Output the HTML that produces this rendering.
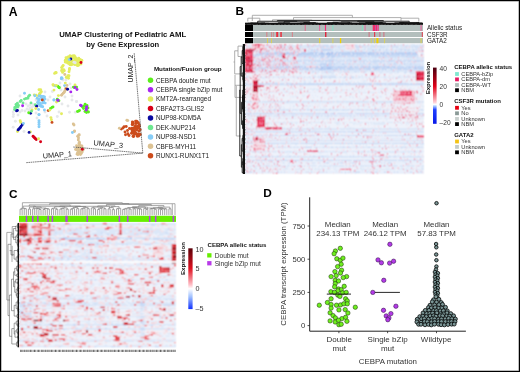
<!DOCTYPE html>
<html><head><meta charset="utf-8"><style>
html,body{margin:0;padding:0;background:#fff;}
svg{display:block;will-change:transform;}
text{font-family:"Liberation Sans",sans-serif;}
</style></head><body>
<svg width="520" height="372" viewBox="0 0 520 372" font-family="Liberation Sans, sans-serif">
<defs><filter id="bl" x="-2%" y="-2%" width="104%" height="104%"><feConvolveMatrix order="3" kernelMatrix="1 2 1 2 4 2 1 2 1" divisor="16" edgeMode="duplicate"/></filter></defs>
<rect width="520" height="372" fill="#fff"/>
<text x="8.8" y="15.7" font-size="12.2" font-weight="bold" text-anchor="start" fill="#000" >A</text>
<text x="235.4" y="15.4" font-size="11.8" font-weight="bold" text-anchor="start" fill="#000" >B</text>
<text x="9.0" y="197.7" font-size="11.8" font-weight="bold" text-anchor="start" fill="#000" >C</text>
<text x="263.2" y="196.9" font-size="11.8" font-weight="bold" text-anchor="start" fill="#000" >D</text>
<circle cx="13.2" cy="112.0" r="1.45" fill="#e6e8ea"/>
<circle cx="13.5" cy="114.5" r="1.45" fill="#e6e8ea"/>
<circle cx="13.2" cy="116.6" r="1.45" fill="#e6e8ea"/>
<circle cx="13.2" cy="127.2" r="1.45" fill="#e6e8ea"/>
<circle cx="24.0" cy="131.5" r="1.45" fill="#e6e8ea"/>
<circle cx="15.4" cy="121.3" r="1.45" fill="#e6e8ea"/>
<circle cx="26.0" cy="104.0" r="1.45" fill="#e6e8ea"/>
<circle cx="28.0" cy="106.0" r="1.45" fill="#e6e8ea"/>
<circle cx="30.0" cy="105.0" r="1.45" fill="#e6e8ea"/>
<circle cx="33.0" cy="104.5" r="1.45" fill="#e6e8ea"/>
<circle cx="27.0" cy="109.0" r="1.45" fill="#e6e8ea"/>
<circle cx="29.0" cy="110.0" r="1.45" fill="#e6e8ea"/>
<circle cx="32.0" cy="107.0" r="1.45" fill="#e6e8ea"/>
<circle cx="34.0" cy="106.0" r="1.45" fill="#e6e8ea"/>
<circle cx="25.0" cy="111.0" r="1.45" fill="#e6e8ea"/>
<circle cx="30.0" cy="108.0" r="1.45" fill="#e6e8ea"/>
<circle cx="22.0" cy="110.5" r="1.45" fill="#e6e8ea"/>
<circle cx="20.0" cy="112.0" r="1.45" fill="#e6e8ea"/>
<circle cx="57.3" cy="116.5" r="1.45" fill="#e6e8ea"/>
<circle cx="52.4" cy="91.5" r="1.45" fill="#e6e8ea"/>
<circle cx="69.5" cy="112.2" r="1.45" fill="#e6e8ea"/>
<circle cx="75.4" cy="112.2" r="1.45" fill="#e6e8ea"/>
<circle cx="76.5" cy="101.5" r="1.45" fill="#e6e8ea"/>
<circle cx="76.6" cy="101.6" r="1.45" fill="#e6e8ea"/>
<circle cx="62.0" cy="104.0" r="1.45" fill="#e6e8ea"/>
<circle cx="59.0" cy="112.0" r="1.45" fill="#e6e8ea"/>
<circle cx="65.0" cy="97.0" r="1.45" fill="#e6e8ea"/>
<circle cx="63.0" cy="80.0" r="1.45" fill="#e6e8ea"/>
<circle cx="60.0" cy="83.0" r="1.45" fill="#e6e8ea"/>
<circle cx="66.0" cy="80.0" r="1.45" fill="#e6e8ea"/>
<circle cx="71.0" cy="88.0" r="1.45" fill="#e6e8ea"/>
<circle cx="74.0" cy="62.2" r="1.45" fill="#e6e8ea"/>
<circle cx="75.0" cy="61.5" r="1.45" fill="#e6e8ea"/>
<circle cx="50.0" cy="97.0" r="1.45" fill="#e6e8ea"/>
<circle cx="48.0" cy="100.0" r="1.45" fill="#e6e8ea"/>
<circle cx="45.0" cy="112.0" r="1.45" fill="#e6e8ea"/>
<circle cx="47.0" cy="116.0" r="1.45" fill="#e6e8ea"/>
<circle cx="37.0" cy="118.0" r="1.45" fill="#e6e8ea"/>
<circle cx="45.0" cy="92.0" r="1.45" fill="#e6e8ea"/>
<circle cx="36.0" cy="100.0" r="1.45" fill="#e6e8ea"/>
<circle cx="20.0" cy="96.0" r="1.45" fill="#e6e8ea"/>
<circle cx="18.0" cy="115.0" r="1.45" fill="#e6e8ea"/>
<circle cx="72.0" cy="100.0" r="1.45" fill="#e6e8ea"/>
<circle cx="68.0" cy="106.0" r="1.45" fill="#e6e8ea"/>
<circle cx="36.0" cy="113.0" r="1.45" fill="#e6e8ea"/>
<circle cx="60.0" cy="87.0" r="1.45" fill="#e6e8ea"/>
<circle cx="61.0" cy="90.0" r="1.45" fill="#e6e8ea"/>
<circle cx="70.0" cy="84.0" r="1.45" fill="#e6e8ea"/>
<circle cx="72.0" cy="96.0" r="1.45" fill="#e6e8ea"/>
<circle cx="72.9" cy="61.2" r="1.45" fill="#e3ec5e"/>
<circle cx="81.3" cy="60.2" r="1.45" fill="#e3ec5e"/>
<circle cx="73.8" cy="61.5" r="1.45" fill="#e3ec5e"/>
<circle cx="68.1" cy="60.7" r="1.45" fill="#e3ec5e"/>
<circle cx="76.0" cy="63.8" r="1.45" fill="#e3ec5e"/>
<circle cx="66.5" cy="58.5" r="1.45" fill="#e3ec5e"/>
<circle cx="76.4" cy="61.8" r="1.45" fill="#e3ec5e"/>
<circle cx="74.2" cy="55.8" r="1.45" fill="#e3ec5e"/>
<circle cx="68.2" cy="57.8" r="1.45" fill="#e3ec5e"/>
<circle cx="65.3" cy="60.2" r="1.45" fill="#e3ec5e"/>
<circle cx="72.6" cy="64.3" r="1.45" fill="#e3ec5e"/>
<circle cx="74.0" cy="62.1" r="1.45" fill="#e3ec5e"/>
<circle cx="73.7" cy="62.4" r="1.45" fill="#e3ec5e"/>
<circle cx="72.9" cy="58.2" r="1.45" fill="#e3ec5e"/>
<circle cx="79.8" cy="62.8" r="1.45" fill="#e3ec5e"/>
<circle cx="70.4" cy="57.7" r="1.45" fill="#e3ec5e"/>
<circle cx="69.9" cy="56.0" r="1.45" fill="#e3ec5e"/>
<circle cx="78.4" cy="59.5" r="1.45" fill="#e3ec5e"/>
<circle cx="79.9" cy="59.4" r="1.45" fill="#e3ec5e"/>
<circle cx="81.0" cy="60.3" r="1.45" fill="#e3ec5e"/>
<circle cx="66.1" cy="62.0" r="1.45" fill="#e3ec5e"/>
<circle cx="78.7" cy="58.1" r="1.45" fill="#e3ec5e"/>
<circle cx="66.4" cy="58.8" r="1.45" fill="#e3ec5e"/>
<circle cx="66.9" cy="57.9" r="1.45" fill="#e3ec5e"/>
<circle cx="74.8" cy="60.0" r="1.45" fill="#e3ec5e"/>
<circle cx="68.2" cy="63.1" r="1.45" fill="#e3ec5e"/>
<circle cx="67.1" cy="62.2" r="1.45" fill="#e3ec5e"/>
<circle cx="66.9" cy="59.7" r="1.45" fill="#e3ec5e"/>
<circle cx="68.6" cy="58.1" r="1.45" fill="#e3ec5e"/>
<circle cx="70.2" cy="64.8" r="1.45" fill="#e3ec5e"/>
<circle cx="68.6" cy="59.5" r="1.45" fill="#e3ec5e"/>
<circle cx="80.0" cy="62.1" r="1.45" fill="#e3ec5e"/>
<circle cx="68.6" cy="58.0" r="1.45" fill="#e3ec5e"/>
<circle cx="78.6" cy="58.8" r="1.45" fill="#e3ec5e"/>
<circle cx="70.1" cy="56.0" r="1.45" fill="#e3ec5e"/>
<circle cx="66.4" cy="61.5" r="1.45" fill="#e3ec5e"/>
<circle cx="69.1" cy="61.7" r="1.45" fill="#e3ec5e"/>
<circle cx="71.4" cy="60.1" r="1.45" fill="#e3ec5e"/>
<circle cx="81.9" cy="60.4" r="1.45" fill="#e3ec5e"/>
<circle cx="75.0" cy="64.6" r="1.45" fill="#e3ec5e"/>
<circle cx="68.1" cy="56.9" r="1.45" fill="#e3ec5e"/>
<circle cx="81.0" cy="64.0" r="1.45" fill="#e3ec5e"/>
<circle cx="69.2" cy="57.2" r="1.45" fill="#e3ec5e"/>
<circle cx="78.0" cy="65.4" r="1.45" fill="#e3ec5e"/>
<circle cx="80.5" cy="61.7" r="1.45" fill="#e3ec5e"/>
<circle cx="72.3" cy="56.3" r="1.45" fill="#e3ec5e"/>
<circle cx="69.0" cy="62.8" r="1.45" fill="#e3ec5e"/>
<circle cx="69.4" cy="64.1" r="1.45" fill="#e3ec5e"/>
<circle cx="75.4" cy="58.4" r="1.45" fill="#e3ec5e"/>
<circle cx="67.9" cy="63.0" r="1.45" fill="#e3ec5e"/>
<circle cx="66.0" cy="57.7" r="1.45" fill="#e3ec5e"/>
<circle cx="74.8" cy="64.4" r="1.45" fill="#e3ec5e"/>
<circle cx="75.7" cy="58.2" r="1.45" fill="#e3ec5e"/>
<circle cx="72.7" cy="55.9" r="1.45" fill="#e3ec5e"/>
<circle cx="67.9" cy="59.2" r="1.45" fill="#e3ec5e"/>
<circle cx="75.0" cy="56.6" r="1.45" fill="#e3ec5e"/>
<circle cx="71.2" cy="64.8" r="1.45" fill="#e3ec5e"/>
<circle cx="77.1" cy="61.5" r="1.45" fill="#e3ec5e"/>
<circle cx="77.3" cy="65.6" r="1.45" fill="#e3ec5e"/>
<circle cx="65.2" cy="62.1" r="1.45" fill="#e3ec5e"/>
<circle cx="73.4" cy="63.1" r="1.45" fill="#e3ec5e"/>
<circle cx="66.1" cy="61.1" r="1.45" fill="#e3ec5e"/>
<circle cx="77.9" cy="64.9" r="1.45" fill="#e3ec5e"/>
<circle cx="77.9" cy="62.8" r="1.45" fill="#e3ec5e"/>
<circle cx="78.9" cy="65.1" r="1.45" fill="#e3ec5e"/>
<circle cx="71.1" cy="62.6" r="1.45" fill="#e3ec5e"/>
<circle cx="72.2" cy="63.7" r="1.45" fill="#e3ec5e"/>
<circle cx="80.2" cy="61.4" r="1.45" fill="#e3ec5e"/>
<circle cx="75.9" cy="59.3" r="1.45" fill="#e3ec5e"/>
<circle cx="75.2" cy="61.8" r="1.45" fill="#e3ec5e"/>
<circle cx="74.0" cy="62.2" r="1.45" fill="#e6e8ea"/>
<circle cx="75.2" cy="62.8" r="1.45" fill="#e6e8ea"/>
<circle cx="70.8" cy="59.0" r="1.45" fill="#0a0aa0"/>
<circle cx="69.2" cy="59.6" r="1.45" fill="#86cdf7"/>
<circle cx="81.0" cy="62.5" r="1.45" fill="#d80018"/>
<circle cx="63.2" cy="65.5" r="1.45" fill="#e3ec5e"/>
<circle cx="61.6" cy="67.6" r="1.45" fill="#e3ec5e"/>
<circle cx="62.2" cy="69.8" r="1.45" fill="#e3ec5e"/>
<circle cx="64.3" cy="70.8" r="1.45" fill="#e3ec5e"/>
<circle cx="69.4" cy="69.8" r="1.45" fill="#e3ec5e"/>
<circle cx="63.7" cy="69.7" r="1.45" fill="#e3ec5e"/>
<circle cx="62.6" cy="72.4" r="1.45" fill="#e3ec5e"/>
<circle cx="61.6" cy="70.8" r="1.45" fill="#e3ec5e"/>
<circle cx="69.0" cy="71.8" r="1.45" fill="#e3ec5e"/>
<circle cx="69.5" cy="68.5" r="1.45" fill="#e3ec5e"/>
<circle cx="62.5" cy="66.5" r="1.45" fill="#e3ec5e"/>
<circle cx="55.6" cy="72.4" r="1.45" fill="#e3ec5e"/>
<circle cx="54.6" cy="73.4" r="1.45" fill="#e3ec5e"/>
<circle cx="56.2" cy="72.8" r="1.45" fill="#e3ec5e"/>
<circle cx="68.0" cy="75.6" r="1.45" fill="#e3ec5e"/>
<circle cx="66.4" cy="77.2" r="1.45" fill="#e3ec5e"/>
<circle cx="69.0" cy="75.8" r="1.45" fill="#e3ec5e"/>
<circle cx="68.5" cy="78.2" r="1.45" fill="#e3ec5e"/>
<circle cx="66.5" cy="77.4" r="1.45" fill="#e3ec5e"/>
<circle cx="64.8" cy="74.5" r="1.45" fill="#dcc293"/>
<circle cx="61.5" cy="77.8" r="1.45" fill="#86cdf7"/>
<circle cx="61.3" cy="78.7" r="1.45" fill="#86cdf7"/>
<circle cx="62.0" cy="78.3" r="1.45" fill="#86cdf7"/>
<circle cx="53.2" cy="85.1" r="1.45" fill="#e3ec5e"/>
<circle cx="53.5" cy="85.3" r="1.45" fill="#e3ec5e"/>
<circle cx="55.4" cy="85.9" r="1.45" fill="#86cdf7"/>
<circle cx="57.8" cy="86.3" r="1.45" fill="#5bef1c"/>
<circle cx="58.9" cy="87.4" r="1.45" fill="#5bef1c"/>
<circle cx="59.3" cy="87.8" r="1.45" fill="#5bef1c"/>
<circle cx="65.3" cy="83.1" r="1.45" fill="#e3ec5e"/>
<circle cx="64.6" cy="85.6" r="1.45" fill="#86cdf7"/>
<circle cx="67.0" cy="85.4" r="1.45" fill="#dcc293"/>
<circle cx="65.5" cy="88.5" r="1.45" fill="#dcc293"/>
<circle cx="66.4" cy="89.0" r="1.45" fill="#cc4c1c"/>
<circle cx="67.6" cy="89.3" r="1.45" fill="#0a0aa0"/>
<circle cx="64.9" cy="90.7" r="1.45" fill="#dcc293"/>
<circle cx="64.2" cy="92.3" r="1.45" fill="#dcc293"/>
<circle cx="63.2" cy="93.3" r="1.45" fill="#dcc293"/>
<circle cx="62.1" cy="94.4" r="1.45" fill="#dcc293"/>
<circle cx="61.5" cy="95.3" r="1.45" fill="#dcc293"/>
<circle cx="54.0" cy="90.1" r="1.45" fill="#e3ec5e"/>
<circle cx="58.4" cy="95.6" r="1.45" fill="#e3ec5e"/>
<circle cx="75.0" cy="85.0" r="1.45" fill="#e3ec5e"/>
<circle cx="73.4" cy="87.1" r="1.45" fill="#5bef1c"/>
<circle cx="76.6" cy="87.1" r="1.45" fill="#5bef1c"/>
<circle cx="74.2" cy="87.6" r="1.45" fill="#5bef1c"/>
<circle cx="75.0" cy="87.5" r="1.45" fill="#a726ef"/>
<circle cx="77.0" cy="89.5" r="1.45" fill="#a726ef"/>
<circle cx="70.8" cy="91.9" r="1.45" fill="#a726ef"/>
<circle cx="53.9" cy="100.0" r="1.45" fill="#86cdf7"/>
<circle cx="57.3" cy="99.2" r="1.45" fill="#5bef1c"/>
<circle cx="58.9" cy="100.8" r="1.45" fill="#5bef1c"/>
<circle cx="57.9" cy="100.3" r="1.45" fill="#a726ef"/>
<circle cx="56.5" cy="102.0" r="1.45" fill="#e3ec5e"/>
<circle cx="39.0" cy="89.7" r="1.45" fill="#e3ec5e"/>
<circle cx="41.2" cy="91.8" r="1.45" fill="#e3ec5e"/>
<circle cx="39.6" cy="94.0" r="1.45" fill="#e3ec5e"/>
<circle cx="38.5" cy="96.1" r="1.45" fill="#e3ec5e"/>
<circle cx="40.6" cy="89.6" r="1.45" fill="#e3ec5e"/>
<circle cx="41.1" cy="91.7" r="1.45" fill="#e3ec5e"/>
<circle cx="40.0" cy="93.3" r="1.45" fill="#e3ec5e"/>
<circle cx="39.5" cy="94.4" r="1.45" fill="#e3ec5e"/>
<circle cx="38.1" cy="102.8" r="1.45" fill="#86cdf7"/>
<circle cx="43.7" cy="99.1" r="1.45" fill="#86cdf7"/>
<circle cx="43.7" cy="101.9" r="1.45" fill="#86cdf7"/>
<circle cx="41.2" cy="105.7" r="1.45" fill="#86cdf7"/>
<circle cx="38.1" cy="104.4" r="1.45" fill="#86cdf7"/>
<circle cx="37.7" cy="102.2" r="1.45" fill="#86cdf7"/>
<circle cx="41.5" cy="96.8" r="1.45" fill="#86cdf7"/>
<circle cx="43.4" cy="100.7" r="1.45" fill="#86cdf7"/>
<circle cx="42.7" cy="106.8" r="1.45" fill="#86cdf7"/>
<circle cx="40.0" cy="103.3" r="1.45" fill="#86cdf7"/>
<circle cx="39.1" cy="96.0" r="1.45" fill="#86cdf7"/>
<circle cx="45.2" cy="103.1" r="1.45" fill="#86cdf7"/>
<circle cx="41.2" cy="106.4" r="1.45" fill="#86cdf7"/>
<circle cx="40.2" cy="103.2" r="1.45" fill="#86cdf7"/>
<circle cx="39.1" cy="99.7" r="1.45" fill="#86cdf7"/>
<circle cx="45.0" cy="99.1" r="1.45" fill="#86cdf7"/>
<circle cx="42.4" cy="98.1" r="1.45" fill="#86cdf7"/>
<circle cx="38.6" cy="100.7" r="1.45" fill="#86cdf7"/>
<circle cx="39.8" cy="96.0" r="1.45" fill="#86cdf7"/>
<circle cx="41.3" cy="97.5" r="1.45" fill="#86cdf7"/>
<circle cx="39.2" cy="99.5" r="1.45" fill="#86cdf7"/>
<circle cx="42.8" cy="100.7" r="1.45" fill="#86cdf7"/>
<circle cx="40.1" cy="105.7" r="1.45" fill="#86cdf7"/>
<circle cx="43.5" cy="101.8" r="1.45" fill="#86cdf7"/>
<circle cx="40.1" cy="105.0" r="1.45" fill="#86cdf7"/>
<circle cx="44.5" cy="96.9" r="1.45" fill="#86cdf7"/>
<circle cx="42.8" cy="100.0" r="1.45" fill="#86cdf7"/>
<circle cx="42.8" cy="103.0" r="1.45" fill="#86cdf7"/>
<circle cx="43.3" cy="96.4" r="1.45" fill="#86cdf7"/>
<circle cx="41.5" cy="96.1" r="1.45" fill="#86cdf7"/>
<circle cx="42.3" cy="99.9" r="1.45" fill="#cc4c1c"/>
<circle cx="24.5" cy="93.3" r="1.45" fill="#86cdf7"/>
<circle cx="29.6" cy="95.3" r="1.45" fill="#6ee891"/>
<circle cx="27.8" cy="98.2" r="1.45" fill="#6ee891"/>
<circle cx="24.5" cy="99.1" r="1.45" fill="#6ee891"/>
<circle cx="21.2" cy="100.5" r="1.45" fill="#6ee891"/>
<circle cx="20.2" cy="101.5" r="1.45" fill="#6ee891"/>
<circle cx="17.4" cy="103.3" r="1.45" fill="#6ee891"/>
<circle cx="16.5" cy="105.2" r="1.45" fill="#6ee891"/>
<circle cx="16.0" cy="106.6" r="1.45" fill="#6ee891"/>
<circle cx="17.9" cy="107.1" r="1.45" fill="#6ee891"/>
<circle cx="14.6" cy="109.5" r="1.45" fill="#6ee891"/>
<circle cx="23.0" cy="102.9" r="1.45" fill="#6ee891"/>
<circle cx="31.0" cy="102.9" r="1.45" fill="#6ee891"/>
<circle cx="35.3" cy="104.8" r="1.45" fill="#6ee891"/>
<circle cx="28.5" cy="96.5" r="1.45" fill="#6ee891"/>
<circle cx="26.0" cy="98.5" r="1.45" fill="#6ee891"/>
<circle cx="15.5" cy="108.0" r="1.45" fill="#6ee891"/>
<circle cx="16.0" cy="104.5" r="1.45" fill="#6ee891"/>
<circle cx="18.5" cy="105.5" r="1.45" fill="#6ee891"/>
<circle cx="14.8" cy="107.5" r="1.45" fill="#6ee891"/>
<circle cx="17.4" cy="110.4" r="1.45" fill="#0a0aa0"/>
<circle cx="16.6" cy="110.9" r="1.45" fill="#0a0aa0"/>
<circle cx="36.7" cy="106.2" r="1.45" fill="#0a0aa0"/>
<circle cx="30.6" cy="113.2" r="1.45" fill="#0a0aa0"/>
<circle cx="22.6" cy="105.7" r="1.45" fill="#a726ef"/>
<circle cx="34.3" cy="94.9" r="1.45" fill="#e3ec5e"/>
<circle cx="36.2" cy="95.3" r="1.45" fill="#e3ec5e"/>
<circle cx="35.8" cy="108.5" r="1.45" fill="#e3ec5e"/>
<circle cx="32.0" cy="110.0" r="1.45" fill="#e3ec5e"/>
<circle cx="30.4" cy="132.0" r="1.45" fill="#e3ec5e"/>
<circle cx="17.5" cy="131.5" r="1.45" fill="#e3ec5e"/>
<circle cx="28.7" cy="112.8" r="1.45" fill="#5bef1c"/>
<circle cx="31.5" cy="111.3" r="1.45" fill="#6ee891"/>
<circle cx="34.8" cy="95.8" r="1.45" fill="#86cdf7"/>
<circle cx="37.2" cy="98.2" r="1.45" fill="#86cdf7"/>
<circle cx="38.6" cy="109.5" r="1.45" fill="#86cdf7"/>
<circle cx="39.0" cy="114.6" r="1.45" fill="#86cdf7"/>
<circle cx="44.4" cy="110.0" r="1.45" fill="#86cdf7"/>
<circle cx="54.0" cy="99.9" r="1.45" fill="#86cdf7"/>
<circle cx="53.0" cy="84.8" r="1.45" fill="#e3ec5e"/>
<circle cx="56.2" cy="85.4" r="1.45" fill="#e3ec5e"/>
<circle cx="57.8" cy="100.4" r="1.45" fill="#a726ef"/>
<circle cx="52.0" cy="107.4" r="1.45" fill="#5bef1c"/>
<circle cx="53.0" cy="106.9" r="1.45" fill="#5bef1c"/>
<circle cx="50.5" cy="108.5" r="1.45" fill="#5bef1c"/>
<circle cx="48.2" cy="110.6" r="1.45" fill="#cc4c1c"/>
<circle cx="49.8" cy="110.1" r="1.45" fill="#e3ec5e"/>
<circle cx="50.9" cy="117.6" r="1.45" fill="#e3ec5e"/>
<circle cx="51.4" cy="119.7" r="1.45" fill="#e3ec5e"/>
<circle cx="52.0" cy="122.4" r="1.45" fill="#cc4c1c"/>
<circle cx="20.2" cy="120.8" r="1.45" fill="#e3ec5e"/>
<circle cx="20.8" cy="122.4" r="1.45" fill="#e3ec5e"/>
<circle cx="18.1" cy="129.9" r="1.45" fill="#0a0aa0"/>
<circle cx="19.7" cy="128.3" r="1.45" fill="#0a0aa0"/>
<circle cx="21.3" cy="126.1" r="1.45" fill="#0a0aa0"/>
<circle cx="22.4" cy="124.5" r="1.45" fill="#0a0aa0"/>
<circle cx="20.5" cy="127.2" r="1.45" fill="#0a0aa0"/>
<circle cx="18.9" cy="129.1" r="1.45" fill="#0a0aa0"/>
<circle cx="23.4" cy="123.4" r="1.45" fill="#86cdf7"/>
<circle cx="29.1" cy="132.4" r="1.45" fill="#0a0aa0"/>
<circle cx="33.1" cy="136.3" r="1.45" fill="#d80018"/>
<circle cx="34.7" cy="138.0" r="1.45" fill="#d80018"/>
<circle cx="36.3" cy="139.6" r="1.45" fill="#d80018"/>
<circle cx="40.6" cy="141.7" r="1.45" fill="#d80018"/>
<circle cx="35.5" cy="138.8" r="1.45" fill="#d80018"/>
<circle cx="34.0" cy="137.2" r="1.45" fill="#d80018"/>
<circle cx="38.5" cy="138.8" r="1.45" fill="#e3ec5e"/>
<circle cx="39.0" cy="120.8" r="1.45" fill="#86cdf7"/>
<circle cx="39.0" cy="122.5" r="1.45" fill="#86cdf7"/>
<circle cx="39.0" cy="124.5" r="1.45" fill="#86cdf7"/>
<circle cx="39.0" cy="126.7" r="1.45" fill="#86cdf7"/>
<circle cx="39.0" cy="114.8" r="1.45" fill="#86cdf7"/>
<circle cx="78.7" cy="111.1" r="1.45" fill="#5bef1c"/>
<circle cx="77.5" cy="111.5" r="1.45" fill="#5bef1c"/>
<circle cx="79.5" cy="110.5" r="1.45" fill="#5bef1c"/>
<circle cx="86.2" cy="109.0" r="1.45" fill="#5bef1c"/>
<circle cx="85.1" cy="104.1" r="1.45" fill="#5bef1c"/>
<circle cx="84.0" cy="106.0" r="1.45" fill="#5bef1c"/>
<circle cx="87.0" cy="105.5" r="1.45" fill="#5bef1c"/>
<circle cx="88.0" cy="108.0" r="1.45" fill="#5bef1c"/>
<circle cx="87.0" cy="111.0" r="1.45" fill="#5bef1c"/>
<circle cx="85.0" cy="111.5" r="1.45" fill="#5bef1c"/>
<circle cx="88.5" cy="112.0" r="1.45" fill="#5bef1c"/>
<circle cx="83.5" cy="108.5" r="1.45" fill="#5bef1c"/>
<circle cx="82.5" cy="107.0" r="1.45" fill="#5bef1c"/>
<circle cx="85.5" cy="106.5" r="1.45" fill="#5bef1c"/>
<circle cx="86.5" cy="112.5" r="1.45" fill="#5bef1c"/>
<circle cx="81.3" cy="105.8" r="1.45" fill="#a726ef"/>
<circle cx="80.5" cy="105.2" r="1.45" fill="#a726ef"/>
<circle cx="86.7" cy="106.8" r="1.45" fill="#a726ef"/>
<circle cx="86.2" cy="110.1" r="1.45" fill="#a726ef"/>
<circle cx="86.5" cy="108.5" r="1.45" fill="#a726ef"/>
<circle cx="61.5" cy="113.8" r="1.45" fill="#e3ec5e"/>
<circle cx="73.3" cy="124.0" r="1.45" fill="#dcc293"/>
<circle cx="74.0" cy="125.0" r="1.45" fill="#dcc293"/>
<circle cx="74.5" cy="130.9" r="1.45" fill="#dcc293"/>
<circle cx="74.4" cy="131.5" r="1.45" fill="#dcc293"/>
<circle cx="79.2" cy="134.8" r="1.45" fill="#dcc293"/>
<circle cx="78.8" cy="135.2" r="1.45" fill="#dcc293"/>
<circle cx="77.7" cy="136.3" r="1.45" fill="#dcc293"/>
<circle cx="78.3" cy="140.0" r="1.45" fill="#dcc293"/>
<circle cx="79.4" cy="142.2" r="1.45" fill="#dcc293"/>
<circle cx="79.9" cy="144.9" r="1.45" fill="#dcc293"/>
<circle cx="78.8" cy="146.5" r="1.45" fill="#dcc293"/>
<circle cx="81.0" cy="146.5" r="1.45" fill="#dcc293"/>
<circle cx="78.5" cy="138.0" r="1.45" fill="#dcc293"/>
<circle cx="79.0" cy="143.5" r="1.45" fill="#dcc293"/>
<circle cx="72.4" cy="132.5" r="1.45" fill="#86cdf7"/>
<circle cx="75.6" cy="149.4" r="1.45" fill="#dcc293"/>
<circle cx="81.2" cy="146.1" r="1.45" fill="#dcc293"/>
<circle cx="77.7" cy="148.0" r="1.45" fill="#dcc293"/>
<circle cx="81.1" cy="150.0" r="1.45" fill="#dcc293"/>
<circle cx="80.4" cy="152.7" r="1.45" fill="#dcc293"/>
<circle cx="78.6" cy="153.1" r="1.45" fill="#dcc293"/>
<circle cx="76.5" cy="149.2" r="1.45" fill="#dcc293"/>
<circle cx="80.5" cy="154.5" r="1.45" fill="#dcc293"/>
<circle cx="78.5" cy="150.5" r="1.45" fill="#dcc293"/>
<circle cx="83.1" cy="149.3" r="1.45" fill="#dcc293"/>
<circle cx="80.7" cy="146.4" r="1.45" fill="#dcc293"/>
<circle cx="81.3" cy="153.4" r="1.45" fill="#dcc293"/>
<circle cx="80.6" cy="152.3" r="1.45" fill="#dcc293"/>
<circle cx="77.2" cy="154.3" r="1.45" fill="#dcc293"/>
<circle cx="79.8" cy="153.1" r="1.45" fill="#dcc293"/>
<circle cx="78.1" cy="154.5" r="1.45" fill="#dcc293"/>
<circle cx="82.3" cy="148.0" r="1.45" fill="#dcc293"/>
<circle cx="76.2" cy="149.1" r="1.45" fill="#dcc293"/>
<circle cx="79.9" cy="152.8" r="1.45" fill="#dcc293"/>
<circle cx="79.4" cy="144.3" r="1.45" fill="#dcc293"/>
<circle cx="81.9" cy="146.0" r="1.45" fill="#dcc293"/>
<circle cx="78.2" cy="153.1" r="1.45" fill="#dcc293"/>
<circle cx="76.6" cy="145.7" r="1.45" fill="#dcc293"/>
<circle cx="79.6" cy="152.3" r="1.45" fill="#dcc293"/>
<circle cx="82.2" cy="151.9" r="1.45" fill="#dcc293"/>
<circle cx="83.1" cy="149.7" r="1.45" fill="#dcc293"/>
<circle cx="77.3" cy="150.1" r="1.45" fill="#dcc293"/>
<circle cx="77.8" cy="152.4" r="1.45" fill="#dcc293"/>
<circle cx="80.6" cy="150.0" r="1.45" fill="#dcc293"/>
<circle cx="82.2" cy="150.4" r="1.45" fill="#dcc293"/>
<circle cx="78.0" cy="148.4" r="1.45" fill="#dcc293"/>
<circle cx="77.2" cy="153.8" r="1.45" fill="#dcc293"/>
<circle cx="80.1" cy="146.3" r="1.45" fill="#dcc293"/>
<circle cx="79.8" cy="149.8" r="1.45" fill="#dcc293"/>
<circle cx="82.3" cy="149.2" r="1.45" fill="#d80018"/>
<circle cx="136.6" cy="121.3" r="1.45" fill="#cc4c1c"/>
<circle cx="140.2" cy="129.6" r="1.45" fill="#cc4c1c"/>
<circle cx="134.5" cy="134.4" r="1.45" fill="#cc4c1c"/>
<circle cx="136.1" cy="129.1" r="1.45" fill="#cc4c1c"/>
<circle cx="137.4" cy="121.9" r="1.45" fill="#cc4c1c"/>
<circle cx="135.9" cy="127.8" r="1.45" fill="#cc4c1c"/>
<circle cx="133.2" cy="128.8" r="1.45" fill="#cc4c1c"/>
<circle cx="131.8" cy="128.2" r="1.45" fill="#cc4c1c"/>
<circle cx="138.7" cy="136.1" r="1.45" fill="#cc4c1c"/>
<circle cx="135.3" cy="126.2" r="1.45" fill="#cc4c1c"/>
<circle cx="132.4" cy="131.3" r="1.45" fill="#cc4c1c"/>
<circle cx="132.4" cy="124.7" r="1.45" fill="#cc4c1c"/>
<circle cx="137.4" cy="126.3" r="1.45" fill="#cc4c1c"/>
<circle cx="134.1" cy="131.3" r="1.45" fill="#cc4c1c"/>
<circle cx="131.5" cy="133.2" r="1.45" fill="#cc4c1c"/>
<circle cx="131.7" cy="129.5" r="1.45" fill="#cc4c1c"/>
<circle cx="133.0" cy="124.2" r="1.45" fill="#cc4c1c"/>
<circle cx="135.8" cy="128.2" r="1.45" fill="#cc4c1c"/>
<circle cx="134.3" cy="127.8" r="1.45" fill="#cc4c1c"/>
<circle cx="135.8" cy="123.5" r="1.45" fill="#cc4c1c"/>
<circle cx="132.5" cy="131.5" r="1.45" fill="#cc4c1c"/>
<circle cx="136.9" cy="129.8" r="1.45" fill="#cc4c1c"/>
<circle cx="139.0" cy="131.2" r="1.45" fill="#cc4c1c"/>
<circle cx="139.1" cy="124.8" r="1.45" fill="#cc4c1c"/>
<circle cx="137.9" cy="134.6" r="1.45" fill="#cc4c1c"/>
<circle cx="139.5" cy="126.2" r="1.45" fill="#cc4c1c"/>
<circle cx="133.6" cy="136.5" r="1.45" fill="#cc4c1c"/>
<circle cx="132.9" cy="133.2" r="1.45" fill="#cc4c1c"/>
<circle cx="133.1" cy="122.4" r="1.45" fill="#cc4c1c"/>
<circle cx="138.8" cy="128.0" r="1.45" fill="#cc4c1c"/>
<circle cx="138.4" cy="122.9" r="1.45" fill="#cc4c1c"/>
<circle cx="134.5" cy="132.4" r="1.45" fill="#cc4c1c"/>
<circle cx="137.3" cy="136.3" r="1.45" fill="#cc4c1c"/>
<circle cx="135.6" cy="133.7" r="1.45" fill="#cc4c1c"/>
<circle cx="135.5" cy="132.5" r="1.45" fill="#cc4c1c"/>
<circle cx="132.4" cy="122.0" r="1.45" fill="#cc4c1c"/>
<circle cx="136.0" cy="129.6" r="1.45" fill="#cc4c1c"/>
<circle cx="136.2" cy="123.3" r="1.45" fill="#cc4c1c"/>
<circle cx="132.3" cy="124.3" r="1.45" fill="#cc4c1c"/>
<circle cx="135.1" cy="133.8" r="1.45" fill="#cc4c1c"/>
<circle cx="133.8" cy="128.7" r="1.45" fill="#cc4c1c"/>
<circle cx="135.7" cy="128.1" r="1.45" fill="#cc4c1c"/>
<circle cx="137.5" cy="135.2" r="1.45" fill="#cc4c1c"/>
<circle cx="132.3" cy="128.5" r="1.45" fill="#cc4c1c"/>
<circle cx="137.9" cy="127.7" r="1.45" fill="#cc4c1c"/>
<circle cx="132.5" cy="123.6" r="1.45" fill="#cc4c1c"/>
<circle cx="135.6" cy="121.1" r="1.45" fill="#cc4c1c"/>
<circle cx="139.4" cy="134.4" r="1.45" fill="#cc4c1c"/>
<circle cx="137.5" cy="135.4" r="1.45" fill="#cc4c1c"/>
<circle cx="136.8" cy="127.7" r="1.45" fill="#cc4c1c"/>
<circle cx="136.5" cy="129.4" r="1.45" fill="#cc4c1c"/>
<circle cx="140.3" cy="134.5" r="1.45" fill="#cc4c1c"/>
<circle cx="133.1" cy="136.3" r="1.45" fill="#cc4c1c"/>
<circle cx="137.9" cy="134.0" r="1.45" fill="#cc4c1c"/>
<circle cx="138.6" cy="127.7" r="1.45" fill="#cc4c1c"/>
<circle cx="121.3" cy="129.1" r="1.45" fill="#cc4c1c"/>
<circle cx="124.1" cy="126.8" r="1.45" fill="#cc4c1c"/>
<circle cx="126.2" cy="126.5" r="1.45" fill="#cc4c1c"/>
<circle cx="125.0" cy="131.9" r="1.45" fill="#cc4c1c"/>
<circle cx="125.5" cy="134.8" r="1.45" fill="#cc4c1c"/>
<circle cx="127.9" cy="133.8" r="1.45" fill="#cc4c1c"/>
<circle cx="127.5" cy="130.5" r="1.45" fill="#cc4c1c"/>
<circle cx="129.0" cy="135.5" r="1.45" fill="#cc4c1c"/>
<circle cx="123.0" cy="128.0" r="1.45" fill="#cc4c1c"/>
<circle cx="129.5" cy="128.5" r="1.45" fill="#cc4c1c"/>
<circle cx="126.9" cy="120.2" r="1.45" fill="#dcc293"/>
<circle cx="127.8" cy="120.6" r="1.45" fill="#dcc293"/>
<circle cx="119.4" cy="128.2" r="1.45" fill="#dcc293"/>
<text x="122.7" y="37.2" font-size="7.8" font-weight="bold" text-anchor="middle" fill="#111" >UMAP Clustering of Pediatric AML</text>
<text x="122.7" y="46.5" font-size="7.6" font-weight="bold" text-anchor="middle" fill="#111" >by Gene Expression</text>
<path d="M134.2 53.2 L142.8 153.1 L25.8 162.7 M142.8 153.1 L73 147" stroke="#444" stroke-width="0.7" stroke-dasharray="1.6,0.6" fill="none"/>
<text transform="translate(43,158.5) rotate(-4.7)" font-size="7.3" fill="#222">UMAP_1</text>
<text transform="translate(93.3,145.3) rotate(5.5)" font-size="7.4" fill="#222">UMAP_3</text>
<text transform="translate(133.3,82.6) rotate(-90)" font-size="7" fill="#222">UMAP_2</text>
<text x="153.9" y="70.8" font-size="6.26" font-weight="bold" text-anchor="start" fill="#111" >Mutation/Fusion group</text>
<circle cx="150.5" cy="80.20" r="2.75" fill="#5bef1c"/>
<text x="155.9" y="82.5" font-size="6.45" font-weight="normal" text-anchor="start" fill="#222" >CEBPA double mut</text>
<circle cx="150.5" cy="89.65" r="2.75" fill="#a726ef"/>
<text x="155.9" y="92.0" font-size="6.45" font-weight="normal" text-anchor="start" fill="#222" >CEBPA single bZip mut</text>
<circle cx="150.5" cy="99.10" r="2.75" fill="#e3ec5e"/>
<text x="155.9" y="101.4" font-size="6.45" font-weight="normal" text-anchor="start" fill="#222" >KMT2A-rearranged</text>
<circle cx="150.5" cy="108.55" r="2.75" fill="#d80018"/>
<text x="155.9" y="110.8" font-size="6.45" font-weight="normal" text-anchor="start" fill="#222" >CBFA2T3-GLIS2</text>
<circle cx="150.5" cy="118.00" r="2.75" fill="#0a0aa0"/>
<text x="155.9" y="120.3" font-size="6.45" font-weight="normal" text-anchor="start" fill="#222" >NUP98-KDM5A</text>
<circle cx="150.5" cy="127.45" r="2.75" fill="#6ee891"/>
<text x="155.9" y="129.8" font-size="6.45" font-weight="normal" text-anchor="start" fill="#222" >DEK-NUP214</text>
<circle cx="150.5" cy="136.90" r="2.75" fill="#86cdf7"/>
<text x="155.9" y="139.2" font-size="6.45" font-weight="normal" text-anchor="start" fill="#222" >NUP98-NSD1</text>
<circle cx="150.5" cy="146.35" r="2.75" fill="#dcc293"/>
<text x="155.9" y="148.7" font-size="6.45" font-weight="normal" text-anchor="start" fill="#222" >CBFB-MYH11</text>
<circle cx="150.5" cy="155.80" r="2.75" fill="#cc4c1c"/>
<text x="155.9" y="158.1" font-size="6.45" font-weight="normal" text-anchor="start" fill="#222" >RUNX1-RUNX1T1</text>
<g filter="url(#bl)"><rect x="245" y="44" width="179" height="5.25" fill="#dce7f8"/>
<rect x="245" y="49.2" width="179" height="1.35" fill="#cadbf5"/>
<rect x="245" y="50.5" width="179" height="1.35" fill="#dce7f8"/>
<rect x="245" y="51.8" width="179" height="3.95" fill="#b9cff2"/>
<rect x="245" y="55.7" width="179" height="1.35" fill="#cadbf5"/>
<rect x="245" y="57" width="179" height="2.65" fill="#dce7f8"/>
<rect x="245" y="59.6" width="179" height="2.65" fill="#cadbf5"/>
<rect x="245" y="62.2" width="179" height="1.35" fill="#dce7f8"/>
<rect x="245" y="63.5" width="179" height="1.35" fill="#cadbf5"/>
<rect x="245" y="64.8" width="179" height="1.35" fill="#dce7f8"/>
<rect x="245" y="66.1" width="179" height="2.65" fill="#b9cff2"/>
<rect x="245" y="68.7" width="179" height="1.35" fill="#cadbf5"/>
<rect x="245" y="70" width="179" height="2.65" fill="#dce7f8"/>
<rect x="245" y="72.6" width="179" height="3.95" fill="#eef2fa"/>
<rect x="245" y="76.5" width="179" height="1.35" fill="#dce7f8"/>
<rect x="245" y="77.8" width="179" height="5.25" fill="#eef2fa"/>
<rect x="245" y="83" width="179" height="2.65" fill="#cadbf5"/>
<rect x="245" y="85.6" width="179" height="6.55" fill="#eef2fa"/>
<rect x="245" y="92.1" width="179" height="1.35" fill="#dce7f8"/>
<rect x="245" y="93.4" width="179" height="7.85" fill="#eef2fa"/>
<rect x="245" y="101.2" width="179" height="1.35" fill="#cadbf5"/>
<rect x="245" y="102.5" width="179" height="1.35" fill="#dce7f8"/>
<rect x="245" y="103.8" width="179" height="5.25" fill="#eef2fa"/>
<rect x="245" y="109" width="179" height="2.65" fill="#dce7f8"/>
<rect x="245" y="111.6" width="179" height="1.35" fill="#eef2fa"/>
<rect x="245" y="112.9" width="179" height="1.35" fill="#cadbf5"/>
<rect x="245" y="114.2" width="179" height="2.65" fill="#dce7f8"/>
<rect x="245" y="116.8" width="179" height="1.35" fill="#eef2fa"/>
<rect x="245" y="118.1" width="179" height="1.35" fill="#dce7f8"/>
<rect x="245" y="119.4" width="179" height="2.65" fill="#eef2fa"/>
<rect x="245" y="122" width="179" height="1.35" fill="#dce7f8"/>
<rect x="245" y="123.3" width="179" height="5.25" fill="#eef2fa"/>
<rect x="245" y="128.5" width="179" height="1.35" fill="#cadbf5"/>
<rect x="245" y="129.8" width="179" height="1.35" fill="#eef2fa"/>
<rect x="245" y="131.1" width="179" height="1.35" fill="#cadbf5"/>
<rect x="245" y="132.4" width="179" height="1.35" fill="#dce7f8"/>
<rect x="245" y="133.7" width="179" height="1.35" fill="#eef2fa"/>
<rect x="245" y="135" width="179" height="1.35" fill="#cadbf5"/>
<rect x="245" y="136.3" width="179" height="1.35" fill="#eef2fa"/>
<rect x="245" y="137.6" width="179" height="1.35" fill="#dce7f8"/>
<rect x="245" y="138.9" width="179" height="1.35" fill="#eef2fa"/>
<rect x="245" y="140.2" width="179" height="1.35" fill="#cadbf5"/>
<rect x="245" y="141.5" width="179" height="1.35" fill="#eef2fa"/>
<rect x="245" y="142.8" width="179" height="1.35" fill="#cadbf5"/>
<rect x="245" y="144.1" width="179" height="2.65" fill="#eef2fa"/>
<rect x="245" y="146.7" width="179" height="1.35" fill="#dce7f8"/>
<rect x="245" y="148" width="179" height="2.65" fill="#eef2fa"/>
<rect x="245" y="150.6" width="179" height="2.65" fill="#dce7f8"/>
<rect x="245" y="153.2" width="179" height="2.65" fill="#eef2fa"/>
<rect x="245" y="155.8" width="179" height="2.65" fill="#dce7f8"/>
<rect x="245" y="158.4" width="179" height="1.35" fill="#eef2fa"/>
<rect x="245" y="159.7" width="179" height="1.35" fill="#cadbf5"/>
<rect x="245" y="161" width="179" height="1.35" fill="#eef2fa"/>
<rect x="245" y="162.3" width="179" height="1.35" fill="#dce7f8"/>
<rect x="245" y="163.6" width="179" height="1.35" fill="#eef2fa"/>
<rect x="245" y="164.9" width="179" height="2.65" fill="#dce7f8"/>
<rect x="245" y="167.5" width="179" height="1.35" fill="#eef2fa"/>
<rect x="245" y="168.8" width="179" height="1.35" fill="#dce7f8"/>
<rect x="245" y="170.1" width="179" height="1.35" fill="#eef2fa"/>
<rect x="245" y="171.4" width="179" height="1.35" fill="#dce7f8"/>
<rect x="245" y="172.7" width="179" height="1.35" fill="#eef2fa"/>
<path stroke="#eef2fa" stroke-width="1.32" d="M247 44.65h5M265 44.65h1M268 44.65h1M270 44.65h1M274 44.65h2M278 44.65h1M280 44.65h1M282 44.65h2M287 44.65h2M290 44.65h1M293 44.65h4M298 44.65h1M302 44.65h3M306 44.65h1M311 44.65h2M316 44.65h2M329 44.65h1M334 44.65h1M336 44.65h1M338 44.65h1M341 44.65h1M343 44.65h1M358 44.65h1M361 44.65h2M366 44.65h2M369 44.65h1M374 44.65h1M377 44.65h3M382 44.65h1M385 44.65h1M393 44.65h1M396 44.65h1M399 44.65h1M405 44.65h2M408 44.65h1M410 44.65h1M415 44.65h2M418 44.65h1M422 44.65h1M275 45.95h1M329 45.95h1M389 45.95h1M399 47.25h1M245 48.55h1M267 48.55h2M270 48.55h1M274 48.55h1M288 48.55h1M291 48.55h1M293 48.55h2M296 48.55h1M301 48.55h1M303 48.55h1M306 48.55h3M310 48.55h1M312 48.55h2M315 48.55h2M319 48.55h1M334 48.55h1M336 48.55h1M338 48.55h1M341 48.55h1M343 48.55h1M355 48.55h1M359 48.55h5M366 48.55h1M372 48.55h4M377 48.55h2M380 48.55h1M382 48.55h1M384 48.55h2M388 48.55h3M393 48.55h3M397 48.55h1M405 48.55h1M408 48.55h1M410 48.55h2M413 48.55h2M420 48.55h1M422 48.55h2M255 49.85h1M333 49.85h1M345 49.85h6M352 49.85h3M366 49.85h1M381 49.85h1M418 49.85h1M265 51.15h1M271 51.15h1M283 51.15h2M287 51.15h1M290 51.15h2M303 51.15h1M339 51.15h1M365 51.15h1M381 51.15h1M394 51.15h1M402 51.15h1M405 51.15h1M411 51.15h1M257 52.45h1M273 52.45h1M299 52.45h1M306 52.45h1M319 52.45h1M323 52.45h1M326 52.45h1M334 52.45h1M389 52.45h1M418 52.45h2M421 52.45h1M423 52.45h1M253 53.75h2M258 53.75h1M314 53.75h1M317 53.75h1M351 53.75h1M379 53.75h1M385 53.75h1M418 53.75h3M423 53.75h1M263 55.05h1M274 55.05h1M276 55.05h1M287 55.05h1M295 55.05h1M355 55.05h1M367 55.05h1M381 55.05h1M400 55.05h1M418 55.05h3M259 56.35h1M286 56.35h1M291 56.35h1M370 56.35h1M416 56.35h1M419 56.35h1M259 57.65h1M324 57.65h1M400 57.65h1M254 58.95h2M267 58.95h1M270 58.95h1M272 58.95h1M276 58.95h1M288 58.95h1M297 58.95h1M317 58.95h1M342 58.95h1M377 58.95h1M379 58.95h1M383 58.95h1M392 58.95h1M265 60.25h1M289 60.25h1M345 60.25h1M367 60.25h1M371 60.25h1M380 60.25h1M387 60.25h1M402 60.25h1M302 61.55h1M307 61.55h1M324 61.55h1M334 61.55h1M336 61.55h1M352 61.55h1M365 61.55h1M369 61.55h1M406 61.55h1M300 62.85h1M327 62.85h1M342 62.85h1M400 62.85h1M289 64.15h1M301 64.15h1M303 64.15h1M381 64.15h1M385 64.15h1M398 64.15h1M421 64.15h1M322 65.45h1M355 65.45h1M379 65.45h1M403 65.45h1M253 66.75h1M263 66.75h2M284 66.75h1M291 66.75h1M303 66.75h1M319 66.75h1M359 66.75h1M371 66.75h1M282 68.05h1M289 68.05h1M298 68.05h1M301 68.05h1M309 68.05h1M392 68.05h1M407 68.05h1M266 69.35h1M269 69.35h1M273 69.35h1M314 69.35h1M371 69.35h1M387 69.35h1M389 69.35h1M276 70.65h1M279 70.65h2M285 70.65h1M292 70.65h1M298 70.65h1M303 70.65h1M342 70.65h1M368 70.65h1M380 70.65h1M384 70.65h1M387 70.65h1M404 70.65h1M407 70.65h1M416 70.65h1M420 70.65h1M300 71.95h1M320 71.95h1M252 77.15h1M257 77.15h1M272 77.15h1M378 77.15h1M252 83.65h1M264 83.65h1M285 83.65h1M325 83.65h1M357 83.65h1M409 83.65h1M252 84.95h1M258 84.95h1M344 84.95h1M383 84.95h1M250 92.75h1M258 92.75h2M262 92.75h1M266 92.75h1M273 92.75h1M280 92.75h1M283 92.75h1M293 92.75h1M296 92.75h1M299 92.75h1M304 92.75h1M311 92.75h1M313 92.75h1M316 92.75h1M318 92.75h1M320 92.75h1M342 92.75h1M344 92.75h1M348 92.75h2M354 92.75h1M357 92.75h1M367 92.75h1M377 92.75h1M383 92.75h1M387 92.75h1M389 92.75h3M419 92.75h1M423 92.75h1M253 101.8h2M256 101.8h2M261 101.8h1M277 101.8h1M301 101.8h1M369 101.8h1M393 101.8h1M395 101.8h1M400 101.8h1M405 101.8h1M407 101.8h2M415 101.8h1M245 103.2h2M248 103.2h1M258 103.2h1M260 103.2h1M263 103.2h1M268 103.2h1M271 103.2h1M274 103.2h1M276 103.2h1M279 103.2h2M294 103.2h1M297 103.2h1M300 103.2h1M305 103.2h1M307 103.2h1M310 103.2h1M313 103.2h1M315 103.2h1M317 103.2h2M321 103.2h1M323 103.2h1M325 103.2h1M332 103.2h1M334 103.2h3M339 103.2h2M344 103.2h2M348 103.2h1M355 103.2h1M360 103.2h1M363 103.2h1M369 103.2h1M372 103.2h2M389 103.2h1M392 103.2h1M415 103.2h2M421 103.2h1M423 103.2h1M246 109.7h1M257 109.7h1M266 109.7h1M291 109.7h1M381 109.7h1M390 109.7h4M397 109.7h2M400 109.7h2M404 109.7h1M406 109.7h2M409 109.7h9M250 111h1M252 111h2M256 111h2M260 111h1M263 111h1M265 111h1M270 111h1M276 111h1M290 111h1M293 111h3M298 111h1M302 111h1M304 111h3M309 111h1M313 111h2M322 111h1M326 111h2M340 111h1M348 111h3M355 111h1M357 111h1M372 111h1M379 111h1M381 111h2M388 111h3M394 111h1M405 111h1M408 111h1M410 111h1M415 111h1M420 111h1M329 113.5h1M336 113.5h1M353 113.5h1M391 113.5h1M395 113.5h1M398 113.5h1M400 113.5h1M402 113.5h1M404 113.5h1M406 113.5h1M408 113.5h2M411 113.5h4M246 114.9h1M252 114.9h1M255 114.9h1M257 114.9h1M262 114.9h1M267 114.9h1M272 114.9h3M279 114.9h1M281 114.9h1M288 114.9h1M290 114.9h1M299 114.9h1M304 114.9h1M314 114.9h1M320 114.9h1M323 114.9h1M326 114.9h1M338 114.9h1M342 114.9h1M344 114.9h1M347 114.9h1M352 114.9h1M354 114.9h2M359 114.9h1M368 114.9h1M381 114.9h1M389 114.9h1M394 114.9h3M404 114.9h1M407 114.9h1M410 114.9h1M420 114.9h1M253 116.2h1M275 116.2h1M297 116.2h1M300 116.2h1M313 116.2h1M391 116.2h2M395 116.2h11M407 116.2h3M411 116.2h5M247 118.8h1M255 118.8h2M271 118.8h2M275 118.8h2M282 118.8h1M291 118.8h1M296 118.8h2M305 118.8h1M307 118.8h1M316 118.8h1M318 118.8h1M332 118.8h1M336 118.8h1M338 118.8h1M342 118.8h1M345 118.8h2M351 118.8h1M366 118.8h1M368 118.8h1M371 118.8h1M375 118.8h1M378 118.8h1M382 118.8h2M390 118.8h2M398 118.8h1M400 118.8h2M411 118.8h1M414 118.8h1M247 122.7h1M269 122.7h1M271 122.7h2M281 122.7h1M286 122.7h1M293 122.7h1M298 122.7h1M312 122.7h1M326 122.7h1M332 122.7h2M340 122.7h2M345 122.7h1M347 122.7h2M353 122.7h1M356 122.7h2M363 122.7h1M369 122.7h1M372 122.7h1M375 122.7h1M377 122.7h1M380 122.7h1M385 122.7h2M393 122.7h1M396 122.7h1M401 122.7h1M405 122.7h1M414 122.7h2M420 122.7h1M259 129.2h1M294 129.2h1M302 129.2h1M323 129.2h1M339 129.2h1M345 129.2h1M378 129.2h1M419 129.2h1M302 131.8h1M346 131.8h1M361 131.8h1M249 133.1h2M253 133.1h1M265 133.1h1M268 133.1h2M271 133.1h2M281 133.1h1M288 133.1h1M294 133.1h1M298 133.1h1M304 133.1h1M307 133.1h2M311 133.1h1M313 133.1h2M320 133.1h2M324 133.1h1M334 133.1h1M336 133.1h1M338 133.1h1M341 133.1h2M347 133.1h1M349 133.1h1M355 133.1h1M364 133.1h1M367 133.1h1M369 133.1h1M377 133.1h2M389 133.1h1M394 133.1h1M402 133.1h2M409 133.1h2M412 133.1h1M414 133.1h1M418 133.1h2M423 133.1h1M249 135.7h1M252 135.7h1M266 135.7h1M268 135.7h1M298 135.7h1M315 135.7h1M323 135.7h1M377 135.7h1M380 135.7h1M383 135.7h1M250 138.2h1M266 138.2h1M277 138.2h1M279 138.2h2M282 138.2h1M285 138.2h1M298 138.2h1M301 138.2h1M308 138.2h1M311 138.2h1M320 138.2h1M325 138.2h1M328 138.2h1M334 138.2h1M336 138.2h1M338 138.2h1M340 138.2h1M345 138.2h1M347 138.2h2M353 138.2h1M355 138.2h1M357 138.2h1M359 138.2h1M364 138.2h1M366 138.2h1M377 138.2h1M379 138.2h2M390 138.2h1M405 138.2h1M411 138.2h2M414 138.2h1M421 138.2h1M423 138.2h1M246 140.9h1M253 140.9h1M258 140.9h2M279 140.9h1M370 140.9h1M404 140.9h1M254 143.4h1M259 143.4h2M263 143.4h1M353 143.4h1M391 143.4h1M312 147.4h2M325 147.4h1M259 151.2h1M262 151.2h1M267 151.2h1M271 151.2h1M277 151.2h1M280 151.2h1M283 151.2h1M285 151.2h1M292 151.2h1M297 151.2h2M302 151.2h1M320 151.2h1M322 151.2h1M328 151.2h1M331 151.2h1M338 151.2h1M340 151.2h2M349 151.2h1M351 151.2h1M360 151.2h1M365 151.2h2M370 151.2h1M373 151.2h1M382 151.2h1M385 151.2h1M387 151.2h1M391 151.2h1M394 151.2h1M399 151.2h1M401 151.2h1M405 151.2h1M413 151.2h1M417 151.2h1M422 151.2h1M250 152.6h2M256 152.6h1M265 152.6h1M267 152.6h1M269 152.6h1M271 152.6h2M274 152.6h1M276 152.6h2M280 152.6h1M288 152.6h1M294 152.6h1M296 152.6h1M302 152.6h1M305 152.6h3M310 152.6h1M316 152.6h1M324 152.6h1M326 152.6h1M328 152.6h2M333 152.6h1M337 152.6h1M347 152.6h5M353 152.6h3M359 152.6h1M366 152.6h1M369 152.6h1M382 152.6h2M388 152.6h1M399 152.6h1M406 152.6h1M410 152.6h2M417 152.6h1M422 152.6h2M253 156.4h1M308 156.4h1M367 156.4h1M385 156.4h1M402 156.4h1M246 157.8h1M249 157.8h1M257 157.8h1M270 157.8h2M274 157.8h1M278 157.8h1M282 157.8h3M291 157.8h1M299 157.8h1M317 157.8h1M320 157.8h1M325 157.8h1M330 157.8h1M335 157.8h1M340 157.8h1M348 157.8h1M357 157.8h1M359 157.8h2M365 157.8h2M368 157.8h1M373 157.8h3M377 157.8h2M391 157.8h2M397 157.8h2M408 157.8h1M422 157.8h1M248 160.4h1M251 160.4h1M266 160.4h1M274 160.4h1M352 160.4h1M364 160.4h1M397 160.4h1M423 160.4h1M286 162.9h1M363 162.9h1M245 165.6h1M248 165.6h1M250 165.6h1M255 165.6h1M258 165.6h1M262 165.6h1M270 165.6h1M273 165.6h1M282 165.6h1M286 165.6h1M290 165.6h1M296 165.6h1M303 165.6h1M306 165.6h1M308 165.6h1M317 165.6h2M322 165.6h1M326 165.6h1M328 165.6h1M338 165.6h1M344 165.6h1M347 165.6h2M352 165.6h1M354 165.6h1M357 165.6h1M359 165.6h1M375 165.6h2M386 165.6h1M398 165.6h2M404 165.6h1M415 165.6h1M417 165.6h1M419 165.6h1M421 165.6h1M246 166.9h2M252 166.9h1M257 166.9h1M261 166.9h1M264 166.9h1M271 166.9h1M274 166.9h1M279 166.9h1M289 166.9h1M291 166.9h1M295 166.9h2M302 166.9h1M305 166.9h2M310 166.9h2M313 166.9h1M315 166.9h3M320 166.9h1M331 166.9h2M345 166.9h1M358 166.9h2M364 166.9h1M367 166.9h1M369 166.9h1M377 166.9h1M388 166.9h1M390 166.9h3M397 166.9h2M403 166.9h1M405 166.9h2M410 166.9h1M414 166.9h2M420 166.9h1M245 169.4h1M247 169.4h1M249 169.4h1M253 169.4h2M257 169.4h1M260 169.4h1M263 169.4h1M271 169.4h1M281 169.4h1M287 169.4h1M289 169.4h1M291 169.4h1M294 169.4h1M300 169.4h1M306 169.4h1M313 169.4h1M325 169.4h1M330 169.4h4M336 169.4h1M338 169.4h1M352 169.4h2M359 169.4h1M368 169.4h1M378 169.4h2M395 169.4h3M408 169.4h1M414 169.4h1M420 169.4h1M282 172.1h1"/>
<path stroke="#f3e4ec" stroke-width="1.32" d="M321 44.65h1M330 44.65h1M348 44.65h1M350 44.65h1M365 44.65h1M409 44.65h1M247 45.95h1M252 45.95h1M257 45.95h1M260 45.95h2M264 45.95h1M271 45.95h1M345 45.95h2M350 45.95h1M353 45.95h2M370 45.95h1M396 45.95h1M251 47.25h1M254 47.25h1M260 47.25h1M262 47.25h1M268 47.25h1M273 47.25h1M276 47.25h1M295 47.25h1M298 47.25h1M325 47.25h1M345 47.25h7M354 47.25h1M366 47.25h1M376 47.25h1M390 47.25h1M251 48.55h1M345 48.55h1M351 48.55h1M353 48.55h1M402 48.55h1M407 48.55h1M256 49.85h2M262 49.85h2M277 49.85h1M280 49.85h1M301 49.85h1M320 49.85h1M360 49.85h1M390 49.85h1M263 51.15h1M292 51.15h1M302 51.15h1M322 51.15h1M380 51.15h1M397 51.15h1M415 51.15h1M254 52.45h2M269 52.45h1M271 52.45h1M285 52.45h1M289 52.45h1M300 52.45h1M330 52.45h1M379 52.45h1M382 52.45h1M394 52.45h1M420 52.45h1M296 53.75h2M333 53.75h1M337 53.75h1M375 53.75h1M390 53.75h1M417 53.75h1M264 55.05h1M291 55.05h1M364 55.05h1M387 55.05h1M422 55.05h2M257 56.35h1M260 56.35h1M274 56.35h2M285 56.35h1M289 56.35h1M319 56.35h1M325 56.35h2M346 56.35h1M418 56.35h1M420 56.35h4M256 57.65h1M278 57.65h1M296 57.65h1M302 57.65h1M352 57.65h1M360 57.65h1M366 57.65h1M389 57.65h1M279 58.95h1M302 58.95h1M402 58.95h1M415 58.95h1M257 60.25h1M267 60.25h1M276 60.25h1M291 60.25h1M296 60.25h1M302 60.25h1M321 60.25h1M338 60.25h1M358 60.25h1M385 60.25h1M292 61.55h1M345 61.55h1M385 61.55h1M395 61.55h1M411 61.55h1M265 62.85h1M271 62.85h1M285 62.85h2M328 62.85h1M368 62.85h1M387 62.85h1M398 62.85h1M271 64.15h1M327 64.15h1M367 64.15h1M373 64.15h1M382 64.15h1M332 65.45h1M363 65.45h1M387 65.45h1M394 65.45h1M421 65.45h1M257 66.75h1M262 66.75h1M268 66.75h1M306 66.75h1M308 66.75h1M313 66.75h1M353 66.75h1M390 66.75h1M396 66.75h1M256 68.05h2M269 68.05h1M320 68.05h1M345 68.05h1M359 68.05h1M380 68.05h1M385 68.05h1M412 68.05h1M259 69.35h1M268 69.35h1M275 69.35h1M277 69.35h1M290 69.35h2M309 69.35h1M313 69.35h1M372 69.35h1M394 69.35h1M402 69.35h1M257 70.65h1M270 70.65h1M311 70.65h1M315 70.65h1M348 70.65h1M364 70.65h1M418 70.65h1M258 71.95h1M274 71.95h1M298 71.95h1M321 71.95h1M323 71.95h1M332 71.95h1M340 71.95h1M377 71.95h1M261 73.25h1M264 73.25h1M277 73.25h1M280 73.25h1M252 74.55h1M280 74.55h1M313 74.55h1M344 74.55h1M385 74.55h1M391 74.55h1M245 75.85h1M248 75.85h1M253 75.85h1M255 75.85h2M264 75.85h1M254 77.15h2M259 77.15h1M295 77.15h1M356 77.15h1M389 77.15h1M397 77.15h1M407 77.15h1M252 78.45h2M272 78.45h1M283 78.45h1M346 78.45h1M400 78.45h1M404 78.45h1M301 79.75h1M330 79.75h1M339 79.75h1M363 79.75h1M414 79.75h1M275 81.05h1M277 81.05h1M279 81.05h1M245 82.35h1M325 82.35h1M353 82.35h1M378 82.35h1M404 82.35h1M247 83.65h2M279 83.65h1M284 83.65h1M294 83.65h1M372 83.65h1M267 84.95h1M270 84.95h2M274 84.95h1M298 84.95h1M372 84.95h1M375 84.95h1M346 86.25h1M369 86.25h1M381 86.25h1M405 86.25h1M252 87.55h1M278 87.55h1M291 87.55h1M297 87.55h1M341 87.55h1M356 87.55h1M401 87.55h1M278 88.85h1M308 88.85h1M360 88.85h1M406 88.85h1M252 91.45h1M259 91.45h1M287 91.45h1M314 91.45h1M330 91.45h1M340 91.45h1M251 92.75h2M254 92.75h1M256 92.75h1M261 92.75h1M275 92.75h1M303 92.75h1M376 92.75h1M393 92.75h1M395 92.75h1M295 94.05h1M298 94.05h1M309 94.05h1M352 94.05h1M392 94.05h1M279 95.35h1M287 95.35h1M295 95.35h1M377 95.35h1M247 96.65h1M252 96.65h1M264 96.65h1M266 96.65h1M268 96.65h1M265 97.95h1M310 97.95h1M357 97.95h1M370 97.95h1M392 97.95h1M415 97.95h1M264 99.25h1M266 99.25h1M276 99.25h1M280 99.25h1M282 99.25h1M290 99.25h1M299 99.25h1M324 99.25h1M343 99.25h1M345 99.25h1M358 99.25h1M418 99.25h1M249 100.6h1M252 100.6h1M263 100.6h1M272 100.6h1M375 100.6h1M383 100.6h1M385 100.6h1M252 101.8h1M255 101.8h1M285 101.8h1M335 101.8h1M394 101.8h1M396 101.8h4M401 101.8h1M403 101.8h1M406 101.8h1M409 101.8h1M411 101.8h2M421 101.8h1M252 103.2h2M256 103.2h1M367 103.2h1M396 103.2h1M260 104.5h1M280 104.5h1M315 104.5h1M318 104.5h1M322 104.5h1M325 104.5h1M365 104.5h2M377 104.5h1M385 104.5h1M420 104.5h1M255 105.8h1M341 105.8h1M392 105.8h1M413 105.8h1M253 107.1h2M315 107.1h1M353 107.1h1M384 107.1h1M267 108.4h1M289 108.4h1M314 108.4h1M345 108.4h1M358 108.4h1M377 108.4h1M390 108.4h2M394 108.4h3M399 108.4h2M402 108.4h2M407 108.4h3M412 108.4h1M414 108.4h3M252 109.7h5M259 109.7h2M264 109.7h1M271 109.7h1M327 109.7h1M385 109.7h1M394 109.7h1M396 109.7h1M408 109.7h1M418 109.7h1M310 111h1M371 111h1M392 111h2M396 111h9M409 111h1M411 111h4M416 111h2M245 112.2h1M264 112.2h1M302 112.2h1M319 112.2h1M363 112.2h1M390 112.2h1M393 112.2h4M399 112.2h2M405 112.2h4M410 112.2h3M414 112.2h3M252 113.5h1M275 113.5h1M410 113.5h1M268 114.9h1M277 114.9h1M356 114.9h1M370 114.9h1M390 114.9h4M397 114.9h1M399 114.9h2M403 114.9h1M406 114.9h1M412 114.9h1M414 114.9h4M245 116.2h1M250 116.2h1M267 116.2h1M332 116.2h1M367 116.2h1M390 116.2h1M393 116.2h1M276 117.5h1M306 117.5h2M354 117.5h1M391 117.5h1M393 117.5h2M401 117.5h1M405 117.5h5M414 117.5h1M416 117.5h1M245 118.8h1M253 118.8h1M417 118.8h1M291 120h1M327 120h1M408 120h1M414 120h1M277 121.4h1M284 121.4h1M311 121.4h1M383 121.4h1M422 121.4h1M246 122.7h1M253 122.7h1M277 122.7h1M324 122.7h1M364 122.7h1M419 122.7h1M422 122.7h1M289 124h1M306 124h1M324 124h1M338 125.2h1M406 125.2h1M422 125.2h1M314 126.5h1M368 126.5h1M374 126.5h1M395 126.5h1M245 127.9h1M247 127.9h1M364 127.9h1M257 129.2h1M260 129.2h1M299 129.2h1M337 129.2h2M351 129.2h1M372 129.2h1M398 129.2h1M407 129.2h1M252 130.4h1M256 130.4h1M393 130.4h1M413 130.4h1M254 131.8h1M332 131.8h1M373 131.8h1M376 131.8h1M302 133.1h1M309 133.1h1M346 133.1h1M411 133.1h1M416 133.1h1M271 134.4h1M298 134.4h1M305 134.4h1M312 134.4h1M320 134.4h1M323 134.4h1M341 134.4h1M365 134.4h1M370 134.4h1M400 134.4h1M251 135.7h1M279 135.7h1M319 135.7h2M362 135.7h1M374 135.7h1M273 136.9h1M287 136.9h1M298 136.9h1M310 136.9h1M312 136.9h1M314 136.9h1M336 136.9h1M345 136.9h1M351 136.9h1M357 136.9h1M366 136.9h1M368 136.9h1M379 136.9h1M385 136.9h1M390 136.9h1M396 136.9h1M410 136.9h1M245 138.2h1M261 138.2h1M326 138.2h1M272 139.6h2M278 139.6h2M283 139.6h1M285 139.6h2M292 139.6h1M295 139.6h1M314 139.6h1M321 139.6h1M339 139.6h1M341 139.6h1M348 139.6h1M361 139.6h1M377 139.6h2M380 139.6h1M385 139.6h1M388 139.6h1M393 139.6h1M401 139.6h1M410 139.6h1M419 139.6h1M256 140.9h2M261 140.9h1M264 140.9h2M299 140.9h2M305 140.9h1M372 140.9h2M378 140.9h1M388 140.9h1M405 140.9h1M411 140.9h1M268 142.2h1M300 142.2h1M349 142.2h1M363 142.2h1M253 143.4h1M255 143.4h1M257 143.4h2M261 143.4h2M264 143.4h1M286 143.4h1M299 143.4h1M316 143.4h1M333 143.4h1M421 143.4h1M354 144.8h1M389 144.8h1M402 144.8h1M254 146.1h1M270 146.1h1M272 146.1h1M276 146.1h1M301 146.1h1M311 146.1h1M326 146.1h1M245 147.4h1M253 147.4h1M255 147.4h4M261 147.4h3M269 147.4h1M301 148.7h1M350 148.7h1M393 148.7h1M412 148.7h1M274 149.9h1M279 149.9h1M294 149.9h1M309 149.9h1M350 149.9h1M398 149.9h1M408 149.9h1M411 149.9h1M296 151.2h1M335 151.2h1M343 151.2h1M263 152.6h1M300 152.6h1M352 152.6h1M398 152.6h1M407 152.6h1M418 152.6h1M246 153.9h1M308 153.9h1M338 153.9h1M353 153.9h1M394 153.9h1M310 155.2h1M372 155.2h1M378 155.2h1M385 155.2h1M422 155.2h1M248 156.4h1M296 156.4h1M330 156.4h1M332 156.4h1M363 156.4h1M422 156.4h1M313 157.8h1M395 157.8h1M261 159.1h1M277 159.1h1M281 159.1h1M357 159.1h1M372 159.1h1M383 159.1h1M246 160.4h1M255 160.4h1M326 160.4h1M334 160.4h1M340 160.4h1M383 160.4h1M417 160.4h1M253 161.7h1M256 161.7h1M265 161.7h2M281 161.7h1M287 161.7h1M299 161.7h1M329 161.7h2M341 161.7h1M349 161.7h1M364 161.7h1M385 161.7h1M250 162.9h1M262 162.9h1M311 162.9h1M254 164.2h1M266 164.2h1M268 164.2h1M332 164.2h1M345 164.2h1M348 164.2h1M411 164.2h1M280 165.6h1M305 165.6h1M292 166.9h1M249 168.2h1M367 168.2h1M264 169.4h1M268 169.4h1M355 169.4h1M271 170.8h1M284 170.8h1M295 170.8h1M369 170.8h1M417 170.8h1M269 172.1h1M273 172.1h1M286 172.1h1M301 172.1h1M307 172.1h1M314 172.1h1M413 172.1h1M316 173.3h1M333 173.3h1M351 173.3h1M366 173.3h1M405 173.3h1"/>
<path stroke="#dce7f8" stroke-width="1.32" d="M267 49.85h1M308 49.85h1M384 49.85h1M325 52.45h1M367 52.45h1M397 52.45h1M417 52.45h1M422 52.45h1M255 53.75h1M325 53.75h1M340 53.75h1M366 53.75h1M421 53.75h2M325 55.05h1M340 55.05h1M405 55.05h1M330 56.35h1M254 60.25h2M258 60.25h1M278 60.25h1M283 60.25h1M286 60.25h1M299 60.25h1M334 60.25h1M340 60.25h1M342 60.25h1M352 60.25h1M362 60.25h1M368 60.25h1M372 60.25h1M395 60.25h2M412 60.25h2M253 61.55h2M260 61.55h1M264 61.55h1M274 61.55h1M276 61.55h1M281 61.55h1M283 61.55h1M286 61.55h2M291 61.55h1M294 61.55h2M304 61.55h3M310 61.55h1M312 61.55h1M316 61.55h1M341 61.55h1M343 61.55h1M347 61.55h3M356 61.55h3M360 61.55h1M382 61.55h1M393 61.55h1M399 61.55h1M404 61.55h1M407 61.55h1M420 61.55h1M422 61.55h1M302 64.15h1M347 66.75h1M404 66.75h2M266 68.05h1M333 68.05h1M346 68.05h1M354 68.05h1M370 68.05h1M411 68.05h1M381 69.35h1M412 69.35h1M246 73.25h1M254 73.25h2M257 73.25h1M262 73.25h1M265 73.25h1M268 73.25h3M273 73.25h1M284 73.25h1M288 73.25h2M296 73.25h1M299 73.25h1M303 73.25h1M306 73.25h1M310 73.25h1M312 73.25h1M316 73.25h2M321 73.25h3M325 73.25h2M329 73.25h1M331 73.25h3M339 73.25h2M348 73.25h1M350 73.25h1M352 73.25h1M363 73.25h1M365 73.25h1M376 73.25h1M380 73.25h2M383 73.25h1M385 73.25h1M389 73.25h3M395 73.25h1M397 73.25h1M404 73.25h2M410 73.25h6M249 74.55h1M328 74.55h1M331 74.55h1M333 74.55h1M247 75.85h1M258 75.85h1M266 75.85h1M268 75.85h1M270 75.85h1M276 75.85h1M284 75.85h1M291 75.85h1M295 75.85h1M299 75.85h3M314 75.85h2M318 75.85h1M320 75.85h1M322 75.85h6M329 75.85h7M345 75.85h1M351 75.85h1M355 75.85h1M358 75.85h1M361 75.85h2M365 75.85h1M370 75.85h1M372 75.85h1M384 75.85h2M393 75.85h1M399 75.85h2M402 75.85h1M407 75.85h1M409 75.85h1M415 75.85h1M262 78.45h3M268 78.45h1M284 78.45h1M294 78.45h1M297 78.45h1M303 78.45h1M307 78.45h1M310 78.45h1M319 78.45h1M324 78.45h1M327 78.45h1M329 78.45h2M335 78.45h1M343 78.45h2M348 78.45h1M352 78.45h2M355 78.45h2M358 78.45h1M362 78.45h1M366 78.45h1M385 78.45h1M389 78.45h2M393 78.45h1M395 78.45h1M397 78.45h2M401 78.45h1M283 79.75h1M311 79.75h1M403 79.75h1M245 81.05h1M247 81.05h1M258 81.05h1M265 81.05h1M280 81.05h3M285 81.05h1M294 81.05h1M301 81.05h1M303 81.05h3M308 81.05h1M310 81.05h1M313 81.05h1M316 81.05h1M333 81.05h1M342 81.05h3M347 81.05h1M351 81.05h1M361 81.05h1M363 81.05h4M384 81.05h1M387 81.05h1M389 81.05h1M402 81.05h1M404 81.05h1M407 81.05h1M409 81.05h2M415 81.05h1M417 81.05h1M419 81.05h1M421 81.05h1M247 82.35h1M272 82.35h1M275 82.35h2M284 82.35h1M287 82.35h1M289 82.35h1M304 82.35h2M309 82.35h2M316 82.35h1M324 82.35h1M327 82.35h1M329 82.35h1M331 82.35h1M335 82.35h1M337 82.35h1M342 82.35h1M345 82.35h1M349 82.35h2M354 82.35h1M357 82.35h2M363 82.35h1M371 82.35h1M374 82.35h1M377 82.35h1M386 82.35h1M391 82.35h1M393 82.35h1M396 82.35h1M401 82.35h2M405 82.35h1M417 82.35h1M421 82.35h1M423 82.35h1M289 83.65h1M302 83.65h1M306 83.65h1M315 83.65h1M319 83.65h1M336 83.65h1M351 83.65h2M354 83.65h1M363 83.65h1M366 83.65h1M386 83.65h2M412 83.65h1M415 83.65h1M248 84.95h1M250 84.95h1M281 84.95h1M283 84.95h1M285 84.95h1M288 84.95h1M332 84.95h1M339 84.95h1M361 84.95h1M367 84.95h1M374 84.95h1M387 84.95h1M394 84.95h2M403 84.95h1M407 84.95h1M250 86.25h1M328 86.25h1M340 86.25h1M362 86.25h1M366 86.25h1M407 86.25h1M292 87.55h1M355 87.55h1M386 87.55h2M410 87.55h1M248 88.85h1M259 88.85h1M283 88.85h1M287 88.85h1M289 88.85h1M292 88.85h2M299 88.85h4M304 88.85h1M310 88.85h2M313 88.85h3M317 88.85h1M322 88.85h1M324 88.85h2M327 88.85h1M333 88.85h1M335 88.85h1M337 88.85h1M353 88.85h1M358 88.85h1M366 88.85h1M368 88.85h1M371 88.85h1M380 88.85h4M387 88.85h1M394 88.85h1M399 88.85h1M408 88.85h2M411 88.85h1M413 88.85h1M420 88.85h2M247 90.15h1M263 90.15h2M280 90.15h1M282 90.15h2M287 90.15h2M294 90.15h1M299 90.15h1M301 90.15h1M307 90.15h2M312 90.15h2M316 90.15h3M321 90.15h1M330 90.15h2M337 90.15h1M342 90.15h3M347 90.15h1M349 90.15h1M353 90.15h2M358 90.15h1M361 90.15h1M364 90.15h1M378 90.15h1M390 90.15h1M392 90.15h1M396 90.15h1M400 90.15h2M408 90.15h1M417 90.15h1M422 90.15h1M284 91.45h1M359 91.45h1M251 95.35h1M282 95.35h1M302 95.35h1M304 95.35h1M312 95.35h1M315 95.35h1M386 95.35h1M249 96.65h2M265 96.65h1M267 96.65h1M271 96.65h2M274 96.65h1M283 96.65h1M290 96.65h1M292 96.65h2M295 96.65h3M303 96.65h1M306 96.65h1M317 96.65h1M322 96.65h1M329 96.65h1M333 96.65h1M335 96.65h2M341 96.65h1M345 96.65h1M349 96.65h2M352 96.65h1M359 96.65h1M367 96.65h1M370 96.65h1M375 96.65h1M379 96.65h3M417 96.65h1M420 96.65h1M277 97.95h1M313 97.95h1M320 97.95h1M353 97.95h1M365 97.95h1M369 97.95h1M363 99.25h1M367 99.25h1M314 100.6h1M320 100.6h1M337 100.6h1M343 100.6h1M258 101.8h1M267 101.8h1M284 101.8h1M305 101.8h1M309 101.8h1M340 101.8h1M349 101.8h2M354 101.8h1M367 101.8h1M423 101.8h1M264 105.8h2M270 105.8h2M274 105.8h4M290 105.8h1M293 105.8h2M298 105.8h2M302 105.8h1M305 105.8h1M307 105.8h1M309 105.8h2M312 105.8h1M317 105.8h1M319 105.8h1M333 105.8h1M335 105.8h1M348 105.8h2M351 105.8h1M353 105.8h1M360 105.8h3M365 105.8h1M372 105.8h1M374 105.8h2M381 105.8h1M385 105.8h1M390 105.8h1M397 105.8h1M402 105.8h1M421 105.8h1M423 105.8h1M245 107.1h2M258 107.1h1M260 107.1h1M266 107.1h1M268 107.1h1M271 107.1h1M274 107.1h1M278 107.1h4M283 107.1h1M293 107.1h1M297 107.1h1M303 107.1h1M305 107.1h1M308 107.1h1M323 107.1h3M332 107.1h1M340 107.1h1M346 107.1h1M355 107.1h1M358 107.1h1M364 107.1h1M367 107.1h2M374 107.1h1M380 107.1h1M392 107.1h2M395 107.1h1M408 107.1h1M414 107.1h1M423 107.1h1M261 108.4h1M280 108.4h1M284 108.4h1M290 108.4h1M307 108.4h1M313 108.4h1M320 108.4h1M330 108.4h1M380 108.4h1M257 112.2h1M260 112.2h1M355 112.2h1M366 112.2h1M255 113.5h1M258 113.5h1M274 113.5h1M276 113.5h1M281 113.5h1M285 113.5h1M287 113.5h1M296 113.5h1M298 113.5h1M321 113.5h1M335 113.5h1M345 113.5h1M354 113.5h2M379 113.5h2M392 113.5h3M396 113.5h2M399 113.5h1M401 113.5h1M403 113.5h1M405 113.5h1M407 113.5h1M415 113.5h1M417 113.5h1M249 117.5h1M327 117.5h1M350 117.5h1M352 117.5h1M365 117.5h2M371 117.5h2M385 117.5h1M265 120h1M315 120h1M318 120h1M323 120h1M335 120h1M339 120h1M386 120h1M255 121.4h1M338 121.4h1M246 124h3M252 124h2M271 124h1M275 124h1M280 124h1M282 124h1M285 124h1M291 124h2M296 124h1M303 124h1M307 124h1M311 124h1M325 124h1M336 124h3M340 124h1M344 124h1M353 124h2M356 124h1M358 124h1M360 124h1M368 124h1M371 124h1M373 124h12M395 124h1M401 124h1M406 124h1M408 124h1M411 124h1M413 124h2M279 125.2h1M306 125.2h1M348 125.2h1M251 126.5h1M315 126.5h1M329 126.5h1M348 126.5h1M261 127.9h1M263 127.9h1M283 127.9h2M288 127.9h1M291 127.9h1M297 127.9h2M302 127.9h1M307 127.9h1M309 127.9h1M314 127.9h1M316 127.9h1M319 127.9h1M321 127.9h1M325 127.9h1M327 127.9h3M344 127.9h2M347 127.9h1M349 127.9h3M353 127.9h1M362 127.9h1M372 127.9h1M375 127.9h1M378 127.9h1M380 127.9h1M389 127.9h2M415 127.9h1M422 127.9h1M254 129.2h1M291 129.2h1M298 129.2h1M305 129.2h1M326 129.2h1M331 129.2h1M356 129.2h1M363 129.2h3M370 129.2h2M386 129.2h1M393 129.2h1M395 129.2h1M412 129.2h2M416 129.2h1M423 129.2h1M277 130.4h1M302 130.4h2M313 130.4h1M315 130.4h1M331 130.4h1M395 130.4h1M245 131.8h1M258 131.8h1M278 131.8h1M280 131.8h1M293 131.8h1M296 131.8h1M320 131.8h3M337 131.8h1M353 131.8h1M356 131.8h1M380 131.8h1M393 131.8h1M408 131.8h1M423 131.8h1M247 135.7h1M259 135.7h2M264 135.7h1M274 135.7h1M278 135.7h1M282 135.7h1M291 135.7h1M302 135.7h1M321 135.7h1M326 135.7h1M328 135.7h1M332 135.7h1M337 135.7h4M351 135.7h1M361 135.7h1M369 135.7h2M372 135.7h1M382 135.7h1M386 135.7h1M398 135.7h1M401 135.7h1M415 135.7h1M368 139.6h1M266 140.9h1M288 140.9h1M307 140.9h1M311 140.9h1M313 140.9h1M318 140.9h1M323 140.9h2M331 140.9h1M334 140.9h1M353 140.9h1M361 140.9h1M374 140.9h2M389 140.9h1M419 140.9h1M351 142.2h1M376 142.2h1M420 142.2h1M266 143.4h1M279 143.4h1M289 143.4h2M319 143.4h1M367 143.4h2M389 143.4h1M393 143.4h1M398 143.4h1M414 143.4h1M419 143.4h1M246 144.8h1M265 144.8h1M272 144.8h1M274 144.8h1M278 144.8h1M283 144.8h1M290 144.8h1M295 144.8h2M306 144.8h1M312 144.8h1M316 144.8h1M320 144.8h1M322 144.8h2M325 144.8h3M340 144.8h1M343 144.8h1M348 144.8h1M352 144.8h1M356 144.8h1M359 144.8h2M363 144.8h1M366 144.8h1M373 144.8h1M375 144.8h1M377 144.8h1M385 144.8h1M392 144.8h2M404 144.8h2M407 144.8h1M412 144.8h1M415 144.8h1M420 144.8h4M280 146.1h1M289 146.1h1M354 146.1h1M366 146.1h1M384 146.1h1M391 146.1h1M403 146.1h1M417 146.1h1M401 148.7h1M406 148.7h1M307 149.9h1M341 149.9h1M379 149.9h1M288 153.9h1M320 153.9h1M346 153.9h1M383 153.9h1M410 153.9h1M287 155.2h1M296 155.2h1M327 155.2h1M331 155.2h1M353 155.2h1M398 155.2h1M285 159.1h1M304 159.1h1M312 159.1h1M385 159.1h1M279 160.4h1M299 160.4h1M313 160.4h3M323 160.4h2M337 160.4h1M369 160.4h1M378 160.4h2M411 160.4h2M403 161.7h1M267 164.2h1M269 164.2h1M288 164.2h1M313 164.2h1M335 164.2h1M353 164.2h1M360 164.2h1M371 164.2h1M384 164.2h1M394 164.2h1M246 168.2h1M250 168.2h1M254 168.2h3M266 168.2h1M273 168.2h1M280 168.2h1M285 168.2h3M299 168.2h2M312 168.2h1M315 168.2h1M318 168.2h1M322 168.2h1M330 168.2h1M333 168.2h1M335 168.2h1M345 168.2h1M360 168.2h2M363 168.2h1M368 168.2h1M379 168.2h1M386 168.2h1M388 168.2h1M395 168.2h1M401 168.2h2M406 168.2h1M408 168.2h1M413 168.2h1M421 168.2h3M311 170.8h1M336 170.8h1M353 170.8h1M362 170.8h1M368 170.8h1M377 170.8h1M387 170.8h1M406 170.8h1M421 170.8h1M345 173.3h1M355 173.3h1M370 173.3h1M404 173.3h1"/>
<path stroke="#f5d2dd" stroke-width="1.32" d="M253 44.65h1M262 44.65h2M277 44.65h1M286 44.65h1M291 44.65h1M299 44.65h1M342 44.65h1M344 44.65h2M347 44.65h1M349 44.65h1M351 44.65h4M398 44.65h1M246 45.95h1M254 45.95h1M256 45.95h1M262 45.95h1M267 45.95h1M270 45.95h1M290 45.95h1M322 45.95h1M347 45.95h3M403 45.95h1M247 47.25h1M253 47.25h1M256 47.25h1M261 47.25h1M263 47.25h2M324 47.25h1M352 47.25h2M361 47.25h1M375 47.25h1M406 47.25h1M409 47.25h1M421 47.25h1M423 47.25h1M246 48.55h4M253 48.55h1M256 48.55h4M275 48.55h1M284 48.55h1M295 48.55h1M328 48.55h1M346 48.55h2M349 48.55h2M352 48.55h1M354 48.55h1M391 48.55h1M418 48.55h1M258 49.85h2M269 49.85h1M279 49.85h1M295 49.85h1M318 49.85h1M341 49.85h1M351 49.85h1M277 51.15h1M293 51.15h1M350 51.15h1M359 51.15h1M366 51.15h1M418 51.15h4M423 51.15h1M263 52.45h1M283 52.45h1M377 52.45h1M256 53.75h1M265 53.75h1M278 53.75h1M294 53.75h1M411 53.75h1M254 55.05h1M261 55.05h1M269 55.05h1M272 55.05h1M285 55.05h1M288 55.05h1M336 55.05h1M406 55.05h1M268 56.35h1M277 56.35h1M290 56.35h1M295 56.35h1M343 56.35h1M388 56.35h1M260 57.65h2M274 57.65h1M310 57.65h1M358 57.65h1M422 57.65h1M269 58.95h1M285 58.95h1M292 58.95h2M324 58.95h1M327 58.95h1M333 58.95h1M353 58.95h1M408 58.95h1M266 60.25h1M271 60.25h2M294 60.25h1M313 60.25h1M421 60.25h1M257 61.55h1M277 61.55h1M279 61.55h1M311 61.55h1M362 61.55h1M412 61.55h1M260 62.85h1M263 62.85h1M267 62.85h1M269 62.85h1M277 62.85h1M287 62.85h1M290 62.85h1M292 62.85h1M315 62.85h1M345 62.85h1M369 62.85h1M413 62.85h1M277 64.15h1M284 64.15h1M287 64.15h1M290 64.15h1M332 64.15h1M352 64.15h1M379 64.15h2M391 64.15h1M402 64.15h1M254 65.45h1M256 65.45h1M265 65.45h1M292 65.45h2M312 65.45h1M358 65.45h1M389 65.45h1M391 65.45h1M254 66.75h1M260 66.75h1M271 66.75h1M274 66.75h2M292 66.75h1M307 66.75h1M309 66.75h1M311 66.75h2M314 66.75h2M318 66.75h1M348 66.75h1M367 66.75h1M413 66.75h1M255 68.05h1M268 68.05h1M273 68.05h1M362 68.05h1M416 68.05h1M253 69.35h1M260 69.35h1M271 69.35h1M288 69.35h1M295 69.35h1M298 69.35h1M301 69.35h1M338 69.35h1M362 69.35h1M373 69.35h1M396 69.35h1M272 70.65h1M336 70.65h1M408 70.65h1M255 71.95h1M297 71.95h1M338 71.95h1M343 71.95h1M415 71.95h1M252 73.25h1M327 73.25h1M345 73.25h1M261 74.55h1M263 74.55h1M265 74.55h1M269 74.55h1M336 74.55h1M370 74.55h1M374 74.55h1M379 74.55h1M252 75.85h1M254 75.85h1M312 75.85h1M350 75.85h1M356 75.85h1M366 75.85h1M389 75.85h1M408 75.85h1M256 77.15h1M268 77.15h1M346 77.15h1M409 77.15h1M415 77.15h1M246 78.45h2M254 78.45h1M257 78.45h1M269 78.45h1M279 78.45h1M285 78.45h1M300 78.45h1M375 78.45h1M392 78.45h1M252 79.75h6M286 79.75h1M304 79.75h1M319 79.75h1M367 79.75h1M384 79.75h1M386 79.75h1M407 79.75h1M252 81.05h1M293 81.05h1M339 81.05h1M373 81.05h1M412 81.05h1M252 82.35h1M267 82.35h1M278 82.35h1M286 82.35h1M296 82.35h1M314 82.35h1M339 82.35h1M348 82.35h1M380 82.35h1M249 83.65h2M272 83.65h1M278 83.65h1M323 83.65h1M373 83.65h1M413 83.65h2M417 83.65h1M265 84.95h1M278 84.95h1M294 84.95h1M349 84.95h1M390 84.95h1M398 84.95h1M252 86.25h1M272 86.25h1M275 86.25h1M288 86.25h1M302 86.25h1M402 86.25h1M418 87.55h1M252 88.85h1M264 88.85h1M274 88.85h1M386 88.85h1M245 90.15h1M249 90.15h1M252 90.15h1M275 90.15h1M300 90.15h1M327 90.15h1M356 90.15h1M387 90.15h1M404 90.15h3M271 91.45h1M296 91.45h1M320 91.45h1M336 91.45h1M354 91.45h1M369 91.45h1M393 91.45h1M253 92.75h1M255 92.75h1M268 92.75h1M290 92.75h1M322 92.75h1M327 92.75h1M334 92.75h1M361 92.75h1M375 92.75h1M397 92.75h3M412 92.75h2M252 94.05h4M289 94.05h1M327 94.05h1M396 94.05h1M252 95.35h1M255 95.35h3M348 95.35h1M355 95.35h1M372 95.35h2M394 95.35h1M396 95.35h2M414 95.35h1M251 96.65h1M253 96.65h4M262 96.65h1M270 96.65h1M273 96.65h1M376 96.65h1M393 96.65h3M398 96.65h3M404 96.65h2M408 96.65h1M411 96.65h1M245 97.95h1M254 97.95h4M273 97.95h1M276 97.95h1M329 97.95h1M388 97.95h1M393 97.95h2M398 97.95h1M401 97.95h1M404 97.95h1M407 97.95h1M409 97.95h1M412 97.95h2M252 99.25h1M254 99.25h1M257 99.25h1M281 99.25h1M301 99.25h1M360 99.25h1M406 99.25h2M409 99.25h1M412 99.25h1M253 100.6h3M257 100.6h1M321 100.6h1M393 100.6h1M396 100.6h2M399 100.6h1M401 100.6h3M407 100.6h1M409 100.6h1M411 100.6h1M414 100.6h1M300 101.8h1M331 101.8h1M342 101.8h1M370 101.8h1M373 101.8h2M404 101.8h1M410 101.8h1M413 101.8h1M417 101.8h1M272 103.2h1M282 103.2h1M328 103.2h1M393 103.2h1M395 103.2h1M397 103.2h1M399 103.2h4M404 103.2h1M406 103.2h1M408 103.2h1M410 103.2h5M252 104.5h1M255 104.5h3M301 104.5h1M356 104.5h1M401 104.5h1M247 105.8h1M253 105.8h2M256 105.8h2M280 105.8h1M306 105.8h1M324 105.8h1M388 105.8h1M394 105.8h1M400 105.8h1M409 105.8h1M255 107.1h2M264 107.1h1M317 107.1h1M401 107.1h1M406 107.1h1M416 107.1h1M255 108.4h3M270 108.4h1M275 108.4h1M350 108.4h1M387 108.4h1M393 108.4h1M397 108.4h1M401 108.4h1M404 108.4h1M406 108.4h1M410 108.4h2M413 108.4h1M262 109.7h1M268 109.7h1M395 109.7h1M249 111h1M255 111h1M300 111h1M387 111h1M418 111h1M254 112.2h1M266 112.2h1M275 112.2h1M281 112.2h1M291 112.2h1M372 112.2h2M385 112.2h1M391 112.2h2M397 112.2h1M402 112.2h3M413 112.2h1M417 112.2h1M314 113.5h1M349 113.5h1M373 113.5h1M265 114.9h1M282 114.9h1M296 114.9h1M313 114.9h1M327 114.9h1M252 116.2h1M284 116.2h1M307 116.2h1M340 116.2h1M394 116.2h1M416 116.2h1M269 117.5h1M343 117.5h1M392 117.5h1M395 117.5h4M400 117.5h1M410 117.5h4M252 118.8h1M270 118.8h1M278 118.8h1M304 118.8h1M311 118.8h1M376 118.8h1M419 118.8h1M273 120h1M300 120h1M349 120h1M356 120h1M415 120h1M249 121.4h1M254 121.4h1M272 121.4h1M287 121.4h1M314 121.4h1M407 121.4h1M245 122.7h1M255 122.7h1M268 122.7h1M273 122.7h2M287 122.7h1M328 122.7h1M343 122.7h1M409 122.7h1M268 124h1M283 124h1M286 124h1M343 124h1M274 125.2h1M276 125.2h1M322 125.2h1M360 125.2h1M385 125.2h1M273 126.5h1M277 126.5h1M301 126.5h1M378 126.5h1M410 126.5h1M397 127.9h1M408 127.9h1M253 129.2h1M262 129.2h1M296 129.2h1M313 129.2h1M379 129.2h1M387 129.2h1M246 130.4h1M261 130.4h1M420 130.4h1M252 131.8h1M267 131.8h1M372 131.8h1M378 131.8h1M400 131.8h1M247 133.1h1M276 133.1h2M290 133.1h1M358 133.1h1M250 134.4h2M260 134.4h1M264 134.4h1M272 134.4h1M275 134.4h1M293 134.4h1M300 134.4h1M263 135.7h1M271 135.7h1M308 135.7h1M346 135.7h1M301 136.9h1M321 136.9h1M377 136.9h1M254 138.2h1M259 138.2h1M262 138.2h3M271 138.2h1M286 138.2h1M327 138.2h1M332 138.2h1M350 138.2h1M370 138.2h1M375 138.2h1M420 138.2h1M254 139.6h1M263 139.6h2M280 139.6h1M255 140.9h1M270 140.9h1M291 140.9h1M306 140.9h1M325 140.9h1M354 140.9h1M367 140.9h1M253 142.2h1M256 142.2h3M263 142.2h1M342 142.2h1M362 142.2h1M249 143.4h1M256 143.4h1M346 143.4h1M384 143.4h1M408 143.4h1M253 144.8h1M256 144.8h5M262 144.8h2M271 144.8h1M277 144.8h1M285 144.8h1M413 144.8h1M416 144.8h1M253 146.1h1M255 146.1h1M258 146.1h4M392 146.1h1M400 146.1h1M249 147.4h1M251 147.4h2M259 147.4h2M264 147.4h1M268 147.4h1M277 147.4h1M280 147.4h1M289 147.4h1M304 147.4h1M328 147.4h1M361 147.4h1M406 147.4h1M246 148.7h1M259 148.7h1M261 148.7h4M269 148.7h1M282 148.7h1M337 148.7h1M356 148.7h1M253 149.9h1M258 149.9h5M267 149.9h1M343 149.9h1M405 149.9h1M412 149.9h1M249 151.2h1M264 151.2h1M272 151.2h1M303 151.2h1M323 151.2h1M336 151.2h1M313 152.6h1M315 152.6h1M364 152.6h1M248 153.9h1M265 153.9h1M270 153.9h1M281 153.9h1M379 153.9h1M411 153.9h1M414 153.9h1M419 153.9h1M246 155.2h1M256 155.2h1M264 155.2h1M271 155.2h1M304 155.2h1M369 155.2h1M375 155.2h1M414 155.2h1M258 156.4h1M279 156.4h1M300 156.4h1M335 156.4h1M372 156.4h1M258 157.8h1M272 157.8h1M385 157.8h1M404 157.8h1M258 159.1h1M263 159.1h1M270 159.1h1M291 159.1h1M401 159.1h1M416 159.1h1M260 160.4h1M275 160.4h1M280 160.4h1M288 160.4h1M300 160.4h1M362 160.4h1M261 161.7h1M423 161.7h1M256 162.9h1M306 162.9h1M318 162.9h1M343 162.9h1M394 162.9h1M245 164.2h1M346 164.2h1M349 164.2h1M257 165.6h1M271 165.6h1M278 165.6h1M298 165.6h2M372 165.6h1M416 165.6h1M309 166.9h1M262 168.2h1M270 168.2h1M277 168.2h1M309 168.2h1M397 168.2h1M416 168.2h1M265 169.4h1M273 169.4h1M276 169.4h1M370 169.4h1M372 169.4h1M413 169.4h1M272 170.8h1M319 170.8h1M379 170.8h1M420 170.8h1M271 172.1h1M296 172.1h1M339 172.1h1M372 172.1h1M404 172.1h1M422 172.1h1M253 173.3h1M262 173.3h1M275 173.3h1M295 173.3h1M298 173.3h1M301 173.3h1M309 173.3h2M391 173.3h1"/>
<path stroke="#cadbf5" stroke-width="1.32" d="M268 45.95h1M281 45.95h2M300 45.95h1M309 45.95h1M315 45.95h4M320 45.95h1M323 45.95h6M330 45.95h4M343 45.95h2M355 45.95h2M363 45.95h1M367 45.95h1M371 45.95h1M373 45.95h1M375 45.95h1M378 45.95h1M380 45.95h1M388 45.95h1M394 45.95h2M406 45.95h1M414 45.95h1M416 45.95h1M422 45.95h1M300 47.25h1M307 47.25h2M312 47.25h1M321 47.25h3M326 47.25h1M328 47.25h1M330 47.25h1M333 47.25h1M338 47.25h2M341 47.25h1M356 47.25h4M362 47.25h1M365 47.25h1M371 47.25h1M373 47.25h2M377 47.25h1M380 47.25h5M391 47.25h1M393 47.25h1M396 47.25h2M405 47.25h1M412 47.25h1M415 47.25h1M417 47.25h1M422 47.25h1M323 51.15h1M253 52.45h1M256 52.45h1M258 52.45h1M262 52.45h1M264 52.45h5M275 52.45h1M278 52.45h2M284 52.45h1M296 52.45h2M301 52.45h1M307 52.45h3M313 52.45h1M318 52.45h1M324 52.45h1M335 52.45h1M338 52.45h1M342 52.45h1M344 52.45h1M346 52.45h1M350 52.45h1M354 52.45h2M358 52.45h1M360 52.45h1M368 52.45h1M372 52.45h1M374 52.45h1M385 52.45h1M387 52.45h1M392 52.45h1M399 52.45h1M401 52.45h1M403 52.45h2M406 52.45h2M411 52.45h4M295 53.75h1M318 53.75h1M362 53.75h1M365 53.75h1M394 53.75h1M255 55.05h2M258 55.05h1M265 55.05h1M270 55.05h1M273 55.05h1M275 55.05h1M277 55.05h1M279 55.05h1M281 55.05h1M290 55.05h1M293 55.05h2M302 55.05h2M305 55.05h1M310 55.05h1M312 55.05h1M318 55.05h1M333 55.05h1M344 55.05h1M347 55.05h1M349 55.05h1M354 55.05h1M358 55.05h1M361 55.05h1M363 55.05h1M366 55.05h1M372 55.05h1M374 55.05h1M389 55.05h1M393 55.05h1M395 55.05h2M404 55.05h1M409 55.05h1M411 55.05h1M414 55.05h1M264 57.65h1M304 57.65h1M313 57.65h1M315 57.65h1M320 57.65h4M325 57.65h4M331 57.65h3M337 57.65h1M361 57.65h1M375 57.65h1M385 57.65h1M388 57.65h1M390 57.65h1M392 57.65h1M395 57.65h1M407 57.65h1M409 57.65h1M411 57.65h1M417 57.65h1M423 57.65h1M331 58.95h1M349 58.95h1M254 62.85h1M270 62.85h1M280 62.85h1M282 62.85h1M304 62.85h2M312 62.85h1M321 62.85h1M323 62.85h1M325 62.85h2M329 62.85h5M336 62.85h2M339 62.85h1M347 62.85h1M349 62.85h1M354 62.85h1M360 62.85h1M363 62.85h2M370 62.85h1M373 62.85h4M380 62.85h2M388 62.85h1M394 62.85h3M404 62.85h1M407 62.85h1M411 62.85h1M414 62.85h1M280 65.45h1M303 65.45h1M319 65.45h3M323 65.45h4M328 65.45h4M333 65.45h1M344 65.45h1M362 65.45h1M377 65.45h1M384 65.45h1M395 65.45h1M399 65.45h1M415 65.45h1M420 65.45h1M256 66.75h1M258 66.75h1M261 66.75h1M265 66.75h1M270 66.75h1M272 66.75h2M279 66.75h3M285 66.75h1M287 66.75h1M290 66.75h1M293 66.75h2M297 66.75h1M334 66.75h4M340 66.75h1M342 66.75h2M349 66.75h1M352 66.75h1M354 66.75h1M356 66.75h3M360 66.75h2M365 66.75h1M372 66.75h1M374 66.75h1M376 66.75h1M381 66.75h3M386 66.75h1M392 66.75h1M395 66.75h1M397 66.75h7M406 66.75h3M410 66.75h2M414 66.75h1M416 66.75h2M420 66.75h1M422 66.75h1M271 68.05h1M275 68.05h1M278 68.05h2M284 68.05h1M292 68.05h1M299 68.05h2M302 68.05h1M352 68.05h1M356 68.05h1M358 68.05h1M366 68.05h1M368 68.05h1M382 68.05h1M395 68.05h1M404 68.05h2M419 68.05h1M321 70.65h2M333 70.65h1M286 71.95h1M301 71.95h1M306 71.95h1M312 71.95h2M315 71.95h1M318 71.95h1M324 71.95h2M327 71.95h5M333 71.95h1M341 71.95h1M344 71.95h2M347 71.95h1M354 71.95h3M358 71.95h1M364 71.95h2M371 71.95h2M379 71.95h1M381 71.95h1M387 71.95h1M392 71.95h1M394 71.95h1M397 71.95h2M404 71.95h3M409 71.95h3M246 77.15h2M261 77.15h1M265 77.15h1M273 77.15h1M278 77.15h1M281 77.15h1M283 77.15h1M293 77.15h1M297 77.15h1M304 77.15h1M309 77.15h1M313 77.15h2M318 77.15h1M320 77.15h7M328 77.15h8M340 77.15h1M344 77.15h2M351 77.15h3M359 77.15h1M374 77.15h2M377 77.15h1M384 77.15h1M398 77.15h2M404 77.15h1M406 77.15h1M408 77.15h1M247 109.7h1M251 109.7h1M265 109.7h1M270 109.7h1M274 109.7h2M283 109.7h1M287 109.7h1M293 109.7h1M295 109.7h1M308 109.7h1M310 109.7h1M316 109.7h1M322 109.7h2M326 109.7h1M329 109.7h2M336 109.7h2M343 109.7h1M348 109.7h1M357 109.7h2M360 109.7h1M366 109.7h1M372 109.7h1M374 109.7h2M377 109.7h2M380 109.7h1M421 109.7h1M251 116.2h1M258 116.2h1M266 116.2h1M268 116.2h1M274 116.2h1M276 116.2h1M278 116.2h1M292 116.2h2M309 116.2h1M312 116.2h1M316 116.2h1M318 116.2h1M321 116.2h1M325 116.2h1M327 116.2h2M331 116.2h1M335 116.2h1M342 116.2h1M344 116.2h1M347 116.2h1M350 116.2h1M354 116.2h1M361 116.2h1M365 116.2h1M368 116.2h1M371 116.2h1M377 116.2h1M423 116.2h1M250 147.4h1M267 147.4h1M278 147.4h2M284 147.4h1M290 147.4h1M294 147.4h1M297 147.4h1M303 147.4h1M305 147.4h7M314 147.4h1M316 147.4h1M323 147.4h2M326 147.4h1M331 147.4h2M336 147.4h1M340 147.4h1M342 147.4h3M348 147.4h2M357 147.4h1M363 147.4h1M368 147.4h2M374 147.4h1M401 147.4h2M404 147.4h2M417 147.4h3M421 147.4h1M246 156.4h2M263 156.4h1M265 156.4h3M272 156.4h1M277 156.4h2M282 156.4h1M289 156.4h2M294 156.4h1M298 156.4h1M309 156.4h1M313 156.4h2M319 156.4h1M321 156.4h3M325 156.4h1M339 156.4h1M341 156.4h1M350 156.4h1M353 156.4h1M358 156.4h1M365 156.4h2M371 156.4h1M375 156.4h1M378 156.4h1M380 156.4h1M389 156.4h1M394 156.4h2M403 156.4h1M408 156.4h1M410 156.4h1M418 156.4h1M246 162.9h1M251 162.9h1M258 162.9h1M261 162.9h1M273 162.9h1M283 162.9h1M289 162.9h1M300 162.9h1M307 162.9h1M312 162.9h1M314 162.9h1M319 162.9h1M324 162.9h1M326 162.9h3M338 162.9h1M340 162.9h3M345 162.9h1M350 162.9h1M352 162.9h2M355 162.9h1M376 162.9h1M381 162.9h1M384 162.9h1M388 162.9h3M405 162.9h1M410 162.9h1M420 162.9h1M245 172.1h2M249 172.1h3M254 172.1h1M262 172.1h1M268 172.1h1M277 172.1h2M281 172.1h1M284 172.1h1M297 172.1h1M306 172.1h1M308 172.1h1M311 172.1h1M319 172.1h1M321 172.1h1M323 172.1h1M326 172.1h1M341 172.1h1M345 172.1h1M348 172.1h1M350 172.1h1M353 172.1h1M355 172.1h5M367 172.1h1M370 172.1h1M375 172.1h2M384 172.1h2M394 172.1h1M397 172.1h1M410 172.1h2M418 172.1h1M420 172.1h2"/>
<path stroke="#f4bac9" stroke-width="1.32" d="M246 44.65h1M264 44.65h1M266 44.65h1M269 44.65h1M271 44.65h1M289 44.65h1M313 44.65h1M315 44.65h1M319 44.65h1M346 44.65h1M376 44.65h1M423 44.65h1M296 45.95h3M308 45.95h1M311 45.95h1M313 45.95h1M335 45.95h1M351 45.95h1M359 45.95h1M252 47.25h1M274 47.25h2M288 47.25h1M296 47.25h1M320 47.25h1M331 47.25h2M360 47.25h1M420 47.25h1M252 48.55h1M261 48.55h1M263 48.55h4M276 48.55h1M281 48.55h1M283 48.55h1M299 48.55h1M302 48.55h1M309 48.55h1M317 48.55h1M348 48.55h1M421 48.55h1M266 49.85h1M272 49.85h1M276 49.85h1M283 49.85h1M287 49.85h1M290 49.85h1M391 49.85h1M257 51.15h1M276 51.15h1M297 51.15h1M299 51.15h1M314 51.15h1M321 51.15h1M342 51.15h1M361 51.15h1M373 51.15h1M395 51.15h1M261 52.45h1M272 52.45h1M280 52.45h2M290 52.45h1M293 52.45h2M298 52.45h1M405 52.45h1M416 52.45h1M261 53.75h1M269 53.75h1M271 53.75h1M273 53.75h1M277 53.75h1M283 53.75h1M291 53.75h1M267 55.05h1M271 56.35h1M294 56.35h1M304 56.35h1M253 57.65h1M266 57.65h1M271 57.65h1M287 57.65h1M309 57.65h1M379 57.65h1M398 57.65h1M413 57.65h1M256 58.95h1M278 58.95h1M312 58.95h1M322 58.95h1M381 58.95h1M259 60.25h1M264 60.25h1M282 60.25h1M293 60.25h1M389 60.25h1M398 60.25h1M256 61.55h1M263 61.55h1M269 61.55h1M280 61.55h1M332 61.55h1M353 61.55h1M396 61.55h1M400 61.55h1M415 61.55h1M258 62.85h1M266 62.85h1M274 62.85h1M291 62.85h1M296 62.85h2M303 62.85h1M311 62.85h1M397 62.85h1M255 64.15h1M269 64.15h1M276 64.15h1M291 64.15h1M349 64.15h1M263 65.45h1M269 65.45h2M273 65.45h1M279 65.45h1M383 65.45h1M255 66.75h1M259 66.75h1M266 66.75h1M278 66.75h1M289 66.75h1M364 66.75h1M274 68.05h1M276 68.05h1M281 68.05h1M285 68.05h1M288 68.05h1M296 68.05h1M254 69.35h1M265 69.35h1M283 69.35h1M285 69.35h2M294 69.35h1M296 69.35h1M360 69.35h1M259 70.65h1M284 70.65h1M290 70.65h1M334 70.65h1M393 70.65h1M260 71.95h1M264 71.95h1M276 71.95h2M283 71.95h1M294 71.95h1M305 71.95h1M309 71.95h1M326 71.95h1M348 71.95h1M361 71.95h1M363 71.95h1M266 73.25h1M292 73.25h2M309 73.25h1M315 73.25h1M346 73.25h1M283 74.55h1M289 74.55h1M342 74.55h1M346 74.55h2M365 74.55h1M269 75.85h1M293 75.85h1M321 75.85h1M375 75.85h1M378 75.85h1M404 75.85h1M249 77.15h1M260 77.15h1M413 77.15h1M251 78.45h1M298 78.45h1M301 78.45h1M369 78.45h1M374 78.45h1M245 79.75h1M247 79.75h1M258 79.75h2M346 79.75h1M373 79.75h1M390 79.75h1M269 81.05h1M300 81.05h1M314 81.05h1M335 81.05h1M370 81.05h1M388 81.05h1M406 81.05h1M423 81.05h1M323 82.35h1M333 82.35h1M292 83.65h1M296 83.65h1M259 84.95h1M261 84.95h1M287 84.95h1M380 84.95h1M277 86.25h1M291 86.25h1M300 86.25h1M318 86.25h1M361 86.25h1M247 87.55h1M250 87.55h1M290 87.55h1M373 87.55h1M422 87.55h2M319 88.85h1M373 88.85h2M393 88.85h1M400 88.85h1M404 88.85h1M248 90.15h1M251 90.15h1M260 90.15h1M277 90.15h1M336 90.15h1M341 90.15h1M346 90.15h1M273 91.45h1M286 91.45h1M368 91.45h1M394 91.45h1M396 91.45h4M412 91.45h3M422 91.45h2M245 92.75h1M247 92.75h1M281 92.75h1M292 92.75h1M301 92.75h1M328 92.75h1M345 92.75h2M394 92.75h1M396 92.75h1M416 92.75h1M245 94.05h2M256 94.05h2M260 94.05h1M292 94.05h1M361 94.05h1M373 94.05h1M385 94.05h1M393 94.05h3M397 94.05h3M412 94.05h3M421 94.05h1M254 95.35h1M273 95.35h1M308 95.35h2M395 95.35h1M412 95.35h2M366 96.65h1M390 96.65h1M396 96.65h2M401 96.65h3M406 96.65h2M409 96.65h2M413 96.65h2M251 97.95h1M268 97.95h2M395 97.95h3M400 97.95h1M402 97.95h2M408 97.95h1M410 97.95h2M414 97.95h1M416 97.95h1M245 99.25h1M273 99.25h1M328 99.25h1M365 99.25h1M393 99.25h3M398 99.25h1M400 99.25h3M404 99.25h2M408 99.25h1M410 99.25h1M414 99.25h1M250 100.6h1M256 100.6h1M268 100.6h1M270 100.6h1M281 100.6h1M288 100.6h1M317 100.6h1M363 100.6h1M374 100.6h1M394 100.6h1M398 100.6h1M400 100.6h1M404 100.6h1M406 100.6h1M408 100.6h1M410 100.6h1M413 100.6h1M402 101.8h1M414 101.8h1M275 103.2h1M308 103.2h1M327 103.2h1M356 103.2h1M394 103.2h1M398 103.2h1M403 103.2h1M405 103.2h1M254 104.5h1M266 104.5h1M275 104.5h1M340 104.5h1M363 104.5h1M368 104.5h1M373 104.5h1M403 104.5h1M250 105.8h1M269 105.8h1M297 105.8h1M326 105.8h1M338 105.8h1M358 105.8h1M363 105.8h1M384 105.8h1M391 105.8h1M393 105.8h1M252 107.1h1M262 107.1h1M272 107.1h1M276 107.1h1M343 107.1h1M369 107.1h1M382 107.1h1M419 107.1h1M249 108.4h1M252 108.4h1M260 108.4h1M279 108.4h1M333 108.4h1M405 108.4h1M277 109.7h1M300 109.7h1M304 109.7h1M311 109.7h1M362 109.7h1M371 109.7h1M402 109.7h1M248 111h1M259 111h1M262 111h1M274 111h1M352 111h1M378 111h1M250 112.2h1M263 112.2h1M267 112.2h1M270 112.2h2M314 112.2h1M334 113.5h1M248 114.9h1M260 114.9h1M360 114.9h1M363 114.9h1M408 114.9h1M419 114.9h1M254 116.2h1M260 116.2h1M301 116.2h1M375 116.2h1M421 116.2h1M279 117.5h1M298 117.5h1M269 118.8h1M330 118.8h1M339 118.8h1M369 118.8h1M253 120h1M330 120h1M377 120h1M416 120h1M248 121.4h1M322 121.4h1M358 121.4h1M397 121.4h1M410 121.4h1M412 121.4h1M248 122.7h1M300 122.7h1M309 122.7h1M330 122.7h1M394 122.7h1M416 122.7h1M251 124h1M387 124h1M416 124h1M246 125.2h1M251 125.2h1M316 125.2h1M267 126.5h1M291 126.5h1M298 126.5h1M325 126.5h1M345 126.5h1M422 126.5h1M290 127.9h1M312 127.9h1M337 127.9h1M248 129.2h2M256 129.2h1M264 129.2h2M271 129.2h2M287 129.2h1M307 129.2h1M330 129.2h1M251 130.4h1M301 130.4h1M398 130.4h1M333 131.8h1M399 131.8h1M416 131.8h1M254 133.1h1M286 133.1h1M352 133.1h1M372 133.1h1M383 133.1h1M385 133.1h1M245 134.4h1M248 134.4h1M252 134.4h1M266 134.4h1M319 134.4h1M404 134.4h1M410 134.4h1M416 134.4h1M310 135.7h1M329 135.7h1M262 136.9h1M266 136.9h1M271 136.9h1M279 136.9h1M293 136.9h1M402 136.9h1M412 136.9h1M297 138.2h1M410 138.2h1M258 139.6h1M262 139.6h1M277 139.6h1M294 139.6h1M335 139.6h1M391 139.6h1M402 139.6h1M417 139.6h1M421 139.6h1M263 140.9h1M254 142.2h2M259 142.2h1M261 142.2h1M286 142.2h1M315 142.2h1M373 142.2h1M407 142.2h1M414 142.2h1M422 142.2h1M268 143.4h1M342 143.4h1M261 144.8h1M264 144.8h1M268 144.8h1M257 146.1h1M262 146.1h3M396 146.1h1M410 146.1h1M416 146.1h1M254 147.4h1M301 147.4h1M347 147.4h1M388 147.4h1M253 148.7h1M255 148.7h3M385 148.7h1M255 149.9h3M264 149.9h1M373 149.9h1M253 151.2h1M321 151.2h1M347 151.2h1M358 151.2h1M372 151.2h1M375 151.2h1M255 152.6h1M260 152.6h2M283 152.6h1M372 152.6h1M269 153.9h1M295 153.9h1M306 153.9h1M340 153.9h1M361 153.9h1M280 155.2h1M373 155.2h1M255 156.4h1M379 156.4h1M386 156.4h1M318 157.8h1M382 157.8h1M387 157.8h1M256 159.1h1M266 159.1h1M300 159.1h2M308 159.1h1M407 159.1h1M250 160.4h1M290 160.4h1M325 160.4h1M376 160.4h1M405 160.4h1M269 161.7h1M323 161.7h1M359 161.7h1M255 162.9h1M292 162.9h1M359 162.9h1M246 164.2h1M337 164.2h1M355 164.2h1M387 164.2h1M408 164.2h1M420 164.2h1M377 165.6h1M403 165.6h1M418 165.6h1M254 166.9h1M266 166.9h1M282 166.9h1M294 166.9h1M300 166.9h1M356 166.9h1M379 166.9h1M263 168.2h1M275 168.2h1M328 168.2h1M349 168.2h1M357 168.2h1M373 168.2h1M393 168.2h1M398 168.2h1M251 169.4h1M280 169.4h1M311 169.4h1M323 169.4h1M351 169.4h1M247 170.8h1M250 170.8h1M253 170.8h1M277 170.8h1M339 170.8h1M355 170.8h1M373 170.8h1M247 172.1h2M318 172.1h1M388 172.1h2M417 172.1h1M277 173.3h1M300 173.3h1M372 173.3h1M377 173.3h1"/>
<path stroke="#b9cff2" stroke-width="1.32" d="M311 49.85h2M314 49.85h1M316 49.85h2M321 49.85h10M332 49.85h1M358 49.85h1M372 49.85h2M375 49.85h1M379 49.85h2M386 49.85h1M401 49.85h1M405 49.85h1M408 49.85h1M413 49.85h1M422 49.85h1M305 56.35h1M314 56.35h1M321 56.35h3M327 56.35h3M331 56.35h4M339 56.35h1M344 56.35h1M352 56.35h1M356 56.35h1M406 56.35h1M415 56.35h1M329 60.25h1M331 60.25h1M333 60.25h1M320 64.15h7M328 64.15h2M331 64.15h1M334 64.15h1M342 64.15h2M369 64.15h1M384 64.15h1M390 64.15h1M394 64.15h1M404 64.15h1M410 64.15h1M255 69.35h1M272 69.35h1M274 69.35h1M281 69.35h1M300 69.35h1M302 69.35h1M306 69.35h3M315 69.35h1M319 69.35h1M321 69.35h3M325 69.35h9M335 69.35h3M340 69.35h1M344 69.35h1M348 69.35h3M352 69.35h1M359 69.35h1M367 69.35h4M374 69.35h2M382 69.35h1M385 69.35h1M391 69.35h1M398 69.35h1M400 69.35h1M403 69.35h1M405 69.35h1M407 69.35h1M416 69.35h1M419 69.35h5M291 84.95h1M370 84.95h1M287 101.8h1M390 101.8h1M333 113.5h1M308 140.9h1M311 160.4h1"/>
<path stroke="#f298ae" stroke-width="1.32" d="M245 44.65h1M260 44.65h1M276 44.65h1M301 44.65h1M307 44.65h1M364 44.65h1M368 44.65h1M394 44.65h1M403 44.65h1M253 45.95h1M280 45.95h1M391 45.95h1M255 47.25h1M259 47.25h1M270 47.25h1M278 47.25h1M280 47.25h1M291 47.25h1M254 48.55h1M260 48.55h1M273 48.55h1M298 48.55h1M264 49.85h1M282 49.85h1M285 49.85h1M291 49.85h1M299 49.85h1M253 51.15h1M256 51.15h1M279 51.15h1M294 51.15h1M355 51.15h1M422 51.15h1M247 52.45h1M259 52.45h2M248 53.75h1M282 53.75h1M293 53.75h1M297 55.05h1M265 56.35h1M273 56.35h1M288 56.35h1M262 57.65h1M267 57.65h1M282 57.65h1M383 57.65h1M258 58.95h1M262 58.95h1M265 58.95h1M268 58.95h1M359 58.95h2M391 58.95h1M253 60.25h1M261 60.25h3M275 60.25h1M281 60.25h1M265 61.55h1M267 61.55h1M270 61.55h1M296 61.55h1M355 61.55h1M259 62.85h1M268 62.85h1M401 62.85h1M245 64.15h1M250 64.15h1M263 64.15h1M266 64.15h2M282 64.15h1M275 65.45h1M285 65.45h1M287 65.45h1M327 65.45h1M248 66.75h1M267 66.75h1M295 66.75h1M298 66.75h1M251 68.05h1M254 68.05h1M270 68.05h1M293 68.05h1M247 69.35h1M252 69.35h1M262 69.35h1M276 69.35h1M278 69.35h1M292 69.35h2M266 70.65h1M273 70.65h1M281 70.65h1M289 70.65h1M295 70.65h1M410 70.65h2M261 71.95h1M270 71.95h2M289 71.95h1M293 71.95h1M267 73.25h1M300 73.25h1M254 74.55h2M270 74.55h1M276 74.55h1M278 74.55h1M288 74.55h1M366 74.55h1M266 77.15h1M245 78.45h1M313 78.45h1M321 78.45h1M350 78.45h1M396 78.45h1M282 79.75h1M370 79.75h1M248 81.05h1M315 81.05h1M319 81.05h1M375 81.05h1M379 81.05h1M401 81.05h1M262 82.35h1M266 82.35h1M273 82.35h1M398 82.35h1M270 86.25h1M294 86.25h1M356 86.25h1M359 86.25h1M363 86.25h1M396 86.25h1M259 87.55h1M266 87.55h2M295 87.55h1M327 87.55h1M336 87.55h1M358 87.55h1M362 87.55h1M375 87.55h1M246 88.85h1M249 88.85h1M267 88.85h1M269 88.85h1M284 88.85h1M375 88.85h1M385 88.85h1M261 90.15h1M266 90.15h1M278 90.15h1M325 90.15h2M384 90.15h1M394 90.15h1M402 90.15h1M409 90.15h1M423 90.15h1M246 91.45h1M269 91.45h1M276 91.45h1M300 91.45h1M307 91.45h1M319 91.45h1M381 91.45h1M385 91.45h1M401 91.45h1M417 91.45h1M257 92.75h1M368 92.75h1M382 92.75h1M405 92.75h1M408 92.75h1M264 94.05h1M266 94.05h1M356 94.05h1M391 94.05h1M420 94.05h1M269 95.35h1M346 95.35h1M307 96.65h2M340 96.65h1M356 96.65h1M297 97.95h1M321 97.95h1M331 97.95h1M377 97.95h1M386 97.95h1M399 97.95h1M406 97.95h1M258 99.25h1M271 99.25h1M372 99.25h1M388 99.25h1M396 99.25h2M416 99.25h1M259 100.6h1M277 100.6h1M300 100.6h1M312 100.6h1M395 100.6h1M257 103.2h1M283 103.2h1M350 103.2h1M352 103.2h1M357 103.2h1M376 103.2h1M384 103.2h1M248 104.5h2M263 104.5h1M270 104.5h1M277 104.5h1M296 104.5h1M302 104.5h1M349 104.5h1M404 104.5h1M258 105.8h1M278 105.8h1M251 107.1h1M269 107.1h1M314 107.1h1M333 107.1h1M337 107.1h1M397 107.1h1M400 107.1h1M407 107.1h1M248 108.4h1M375 108.4h1M398 108.4h1M399 109.7h1M403 109.7h1M405 109.7h1M269 111h1M277 111h2M289 111h1M311 111h1M383 111h1M406 111h1M284 112.2h1M325 112.2h1M351 112.2h1M398 112.2h1M401 112.2h1M390 113.5h1M278 114.9h1M401 114.9h2M413 114.9h1M423 114.9h1M263 116.2h1M265 116.2h1M385 116.2h1M406 116.2h1M311 117.5h1M390 117.5h1M263 118.8h1M286 118.8h1M300 118.8h1M333 118.8h1M341 118.8h1M343 118.8h1M373 118.8h1M377 118.8h1M408 118.8h1M256 120h1M306 120h1M341 120h1M400 120h1M412 120h1M300 121.4h1M321 122.7h1M403 122.7h1M266 124h1M274 124h1M290 124h1M421 124h1M275 125.2h1M293 125.2h1M303 125.2h1M347 125.2h1M396 125.2h1M256 126.5h1M276 126.5h1M417 126.5h1M246 127.9h1M256 127.9h1M259 127.9h1M300 127.9h1M270 129.2h1M274 129.2h1M277 129.2h2M280 129.2h1M418 129.2h1M289 130.4h1M299 130.4h1M309 130.4h1M356 130.4h2M365 130.4h1M373 130.4h1M246 133.1h1M287 133.1h1M305 133.1h1M315 133.1h1M361 133.1h1M270 134.4h1M301 134.4h1M328 134.4h1M405 134.4h1M419 135.7h1M422 135.7h2M253 136.9h1M256 136.9h2M269 136.9h1M333 136.9h1M348 136.9h1M356 136.9h1M369 136.9h1M371 136.9h1M248 138.2h1M258 138.2h1M260 138.2h1M275 138.2h1M291 138.2h1M305 138.2h1M331 138.2h1M367 138.2h1M387 138.2h1M261 139.6h1M303 139.6h1M318 139.6h1M331 139.6h1M404 139.6h1M262 140.9h1M247 142.2h1M251 142.2h1M378 142.2h1M254 144.8h1M314 144.8h1M372 144.8h1M409 144.8h1M417 144.8h1M246 146.1h1M256 146.1h1M265 146.1h1M282 146.1h1M325 146.1h1M356 146.1h1M379 146.1h1M385 146.1h1M273 148.7h1M302 148.7h1M316 148.7h1M386 148.7h1M310 149.9h1M397 149.9h1M255 151.2h1M268 151.2h1M278 151.2h1M364 151.2h1M395 151.2h1M414 151.2h1M420 151.2h1M279 152.6h1M293 152.6h1M341 152.6h1M358 152.6h1M377 152.6h2M395 152.6h1M249 153.9h1M296 153.9h1M304 153.9h1M358 153.9h1M375 153.9h1M403 153.9h1M268 155.2h1M366 155.2h1M269 156.4h1M260 157.8h1M319 157.8h1M372 157.8h1M400 157.8h1M248 159.1h1M275 159.1h1M323 159.1h1M327 159.1h1M334 159.1h1M380 159.1h2M420 159.1h1M291 160.4h1M252 161.7h1M271 161.7h1M277 161.7h1M295 161.7h1M354 161.7h1M369 161.7h4M375 161.7h1M379 161.7h1M410 161.7h1M417 161.7h1M293 162.9h1M301 162.9h1M371 162.9h1M263 164.2h1M274 164.2h1M308 164.2h1M334 164.2h1M406 164.2h1M253 165.6h1M259 165.6h1M279 165.6h1M300 165.6h1M353 165.6h1M379 165.6h1M384 165.6h1M389 165.6h1M391 165.6h1M245 166.9h1M284 166.9h1M301 166.9h1M247 168.2h1M267 168.2h1M374 168.2h1M392 168.2h1M411 168.2h1M270 169.4h1M275 169.4h1M292 169.4h1M303 169.4h1M340 169.4h2M344 169.4h2M348 169.4h1M403 169.4h1M246 170.8h1M254 170.8h1M262 170.8h1M269 170.8h1M301 170.8h1M323 170.8h1M350 170.8h1M354 170.8h1M365 170.8h1M416 170.8h1M371 172.1h1M256 173.3h1M273 173.3h1M317 173.3h1M413 173.3h1"/>
<path stroke="#a1bdef" stroke-width="1.32" d="M322 52.45h1M331 52.45h1M322 53.75h1M326 53.75h2M329 53.75h1M332 53.75h1M368 53.75h1M329 55.05h1M321 68.05h2M327 68.05h4M376 68.05h1M415 68.05h1M320 69.35h1M324 69.35h1"/>
<path stroke="#f27290" stroke-width="1.32" d="M255 44.65h1M281 44.65h1M285 44.65h1M297 44.65h1M263 45.95h1M274 45.95h1M352 45.95h1M257 47.25h2M269 47.25h1M277 47.25h1M281 47.25h1M284 47.25h1M290 47.25h1M297 47.25h1M271 48.55h1M277 48.55h1M289 48.55h1M260 49.85h1M260 51.15h1M266 51.15h1M268 51.15h1M251 53.75h1M246 55.05h4M282 55.05h2M421 55.05h1M246 56.35h1M249 56.35h1M269 56.35h1M254 57.65h1M272 57.65h1M285 57.65h1M295 57.65h1M275 58.95h1M277 58.95h1M287 58.95h1M294 58.95h1M269 60.25h1M280 60.25h1M245 61.55h1M282 61.55h1M250 62.85h1M283 62.85h2M294 62.85h1M249 64.15h1M254 64.15h1M279 64.15h1M285 64.15h1M252 65.45h2M258 65.45h1M260 65.45h1M268 65.45h1M283 65.45h1M246 66.75h2M251 66.75h2M310 66.75h1M248 69.35h1M265 70.65h1M275 70.65h1M282 70.65h1M286 70.65h1M253 71.95h2M269 71.95h1M281 71.95h1M284 71.95h1M291 71.95h2M296 71.95h1M308 73.25h1M371 73.25h1M373 73.25h1M245 74.55h1M259 74.55h1M373 74.55h1M384 74.55h1M253 77.15h1M250 78.45h1M256 78.45h1M288 79.75h1M411 79.75h1M270 81.05h1M334 81.05h1M372 81.05h1M400 82.35h1M372 86.25h1M421 86.25h1M268 87.55h1M275 87.55h2M320 87.55h1M352 88.85h1M247 91.45h1M304 91.45h1M403 91.45h1M405 91.45h1M407 91.45h1M300 92.75h1M400 92.75h1M402 92.75h1M409 92.75h1M414 92.75h1M250 94.05h1M279 94.05h1M350 94.05h1M404 94.05h1M261 95.35h1M283 95.35h1M399 95.35h1M401 95.35h1M404 95.35h1M257 96.65h1M412 96.65h1M253 97.95h1M307 97.95h1M367 97.95h1M255 99.25h2M373 99.25h1M413 99.25h1M274 100.6h1M373 100.6h1M405 100.6h1M407 103.2h1M382 104.5h1M391 104.5h1M252 105.8h1M303 105.8h1M254 108.4h1M302 108.4h1M392 108.4h1M417 108.4h1M391 111h1M395 111h1M407 111h1M283 112.2h1M326 112.2h1M383 112.2h1M416 113.5h1M398 114.9h1M405 114.9h1M409 114.9h1M410 116.2h1M292 117.5h1M317 117.5h1M403 117.5h1M246 120h1M354 120h1M395 120h1M246 121.4h1M301 121.4h1M303 121.4h1M259 122.7h2M262 122.7h1M261 124h1M281 124h1M365 124h1M419 124h1M411 125.2h1M319 126.5h1M384 126.5h1M423 126.5h1M266 127.9h1M272 127.9h1M278 127.9h1M269 129.2h1M279 129.2h1M281 129.2h1M363 130.4h1M289 133.1h1M317 134.4h2M329 134.4h1M333 134.4h1M337 134.4h1M358 134.4h1M408 134.4h1M418 135.7h1M420 135.7h2M330 136.9h1M363 136.9h1M367 136.9h1M418 136.9h1M420 136.9h1M259 139.6h2M304 139.6h1M306 139.6h1M343 139.6h1M254 140.9h1M260 140.9h1M306 142.2h1M365 142.2h1M255 144.8h1M251 146.1h1M269 146.1h1M271 146.1h1M288 146.1h1M258 148.7h1M260 148.7h1M268 148.7h1M382 148.7h1M250 149.9h1M263 149.9h1M299 149.9h1M371 149.9h1M309 151.2h1M312 151.2h1M331 153.9h1M387 153.9h1M247 155.2h1M262 155.2h1M337 155.2h1M364 155.2h1M380 155.2h1M382 155.2h1M265 159.1h1M283 159.1h1M302 159.1h1M373 159.1h1M414 159.1h1M292 160.4h1M247 161.7h1M278 161.7h1M290 161.7h1M324 161.7h1M345 161.7h1M356 161.7h1M373 161.7h1M258 164.2h1M277 164.2h1M359 164.2h1M372 164.2h1M391 164.2h1M372 166.9h1M380 166.9h1M260 168.2h1M342 169.4h2M346 169.4h1M349 169.4h2M264 170.8h1M407 170.8h1M387 172.1h1M276 173.3h1M373 173.3h1"/>
<path stroke="#f14c71" stroke-width="1.32" d="M252 44.65h1M254 44.65h1M267 44.65h1M279 44.65h1M284 44.65h1M258 45.95h1M279 48.55h1M292 48.55h1M297 48.55h1M253 49.85h1M245 51.15h1M252 51.15h1M304 51.15h2M251 52.45h1M249 53.75h2M252 55.05h1M251 56.35h1M283 56.35h1M250 57.65h1M252 57.65h1M293 57.65h1M264 58.95h1M252 60.25h1M246 61.55h1M250 61.55h1M248 62.85h1M257 65.45h1M245 66.75h1M247 68.05h2M250 68.05h1M249 69.35h1M262 70.65h1M274 70.65h1M245 71.95h2M250 71.95h1M417 71.95h1M421 71.95h1M372 73.25h1M271 74.55h1M371 74.55h2M421 75.85h1M420 77.15h1M423 79.75h1M257 83.65h1M262 86.25h1M304 87.55h1M409 91.45h1M416 91.45h1M401 92.75h1M403 92.75h2M406 92.75h1M417 92.75h1M406 94.05h1M408 94.05h1M411 94.05h1M400 95.35h1M402 95.35h2M405 95.35h2M408 95.35h4M405 97.95h1M253 99.25h1M412 100.6h1M254 103.2h2M257 107.1h1M409 112.2h1M411 114.9h1M417 116.2h1M263 117.5h1M399 117.5h1M404 117.5h1M417 117.5h1M259 118.8h1M261 118.8h2M264 118.8h1M261 120h1M263 120h1M338 120h1M257 121.4h1M259 121.4h1M262 121.4h1M257 122.7h1M263 122.7h1M259 124h2M262 124h1M257 125.2h2M257 126.5h1M263 126.5h2M277 127.9h1M279 127.9h1M268 129.2h1M273 129.2h1M275 129.2h2M285 134.4h1M287 134.4h1M423 136.9h1M253 138.2h1M253 139.6h1M262 142.2h1M264 142.2h1M254 149.9h1M311 151.2h1M381 155.2h1M383 155.2h1M249 161.7h1M291 161.7h2M380 165.6h1M347 169.4h1"/>
<path stroke="#ed2e57" stroke-width="1.32" d="M257 44.65h2M261 44.65h1M255 45.95h1M259 45.95h1M250 48.55h1M245 49.85h1M251 49.85h1M254 49.85h1M261 49.85h1M304 49.85h1M248 52.45h1M250 52.45h1M252 52.45h1M245 53.75h1M245 55.05h1M250 55.05h2M248 56.35h1M250 56.35h1M252 56.35h1M284 56.35h1M247 57.65h1M251 57.65h1M246 58.95h1M250 58.95h1M252 58.95h1M295 58.95h1M246 60.25h1M248 60.25h2M247 61.55h1M246 62.85h1M252 62.85h1M252 64.15h1M245 65.45h2M251 65.45h1M246 68.05h1M245 69.35h1M250 69.35h1M245 70.65h1M251 70.65h1M248 71.95h2M252 71.95h1M416 71.95h1M422 71.95h1M416 73.25h1M420 73.25h1M422 74.55h2M257 75.85h1M422 75.85h2M255 78.45h1M420 79.75h2M254 84.95h1M261 86.25h1M263 86.25h1M256 90.15h1M395 91.45h1M400 91.45h1M404 91.45h1M410 91.45h2M401 94.05h2M407 94.05h1M409 94.05h1M253 95.35h1M398 95.35h1M252 97.95h1M399 99.25h1M403 99.25h1M411 99.25h1M409 103.2h1M253 104.5h1M253 108.4h1M264 117.5h1M402 117.5h1M415 117.5h1M257 118.8h1M260 118.8h1M259 120h1M260 121.4h1M261 122.7h1M264 122.7h1M260 125.2h2M261 126.5h2M265 127.9h1M267 127.9h2M273 127.9h1M275 127.9h1M280 127.9h1M267 129.2h1M286 134.4h1M421 136.9h2M255 138.2h1M260 142.2h1M254 148.7h1M307 151.2h2M310 151.2h1M313 151.2h2M316 151.2h1M379 152.6h1"/>
<path stroke="#e42049" stroke-width="1.32" d="M256 44.65h1M259 44.65h1M305 49.85h1M246 51.15h1M246 52.45h1M249 52.45h1M246 53.75h1M284 55.05h1M247 56.35h1M245 57.65h2M251 58.95h1M250 60.25h1M248 61.55h1M247 62.85h1M249 62.85h1M251 62.85h1M246 64.15h2M247 65.45h2M250 66.75h1M246 69.35h1M251 69.35h1M250 70.65h1M247 71.95h1M420 71.95h1M418 73.25h1M422 73.25h1M420 74.55h1M418 75.85h2M419 77.15h1M421 77.15h3M421 78.45h2M255 81.05h1M253 83.65h1M255 83.65h2M256 84.95h2M253 87.55h1M253 88.85h1M410 92.75h1M403 94.05h1M405 94.05h1M393 95.35h1M407 95.35h1M258 117.5h2M262 117.5h1M260 120h1M261 121.4h1M257 124h2M263 124h1M259 125.2h1M262 125.2h2M259 126.5h2M266 129.2h1M255 139.6h1M315 151.2h1M317 151.2h1"/>
<path stroke="#db133a" stroke-width="1.32" d="M255 48.55h1M262 48.55h1M246 49.85h3M250 49.85h1M252 53.75h1M282 56.35h1M248 57.65h2M294 57.65h1M245 60.25h1M247 60.25h1M252 61.55h1M245 62.85h1M249 65.45h2M249 66.75h1M252 68.05h1M246 70.65h1M249 70.65h1M418 71.95h2M423 71.95h1M419 73.25h1M421 73.25h1M418 74.55h1M421 74.55h1M416 75.85h1M417 77.15h2M416 78.45h1M418 78.45h2M416 79.75h1M418 79.75h1M253 81.05h2M254 82.35h1M254 83.65h1M257 86.25h2M255 88.85h1M402 91.45h1M406 91.45h1M408 91.45h1M411 92.75h1M400 94.05h1M410 94.05h1M258 118.8h1M257 120h1M262 120h1M264 120h1M258 121.4h1M263 121.4h1M258 122.7h1M271 127.9h1M274 127.9h1M276 127.9h1M281 127.9h1M417 135.7h1M417 136.9h1M419 136.9h1M256 139.6h1"/>
<path stroke="#d2062c" stroke-width="1.32" d="M248 51.15h3M284 53.75h1M284 57.65h1M248 58.95h1M251 60.25h1M248 64.15h1M247 70.65h2M252 70.65h1M417 73.25h1M416 74.55h2M419 74.55h1M420 75.85h1M420 78.45h1M423 78.45h1M417 79.75h1M422 79.75h1M253 82.35h1M253 84.95h1M255 86.25h1M259 86.25h1M253 90.15h1M254 91.45h1M256 91.45h1M407 92.75h1M260 117.5h2M264 121.4h1M264 125.2h1M270 127.9h1M257 138.2h1"/>
<path stroke="#b90426" stroke-width="1.32" d="M249 49.85h1M245 52.45h1M247 53.75h1M247 58.95h1M251 61.55h1M416 77.15h1M417 78.45h1M419 79.75h1M256 81.05h2M255 82.35h3M253 86.25h2M260 86.25h1M255 87.55h3M254 88.85h1M257 88.85h1M254 90.15h1M257 90.15h1M255 91.45h1M258 120h1M264 124h1M258 126.5h1M256 138.2h1"/>
<path stroke="#a10220" stroke-width="1.32" d="M247 51.15h1M283 57.65h1M245 58.95h1M249 61.55h1M251 64.15h1M245 68.05h1M249 68.05h1M251 71.95h1M423 73.25h1M257 91.45h1M257 117.5h1M269 127.9h1"/>
<path stroke="#88011a" stroke-width="1.32" d="M252 49.85h1M251 51.15h1M245 56.35h1M417 75.85h1M255 84.95h1M257 139.6h1"/>
<path stroke="#800018" stroke-width="1.32" d="M249 58.95h1M256 86.25h1M254 87.55h1M256 88.85h1M255 90.15h1M253 91.45h1"/></g>
<rect x="245" y="25" width="178" height="6" fill="#b3bfbd"/>
<rect x="245" y="25" width="8" height="6" fill="#000"/>
<rect x="245" y="32" width="178" height="5" fill="#b3bfbd"/>
<rect x="245" y="32" width="8" height="5" fill="#000"/>
<rect x="245" y="38" width="178" height="5.2" fill="#b3bfbd"/>
<rect x="245" y="38" width="8" height="5.2" fill="#000"/>
<text x="426.9" y="29.8" font-size="6.33" font-weight="normal" text-anchor="start" fill="#222" >Allelic status</text>
<text x="426.9" y="36.7" font-size="6.33" font-weight="normal" text-anchor="start" fill="#222" >CSF3R</text>
<text x="426.9" y="43.1" font-size="6.33" font-weight="normal" text-anchor="start" fill="#222" >GATA2</text>
<rect x="304.7" y="25" width="1" height="6" fill="#e07090"/>
<rect x="319.1" y="25" width="1" height="6" fill="#e070a0"/>
<rect x="324.9" y="25" width="1.2" height="6" fill="#f0307a"/>
<rect x="332.4" y="25" width="1" height="6" fill="#80e0c0"/>
<rect x="361.9" y="25" width="1" height="6" fill="#80e0c0"/>
<rect x="364.6" y="25" width="1" height="6" fill="#e070a0"/>
<rect x="372.7" y="25" width="6" height="6" fill="#f0306a"/>
<rect x="420.5" y="25" width="1.2" height="6" fill="#e070a0"/>
<rect x="375" y="25" width="0.8" height="6" fill="#c060b0"/><rect x="377.3" y="25" width="0.8" height="6" fill="#d070c0"/>
<rect x="266.2" y="32" width="1.2" height="5" fill="#d08a90"/>
<rect x="271.0" y="32" width="1" height="5" fill="#d08a90"/>
<rect x="272.8" y="32" width="1" height="5" fill="#d08a90"/>
<rect x="276.2" y="32" width="2" height="5" fill="#e83040"/>
<rect x="280.3" y="32" width="1.5" height="5" fill="#e83040"/>
<rect x="291.8" y="32" width="1.2" height="5" fill="#d08a90"/>
<rect x="325.1" y="32" width="1.3" height="5" fill="#e01830"/>
<rect x="368.6" y="32" width="1" height="5" fill="#d07080"/>
<rect x="374.0" y="32" width="1.2" height="5" fill="#e04050"/>
<rect x="379.4" y="32" width="1" height="5" fill="#d07080"/>
<rect x="383.4" y="32" width="1" height="5" fill="#d07080"/>
<rect x="421.8" y="32" width="1" height="5" fill="#e04050"/>
<rect x="267.0" y="38" width="1" height="5.2" fill="#d8d060"/>
<rect x="271.0" y="38" width="1" height="5.2" fill="#d8d060"/>
<rect x="319.1" y="38" width="1.2" height="5.2" fill="#e0d040"/>
<rect x="332.4" y="38" width="1" height="5.2" fill="#d8d060"/>
<rect x="339.9" y="38" width="1.3" height="5.2" fill="#f0d000"/>
<rect x="370.7" y="38" width="1" height="5.2" fill="#d8d060"/>
<rect x="374.0" y="38" width="1" height="5.2" fill="#d8d060"/>
<rect x="376.4" y="38" width="2" height="5.2" fill="#f0d000"/>
<rect x="384.1" y="38" width="1" height="5.2" fill="#d8d060"/>
<rect x="420.5" y="38" width="1.2" height="5.2" fill="#d8d060"/>
<path d="M252.3 21V15.3H352.4V17.6 M293.5 20V17.6H401V20.8 M401 18.2H418.8V21.5 M247.8 21.5V18.2H259.8V21 M272.5 21V19.8H311.7V21 M311.7 20.2H340V21.5" stroke="#9a9a9a" stroke-width="0.8" fill="none"/>
<path d="M255.5 24.6V24.5H256.5V24.6M311.5 24.6V24.49H312.5V24.6M325.5 24.6V24.44H326.5V24.6M395.5 24.6V24.5H396.5V24.6M352.5 24.6V24.46H353.5V24.6M336.5 24.6V24.53H337.5V24.6M245.5 24.6V24.48H246.5V24.6M347.5 24.6V24.45H348.5V24.6M248.5 24.6V24.39H249.5V24.6M343.5 24.6V24.55H344.5V24.6M309.5 24.6V24.33H310.5V24.6M419.5 24.6V24.41H420.5V24.6M340.5 24.6V24.44H341.5V24.6M265.5 24.6V24.51H266.5V24.6M262.5 24.6V24.45H263.5V24.6M291.5 24.6V24.47H292.5V24.6M305.5 24.6V24.33H306.5V24.6M327.5 24.6V24.49H328.5V24.6M421.5 24.6V24.47H422.5V24.6M378.5 24.6V24.55H379.5V24.6M416.5 24.6V24.41H417.5V24.6M373.5 24.6V24.48H374.5V24.6M402.5 24.6V24.39H403.5V24.6M320.5 24.6V24.56H321.5V24.6M414.5 24.6V24.4H415.5V24.6M393.5 24.6V24.56H394.5V24.6M277.5 24.6V24.46H278.5V24.6M360.5 24.6V24.36H361.5V24.6M299.5 24.6V24.51H300.5V24.6M289.5 24.6V24.49H290.5V24.6M257.5 24.6V24.54H258.5V24.6M407.5 24.6V24.43H408.5V24.6M334.5 24.6V24.39H335.5V24.6M332.5 24.6V24.39H333.5V24.6M316.5 24.6V24.47H317.5V24.6M358.5 24.6V24.42H359.5V24.6M370.5 24.6V24.35H371.5V24.6M307.5 24.6V24.36H308.5V24.6M260.5 24.6V24.55H261.5V24.6M388.5 24.6V24.5H389.5V24.6M397.5 24.6V24.45H398.5V24.6M400.5 24.6V24.35H401.5V24.6M301.5 24.6V24.5H302.5V24.6M405.5 24.6V24.34H406.5V24.6M287.5 24.6V24.31H288.5V24.6M267.5 24.6V24.35H268.5V24.6M350.5 24.6V24.42H351.5V24.6M367.5 24.6V24.52H368.5V24.6M270.5 24.6V24.4H271.5V24.6M280.5 24.6V24.56H281.5V24.6M294.5 24.6V24.51H295.5V24.6M375.5 24.6V24.42H376.5V24.6M313.5 24.6V24.45H314.5V24.6M412.5 24.6V24.55H413.5V24.6M272.5 24.6V24.56H273.5V24.6M283.5 24.6V24.54H284.5V24.6M355.5 24.6V24.51H356.5V24.6M380.5 24.6V24.42H381.5V24.6M385.5 24.6V24.56H386.5V24.6M251.5 24.6V24.52H252.5V24.6M338.5 24.6V24.39H339.5V24.6M383.5 24.6V24.4H384.5V24.6M297.5 24.6V24.41H298.5V24.6M285.5 24.6V24.51H286.5V24.6M410.5 24.6V24.37H411.5V24.6M362.5 24.6V24.52H363.5V24.6M365.5 24.6V24.39H366.5V24.6M322.5 24.6V24.33H323.5V24.6M390.5 24.6V24.53H391.5V24.6M330.5 24.6V24.48H331.5V24.6M386 24.56V24.3H387.5V24.6M318.5 24.6V24.51H319.5V24.6M345.5 24.6V24.35H346.5V24.6M275.5 24.6V24.53H276.5V24.6M279.5 24.6V24.36H281V24.56M258 24.54V24.29H259.5V24.6M273 24.56V24.39H274.5V24.6M303.5 24.6V24.51H304.5V24.6M253.5 24.6V24.34H254.5V24.6M392.5 24.6V24.44H394V24.56M319 24.51V24.37H321V24.56M342.5 24.6V24.41H344V24.55M368 24.52V24.19H369.5V24.6M328 24.49V24.17H329.5V24.6M282.5 24.6V24.33H284V24.54M293.5 24.6V24.29H295V24.51M264.5 24.6V24.28H266V24.51M377.5 24.6V24.17H379V24.55M393.2 24.44V24.34H396V24.5M389 24.5V24.32H391V24.53M356 24.51V24.31H357.5V24.6M300 24.51V24.32H302V24.5M324.5 24.6V24.31H326V24.44M250.5 24.6V24.12H252V24.52M372.5 24.6V24.09H374V24.48M348 24.45V24.04H349.5V24.6M296.5 24.6V23.98H298V24.41M408 24.43V24.19H409.5V24.6M351 24.42V24.01H353V24.46M276 24.53V24.19H278V24.46M261 24.55V24.2H263V24.45M382.5 24.6V24H384V24.4M363 24.52V24.35H364.5V24.6M418.5 24.6V24.27H420V24.41M312 24.49V24.32H314V24.45M290 24.49V24.22H292V24.47M315.5 24.6V24.04H317V24.47M246 24.48V24.07H247.5V24.6M401 24.35V24.15H403V24.39M398 24.45V24.06H399.5V24.6M341 24.44V24.27H343.2V24.41M413 24.55V24.02H415V24.4M280.2 24.36V23.85H283.2V24.33M271 24.4V24.13H273.8V24.39M331 24.48V24.22H333V24.39M308 24.36V23.81H310V24.33M301 24.32V23.82H304V24.51M359 24.42V24.15H361V24.36M335 24.39V24.17H337V24.53M339 24.39V23.78H342.1V24.27M354.5 24.6V24H356.8V24.31M363.8 24.35V24.23H366V24.39M404.5 24.6V24.08H406V24.34M323 24.33V24.04H325.2V24.31M254 24.34V23.95H256V24.5M268 24.35V23.93H269.5V24.6M286 24.51V24.17H288V24.31M417 24.41V24.15H419.2V24.27M386.8 24.3V23.94H390V24.32M328.8 24.17V23.99H332V24.22M291 24.22V23.82H294.2V24.29M246.8 24.07V23.48H249V24.39M368.8 24.19V23.98H371V24.35M378.2 24.17V23.81H381V24.42M414 24.02V23.45H418.1V24.15M408.8 24.19V23.78H411V24.37M360 24.15V23.95H364.9V24.23M272.4 24.13V23.68H277V24.19M346 24.35V23.6H348.8V24.04M316.2 24.04V23.69H320V24.37M262 24.2V24.05H265.2V24.28M355.6 24V23.57H362.4V23.95M324.1 24.04V23.57H330.4V23.99M398.8 24.06V23.54H402V24.15M373.2 24.09V23.84H376V24.42M383.2 24V23.58H388.4V23.94M251.2 24.12V23.78H255V23.95M258.8 24.29V23.77H263.6V24.05M287 24.17V23.56H292.6V23.82M261.2 23.77V23.3H268.8V23.93M306 24.33V23.48H309V23.81M369.9 23.98V23.61H374.6V23.84M405.2 24.08V23.52H409.9V23.78M336 24.17V23.43H340.6V23.78M297.2 23.98V23.36H302.5V23.82M347.4 23.6V23.01H352V24.01M359 23.57V22.96H372.2V23.61M379.6 23.81V22.85H385.8V23.58M274.7 23.68V23.44H281.8V23.85M313 24.32V23.16H318.1V23.69M400.4 23.54V23.08H407.6V23.52M416.1 23.45V23.07H422V24.47M299.9 23.36V23.18H307.5V23.48M278.2 23.44V22.83H289.8V23.56M327.2 23.57V22.67H338.3V23.43M247.9 23.48V23.29H253.1V23.78M394.6 24.34V22.88H404V23.08M250.5 23.29V22.96H265V23.3M303.7 23.18V22.56H315.6V23.16M365.6 22.96V22.53H382.7V22.85M399.3 22.88V22.47H419V23.07M284 22.83V21.77H309.6V22.56M332.8 22.67V22.21H349.7V23.01M341.2 22.21V21.8H374.2V22.53M257.7 22.96V21.26H296.8V21.77M357.7 21.8V21.24H409.2V22.47M277.3 21.26V20.6H383.4V21.24" fill="none" stroke="#111" stroke-width="0.9"/>
<rect x="245" y="22.7" width="178" height="1.9" fill="#111"/>
<path d="M243 46.1H238V56.5H242 M238 50.8H234.7V73.9H243 M234.7 62H233.5 M235 74.8V97.4H243 M235 85.3H243 M236.3 86V136H241" stroke="#9a9a9a" stroke-width="0.8" fill="none"/>
<path d="M245 47.25H244.5V48.55H245M245 109.7H244.6V111H245M245 134.4H244.7V135.7H245M245 77.15H244.6V78.45H245M245 129.2H244.9V130.4H245M245 126.5H244.6V127.9H245M245 96.65H244.8V97.95H245M245 64.15H244.6V65.45H245M245 52.45H244.6V53.75H245M245 121.4H244.5V122.7H245M245 138.2H244.8V139.6H245M245 169.4H244.7V170.8H245M245 84.95H244.7V86.25H245M245 73.25H244.7V74.55H245M245 165.6H244.5V166.9H245M245 151.2H244.6V152.6H245M245 116.2H244.9V117.5H245M245 70.65H244.7V71.95H245M245 162.9H244.7V164.2H245M245 44.65H244.7V45.95H245M245 91.45H244.8V92.75H245M245 142.2H244.8V143.4H245M245 153.9H244.6V155.2H245M245 148.7H244.7V149.9H245M245 57.65H244.7V58.95H245M245 82.35H244.6V83.65H245M245 94.05H244.9V95.35H245M245 104.5H244.5V105.8H245M245 61.55H244.8V62.85H245M245 100.6H244.7V101.8H245M245 159.1H244.7V160.4H245M245 113.5H244.8V114.9H245M245 118.8H244.9V120H245M245 144.8H244.5V146.1H245M245 79.75H244.7V81.05H245M245 88.85H244.8V90.15H245M245 68.05H244.5V69.35H245M245 156.4H244.5V157.8H245M245 124H244.7V125.2H245M245 131.8H244.7V133.1H245M245 49.85H244.5V51.15H245M244.9 116.8H244.5V119.4H244.9M245 107.1H244.6V108.4H245M244.8 138.9H244.6V140.9H245M245 172.1H244.6V173.3H245M245 55.05H244.8V56.35H245M245 168.2H244.6V170.1H244.7M244.9 94.7H244.4V97.3H244.8M244.8 89.5H244.3V92.1H244.8M245 147.4H244.5V149.3H244.7M244.7 132.4H244.5V135H244.7M245 161.7H244.4V163.6H244.7M244.8 55.7H244.4V58.3H244.7M245 112.2H244.5V114.2H244.8M244.7 80.4H244.1V83H244.6M244.7 73.9H244V75.85H245M244.7 101.2H244.4V103.2H245M244.6 139.9H244.1V142.8H244.8M244.6 110.3H243.8V113.2H244.5M245 60.25H244.1V62.2H244.8M244.7 85.6H244.1V87.55H245M244.5 105.1H243.8V107.7H244.6M244.5 157.1H243.8V159.7H244.7M244.5 148.3H244.3V151.9H244.6M244.6 127.2H244.3V129.8H244.9M244.6 64.8H244.4V66.75H245M244.5 50.5H244.1V53.1H244.6M244.5 166.2H244V169.1H244.6M245 99.25H243.7V102.2H244.4M244.5 133.7H243.8V136.9H245M244.7 45.3H244V47.9H244.5M244.5 68.7H244V71.3H244.7M244.5 122H243.8V124.6H244.7M244.5 145.4H244V150.1H244.3M244.3 90.8H244V96H244.4M244 147.8H243.3V154.5H244.6M244.6 77.8H243.3V81.7H244.1M244.4 162.6H243.6V167.7H244M244.1 86.58H243.7V93.4H244M244.1 61.23H243.3V65.78H244.4M244 70H243.5V74.88H244M243.8 106.4H243V111.8H243.8M244.1 51.8H243.6V57H244.4M243.8 135.3H242.9V141.3H244.1M244.5 118.1H243.4V123.3H243.8M243.8 158.4H242.8V165.1H243.6M243.7 89.99H242.8V100.7H243.7M243.5 72.44H242.9V79.75H243.3M244 46.6H242.9V54.4H243.6M243.4 120.7H242.6V128.5H244.3M242.8 95.35H242.5V109.1H243M242.9 50.5H242.2V63.5H243.3M242.8 161.8H242.2V172.7H244.6M242.9 138.3H242.1V151.1H243.3M242.5 102.2H241.6V124.6H242.6M242.1 144.7H241.4V167.2H242.2M242.2 57H241.2V76.09H242.9M241.2 66.55H240.2V113.4H241.6M240.2 89.98H239.8V156H241.4" fill="none" stroke="#111" stroke-width="0.9"/>
<rect x="242.8" y="44" width="2.2" height="130" fill="#111"/>
<defs><linearGradient id="cbB" x1="0" y1="0" x2="0" y2="1"><stop offset="0" stop-color="#4a0010"/><stop offset="0.33" stop-color="#e00018"/><stop offset="0.62" stop-color="#ffd0d8"/><stop offset="0.655" stop-color="#ffffff"/><stop offset="0.69" stop-color="#9fc0ff"/><stop offset="0.75" stop-color="#2040ff"/><stop offset="1" stop-color="#0818e8"/></linearGradient></defs>
<rect x="433" y="67.6" width="3.6" height="56.2" fill="url(#cbB)"/>
<text x="439.6" y="71.1" font-size="6.6" fill="#333">40</text>
<text x="439.6" y="88.8" font-size="6.6" fill="#333">20</text>
<text x="439.6" y="107.1" font-size="6.6" fill="#333">0</text>
<text x="439.6" y="124.9" font-size="6.6" fill="#333">–20</text>
<text transform="translate(430,94.3) rotate(-90)" font-size="6.05" font-weight="bold" fill="#111">Expression</text>
<text x="454.2" y="69.2" font-size="6.0" font-weight="bold" fill="#111">CEBPA allelic status</text>
<rect x="455.1" y="72.1" width="3.8" height="3.8" fill="#7fe8d0"/>
<text x="461.3" y="75.9" font-size="5.7" fill="#333">CEBPA-bZip</text>
<rect x="455.1" y="77.5" width="3.8" height="3.8" fill="#e81b62"/>
<text x="461.3" y="81.3" font-size="5.7" fill="#333">CEBPA-dm</text>
<rect x="455.1" y="83.1" width="3.8" height="3.8" fill="#aebcb9"/>
<text x="461.3" y="86.9" font-size="5.7" fill="#333">CEBPA-WT</text>
<rect x="455.1" y="88.3" width="3.8" height="3.8" fill="#000"/>
<text x="461.3" y="92.1" font-size="5.7" fill="#333">NBM</text>
<text x="454.2" y="102.9" font-size="6.0" font-weight="bold" fill="#111">CSF3R mutation</text>
<rect x="455.1" y="105.9" width="3.8" height="3.8" fill="#e60010"/>
<text x="461.3" y="109.7" font-size="5.7" fill="#333">Yes</text>
<rect x="455.1" y="111.4" width="3.8" height="3.8" fill="#8a9a97"/>
<text x="461.3" y="115.2" font-size="5.7" fill="#333">No</text>
<rect x="455.1" y="117.0" width="3.8" height="3.8" fill="#c9d0ce"/>
<text x="461.3" y="120.8" font-size="5.7" fill="#333">Unknown</text>
<rect x="455.1" y="122.2" width="3.8" height="3.8" fill="#000"/>
<text x="461.3" y="126.0" font-size="5.7" fill="#333">NBM</text>
<text x="454.2" y="136.6" font-size="6.0" font-weight="bold" fill="#111">GATA2</text>
<rect x="455.1" y="139.6" width="3.8" height="3.8" fill="#f3c316"/>
<text x="461.3" y="143.4" font-size="5.7" fill="#333">Yes</text>
<rect x="455.1" y="145.0" width="3.8" height="3.8" fill="#c3cbc9"/>
<text x="461.3" y="148.8" font-size="5.7" fill="#333">Unknown</text>
<rect x="455.1" y="150.4" width="3.8" height="3.8" fill="#000"/>
<text x="461.3" y="154.2" font-size="5.7" fill="#333">NBM</text>
<g filter="url(#bl)"><rect x="19" y="223" width="157" height="2.667" fill="#dce7f8"/>
<rect x="19" y="225.6" width="157" height="1.358" fill="#eef2fa"/>
<rect x="19" y="226.9" width="157" height="1.358" fill="#f4e1e7"/>
<rect x="19" y="228.2" width="157" height="7.901" fill="#dce7f8"/>
<rect x="19" y="236.1" width="157" height="1.358" fill="#eef2fa"/>
<rect x="19" y="237.4" width="157" height="2.667" fill="#cadbf5"/>
<rect x="19" y="240" width="157" height="2.667" fill="#eef2fa"/>
<rect x="19" y="242.6" width="157" height="2.667" fill="#dce7f8"/>
<rect x="19" y="245.2" width="157" height="5.284" fill="#eef2fa"/>
<rect x="19" y="250.5" width="157" height="1.358" fill="#dce7f8"/>
<rect x="19" y="251.8" width="157" height="3.975" fill="#eef2fa"/>
<rect x="19" y="255.7" width="157" height="5.284" fill="#dce7f8"/>
<rect x="19" y="260.9" width="157" height="3.975" fill="#eef2fa"/>
<rect x="19" y="264.9" width="157" height="1.358" fill="#dce7f8"/>
<rect x="19" y="266.2" width="157" height="5.284" fill="#eef2fa"/>
<rect x="19" y="271.4" width="157" height="1.358" fill="#dce7f8"/>
<rect x="19" y="272.7" width="157" height="6.592" fill="#eef2fa"/>
<rect x="19" y="279.3" width="157" height="1.358" fill="#dce7f8"/>
<rect x="19" y="280.6" width="157" height="2.667" fill="#eef2fa"/>
<rect x="19" y="283.2" width="157" height="1.358" fill="#dce7f8"/>
<rect x="19" y="284.5" width="157" height="5.284" fill="#eef2fa"/>
<rect x="19" y="289.7" width="157" height="1.358" fill="#f4e1e7"/>
<rect x="19" y="291" width="157" height="3.975" fill="#eef2fa"/>
<rect x="19" y="295" width="157" height="5.284" fill="#dce7f8"/>
<rect x="19" y="300.2" width="157" height="1.358" fill="#eef2fa"/>
<rect x="19" y="301.5" width="157" height="5.284" fill="#dce7f8"/>
<rect x="19" y="306.7" width="157" height="1.358" fill="#eef2fa"/>
<rect x="19" y="308" width="157" height="1.358" fill="#dce7f8"/>
<rect x="19" y="309.4" width="157" height="2.667" fill="#eef2fa"/>
<rect x="19" y="312" width="157" height="1.358" fill="#f4e1e7"/>
<rect x="19" y="313.3" width="157" height="1.358" fill="#eef2fa"/>
<rect x="19" y="314.6" width="157" height="1.358" fill="#f4e1e7"/>
<rect x="19" y="315.9" width="157" height="1.358" fill="#dce7f8"/>
<rect x="19" y="317.2" width="157" height="3.975" fill="#eef2fa"/>
<rect x="19" y="321.1" width="157" height="1.358" fill="#dce7f8"/>
<rect x="19" y="322.4" width="157" height="1.358" fill="#eef2fa"/>
<rect x="19" y="323.7" width="157" height="2.667" fill="#dce7f8"/>
<rect x="19" y="326.4" width="157" height="1.358" fill="#eef2fa"/>
<rect x="19" y="327.7" width="157" height="2.667" fill="#dce7f8"/>
<rect x="19" y="330.3" width="157" height="1.358" fill="#eef2fa"/>
<rect x="19" y="331.6" width="157" height="1.358" fill="#f4e1e7"/>
<rect x="19" y="332.9" width="157" height="6.592" fill="#eef2fa"/>
<rect x="19" y="339.4" width="157" height="2.667" fill="#dce7f8"/>
<rect x="19" y="342.1" width="157" height="3.975" fill="#eef2fa"/>
<rect x="19" y="346" width="157" height="1.358" fill="#dce7f8"/>
<path stroke="#eef2fa" stroke-width="1.33" d="M79.71 223.7h2.093M140.4 225h2.093M29.47 227.6h2.093M60.87 227.6h2.093M65.05 227.6h2.093M73.43 227.6h2.093M81.8 227.6h4.187M92.27 227.6h2.093M113.2 227.6h4.187M138.3 227.6h2.093M142.5 227.6h2.093M153 227.6h8.373M163.4 227.6h4.187M171.8 227.6h4.187M65.05 228.9h2.093M88.08 228.9h2.093M153 228.9h2.093M161.3 228.9h2.093M81.8 230.2h2.093M90.17 230.2h2.093M161.3 230.2h4.187M92.27 231.5h4.187M106.9 231.5h2.093M125.8 231.5h2.093M140.4 231.5h2.093M167.6 231.5h4.187M173.9 231.5h2.093M90.17 232.8h2.093M115.3 232.8h2.093M171.8 232.8h2.093M62.96 234.1h4.187M102.7 234.1h2.093M153 234.1h2.093M157.2 234.1h2.093M173.9 234.1h2.093M44.12 235.4h2.093M56.68 235.4h2.093M60.87 235.4h2.093M65.05 235.4h10.47M83.89 235.4h2.093M90.17 235.4h2.093M104.8 235.4h2.093M115.3 235.4h12.56M140.4 235.4h6.28M150.9 235.4h6.28M163.4 235.4h4.187M173.9 235.4h2.093M25.28 238h2.093M31.56 238h2.093M54.59 238h2.093M104.8 238h2.093M132 238h2.093M150.9 238h2.093M50.4 239.4h4.187M56.68 239.4h2.093M83.89 239.4h2.093M119.5 239.4h4.187M136.2 239.4h6.28M33.65 243.3h2.093M37.84 243.3h2.093M42.03 243.3h2.093M54.59 243.3h2.093M85.99 243.3h2.093M165.5 243.3h2.093M52.49 244.6h2.093M73.43 244.6h2.093M109 244.6h2.093M132 244.6h2.093M153 244.6h8.373M19 251.1h2.093M25.28 251.1h6.28M37.84 251.1h6.28M46.21 251.1h2.093M52.49 251.1h2.093M79.71 251.1h2.093M98.55 251.1h4.187M106.9 251.1h2.093M113.2 251.1h4.187M119.5 251.1h4.187M127.9 251.1h4.187M134.1 251.1h2.093M138.3 251.1h2.093M144.6 251.1h6.28M163.4 251.1h2.093M46.21 256.4h2.093M54.59 256.4h6.28M125.8 256.4h2.093M136.2 256.4h2.093M142.5 256.4h4.187M155.1 256.4h2.093M161.3 256.4h2.093M21.09 257.7h2.093M27.37 257.7h2.093M33.65 257.7h2.093M42.03 257.7h2.093M50.4 257.7h2.093M77.61 257.7h2.093M102.7 257.7h2.093M106.9 257.7h2.093M117.4 257.7h4.187M129.9 257.7h2.093M134.1 257.7h2.093M148.8 257.7h2.093M155.1 257.7h2.093M163.4 257.7h6.28M19 259h2.093M23.19 259h2.093M65.05 259h2.093M71.33 259h4.187M117.4 259h2.093M165.5 259h2.093M23.19 260.3h2.093M39.93 260.3h8.373M50.4 260.3h2.093M54.59 260.3h2.093M62.96 260.3h2.093M69.24 260.3h2.093M79.71 260.3h6.28M88.08 260.3h4.187M102.7 260.3h2.093M109 260.3h2.093M123.7 260.3h4.187M134.1 260.3h4.187M159.3 260.3h4.187M165.5 260.3h4.187M33.65 265.5h2.093M58.77 265.5h4.187M69.24 265.5h2.093M75.52 265.5h2.093M106.9 265.5h2.093M134.1 265.5h2.093M19 272.1h2.093M56.68 272.1h2.093M71.33 272.1h4.187M85.99 272.1h4.187M92.27 272.1h2.093M100.6 272.1h2.093M157.2 272.1h2.093M50.4 279.9h2.093M21.09 283.8h4.187M29.47 283.8h2.093M37.84 283.8h2.093M44.12 283.8h4.187M50.4 283.8h2.093M56.68 283.8h4.187M65.05 283.8h2.093M69.24 283.8h2.093M73.43 283.8h6.28M83.89 283.8h2.093M94.36 283.8h4.187M100.6 283.8h2.093M119.5 283.8h2.093M123.7 283.8h2.093M146.7 283.8h4.187M163.4 283.8h8.373M173.9 283.8h2.093M21.09 290.4h2.093M25.28 290.4h2.093M31.56 290.4h4.187M42.03 290.4h6.28M52.49 290.4h4.187M67.15 290.4h2.093M75.52 290.4h2.093M88.08 290.4h2.093M92.27 290.4h2.093M96.45 290.4h2.093M100.6 290.4h4.187M106.9 290.4h2.093M115.3 290.4h6.28M127.9 290.4h2.093M134.1 290.4h2.093M138.3 290.4h4.187M146.7 290.4h2.093M157.2 290.4h2.093M161.3 290.4h2.093M169.7 290.4h4.187M19 295.6h4.187M25.28 295.6h2.093M33.65 295.6h2.093M39.93 295.6h2.093M52.49 295.6h2.093M58.77 295.6h6.28M73.43 295.6h2.093M90.17 295.6h2.093M94.36 295.6h2.093M100.6 295.6h2.093M109 295.6h4.187M115.3 295.6h2.093M123.7 295.6h2.093M146.7 295.6h2.093M157.2 295.6h4.187M165.5 295.6h2.093M173.9 295.6h2.093M27.37 296.9h2.093M33.65 296.9h2.093M37.84 296.9h4.187M46.21 296.9h2.093M50.4 296.9h2.093M58.77 296.9h2.093M62.96 296.9h2.093M67.15 296.9h2.093M71.33 296.9h2.093M75.52 296.9h6.28M83.89 296.9h2.093M88.08 296.9h2.093M92.27 296.9h2.093M100.6 296.9h2.093M109 296.9h4.187M117.4 296.9h2.093M121.6 296.9h4.187M136.2 296.9h2.093M144.6 296.9h2.093M150.9 296.9h2.093M163.4 296.9h2.093M167.6 296.9h2.093M19 298.2h2.093M25.28 298.2h4.187M50.4 298.2h2.093M75.52 298.2h2.093M81.8 298.2h8.373M111.1 298.2h6.28M129.9 298.2h6.28M138.3 298.2h2.093M142.5 298.2h2.093M155.1 298.2h2.093M161.3 298.2h2.093M165.5 298.2h2.093M169.7 298.2h2.093M173.9 298.2h2.093M48.31 299.5h2.093M125.8 299.5h2.093M129.9 299.5h2.093M29.47 302.2h2.093M33.65 302.2h2.093M37.84 302.2h2.093M46.21 302.2h2.093M50.4 302.2h14.65M69.24 302.2h2.093M88.08 302.2h2.093M94.36 302.2h2.093M104.8 302.2h2.093M111.1 302.2h2.093M117.4 302.2h4.187M123.7 302.2h2.093M129.9 302.2h2.093M144.6 302.2h2.093M148.8 302.2h4.187M157.2 302.2h2.093M163.4 302.2h2.093M167.6 302.2h2.093M25.28 303.5h2.093M90.17 303.5h2.093M125.8 303.5h2.093M25.28 304.8h2.093M75.52 304.8h2.093M127.9 304.8h2.093M65.05 306.1h2.093M96.45 306.1h2.093M113.2 306.1h2.093M134.1 306.1h2.093M161.3 306.1h2.093M19 308.7h2.093M27.37 308.7h2.093M65.05 308.7h2.093M92.27 308.7h2.093M109 308.7h2.093M129.9 308.7h2.093M148.8 308.7h2.093M153 308.7h2.093M44.12 312.6h2.093M54.59 312.6h4.187M62.96 312.6h2.093M67.15 312.6h2.093M71.33 312.6h4.187M79.71 312.6h2.093M83.89 312.6h2.093M88.08 312.6h2.093M92.27 312.6h2.093M100.6 312.6h2.093M106.9 312.6h4.187M115.3 312.6h2.093M125.8 312.6h4.187M132 312.6h4.187M140.4 312.6h4.187M161.3 312.6h2.093M169.7 312.6h2.093M31.56 315.2h2.093M35.75 315.2h6.28M54.59 315.2h2.093M71.33 315.2h4.187M77.61 315.2h2.093M83.89 315.2h2.093M88.08 315.2h2.093M96.45 315.2h2.093M100.6 315.2h2.093M104.8 315.2h6.28M121.6 315.2h2.093M129.9 315.2h6.28M140.4 315.2h4.187M146.7 315.2h4.187M159.3 315.2h2.093M165.5 315.2h2.093M37.84 316.6h2.093M62.96 316.6h2.093M109 316.6h2.093M121.6 316.6h2.093M167.6 316.6h2.093M35.75 321.8h2.093M42.03 321.8h4.187M50.4 321.8h2.093M54.59 321.8h2.093M67.15 321.8h2.093M71.33 321.8h4.187M90.17 321.8h2.093M119.5 321.8h4.187M125.8 321.8h2.093M165.5 321.8h4.187M173.9 321.8h2.093M27.37 324.4h2.093M42.03 324.4h2.093M54.59 324.4h2.093M62.96 324.4h2.093M140.4 324.4h2.093M161.3 324.4h2.093M23.19 325.7h2.093M56.68 325.7h2.093M94.36 325.7h2.093M127.9 325.7h2.093M155.1 325.7h4.187M165.5 325.7h2.093M27.37 328.3h2.093M111.1 328.3h2.093M117.4 328.3h2.093M136.2 328.3h2.093M69.24 329.6h2.093M31.56 332.3h2.093M37.84 332.3h4.187M48.31 332.3h4.187M54.59 332.3h2.093M62.96 332.3h2.093M67.15 332.3h2.093M75.52 332.3h2.093M79.71 332.3h6.28M88.08 332.3h2.093M92.27 332.3h4.187M100.6 332.3h2.093M104.8 332.3h4.187M113.2 332.3h2.093M129.9 332.3h2.093M136.2 332.3h2.093M144.6 332.3h2.093M159.3 332.3h4.187M167.6 332.3h2.093M29.47 340.1h2.093M37.84 340.1h2.093M77.61 340.1h2.093M83.89 340.1h2.093M88.08 340.1h2.093M121.6 340.1h2.093M161.3 340.1h2.093M67.15 341.4h2.093M79.71 341.4h2.093M102.7 341.4h2.093M111.1 341.4h2.093M134.1 341.4h2.093M155.1 341.4h2.093M163.4 341.4h2.093M173.9 341.4h2.093M148.8 346.6h2.093"/>
<path stroke="#f4e1e7" stroke-width="1.33" d="M27.37 225h2.093M33.65 225h2.093M58.77 225h2.093M65.05 225h2.093M88.08 225h2.093M125.8 225h2.093M142.5 225h2.093M146.7 225h2.093M157.2 225h2.093M62.96 226.3h2.093M90.17 226.3h2.093M100.6 226.3h2.093M109 226.3h2.093M157.2 226.3h2.093M173.9 226.3h2.093M35.75 228.9h2.093M56.68 228.9h2.093M92.27 228.9h2.093M155.1 228.9h2.093M56.68 230.2h2.093M67.15 230.2h2.093M115.3 230.2h2.093M134.1 230.2h2.093M153 230.2h2.093M159.3 230.2h2.093M171.8 230.2h2.093M42.03 231.5h2.093M62.96 231.5h2.093M67.15 231.5h2.093M148.8 231.5h2.093M161.3 231.5h2.093M27.37 232.8h4.187M52.49 232.8h2.093M62.96 232.8h2.093M121.6 232.8h2.093M134.1 232.8h4.187M50.4 234.1h2.093M127.9 234.1h2.093M148.8 234.1h4.187M171.8 234.1h2.093M58.77 235.4h2.093M81.8 235.4h2.093M138.3 235.4h2.093M27.37 236.7h4.187M44.12 236.7h2.093M54.59 236.7h2.093M71.33 236.7h2.093M75.52 236.7h2.093M83.89 236.7h2.093M92.27 236.7h4.187M104.8 236.7h2.093M109 236.7h4.187M117.4 236.7h4.187M125.8 236.7h2.093M132 236.7h10.47M144.6 236.7h6.28M153 236.7h2.093M157.2 236.7h2.093M163.4 236.7h2.093M169.7 236.7h2.093M56.68 238h2.093M146.7 238h2.093M21.09 239.4h2.093M94.36 239.4h2.093M132 239.4h2.093M102.7 240.7h2.093M106.9 240.7h2.093M113.2 240.7h2.093M119.5 240.7h2.093M125.8 240.7h2.093M132 240.7h2.093M140.4 240.7h2.093M144.6 240.7h4.187M157.2 240.7h2.093M169.7 240.7h6.28M56.68 242h2.093M140.4 242h2.093M165.5 242h2.093M19 243.3h2.093M31.56 243.3h2.093M39.93 243.3h2.093M69.24 243.3h2.093M104.8 243.3h2.093M113.2 243.3h2.093M140.4 243.3h2.093M159.3 243.3h2.093M33.65 244.6h2.093M50.4 244.6h2.093M62.96 244.6h2.093M83.89 244.6h2.093M104.8 244.6h2.093M111.1 244.6h2.093M138.3 244.6h2.093M21.09 245.9h2.093M37.84 245.9h2.093M50.4 245.9h2.093M83.89 245.9h2.093M113.2 245.9h2.093M153 245.9h2.093M157.2 245.9h6.28M23.19 247.2h2.093M42.03 247.2h2.093M75.52 247.2h2.093M85.99 247.2h4.187M153 247.2h2.093M21.09 248.5h2.093M25.28 248.5h2.093M50.4 248.5h4.187M56.68 248.5h2.093M100.6 248.5h2.093M104.8 248.5h4.187M111.1 248.5h6.28M121.6 248.5h4.187M127.9 248.5h2.093M142.5 248.5h2.093M150.9 248.5h2.093M163.4 248.5h4.187M92.27 249.8h2.093M100.6 249.8h2.093M127.9 249.8h2.093M153 249.8h4.187M159.3 249.8h4.187M21.09 251.1h2.093M50.4 251.1h2.093M69.24 251.1h2.093M81.8 251.1h2.093M85.99 251.1h2.093M104.8 251.1h2.093M109 251.1h4.187M153 251.1h4.187M159.3 251.1h4.187M153 252.4h2.093M161.3 252.4h2.093M155.1 253.7h6.28M31.56 255.1h2.093M67.15 255.1h2.093M85.99 255.1h2.093M100.6 255.1h2.093M155.1 255.1h8.373M81.8 256.4h2.093M90.17 256.4h2.093M115.3 256.4h2.093M129.9 256.4h2.093M157.2 256.4h4.187M46.21 257.7h2.093M83.89 257.7h2.093M127.9 257.7h2.093M142.5 257.7h2.093M153 257.7h2.093M159.3 257.7h2.093M27.37 259h4.187M33.65 259h2.093M106.9 259h2.093M111.1 259h2.093M119.5 259h2.093M125.8 259h2.093M129.9 259h2.093M140.4 259h2.093M144.6 259h2.093M163.4 259h2.093M27.37 260.3h2.093M58.77 260.3h2.093M104.8 260.3h2.093M119.5 260.3h2.093M132 260.3h2.093M144.6 260.3h2.093M169.7 260.3h2.093M31.56 261.6h2.093M31.56 262.9h2.093M83.89 262.9h2.093M127.9 262.9h2.093M150.9 262.9h2.093M75.52 264.2h2.093M94.36 264.2h2.093M113.2 264.2h2.093M142.5 264.2h2.093M153 264.2h6.28M35.75 265.5h2.093M39.93 265.5h2.093M46.21 265.5h2.093M65.05 265.5h2.093M111.1 265.5h2.093M121.6 265.5h2.093M144.6 265.5h2.093M159.3 265.5h2.093M169.7 265.5h2.093M27.37 266.8h2.093M35.75 266.8h2.093M83.89 266.8h2.093M129.9 266.8h2.093M136.2 266.8h2.093M155.1 266.8h2.093M21.09 268.1h2.093M29.47 268.1h2.093M46.21 268.1h2.093M52.49 268.1h2.093M56.68 268.1h2.093M60.87 268.1h2.093M67.15 268.1h6.28M75.52 268.1h4.187M90.17 268.1h2.093M100.6 268.1h2.093M115.3 268.1h2.093M123.7 268.1h2.093M127.9 268.1h4.187M134.1 268.1h2.093M140.4 268.1h2.093M146.7 268.1h4.187M157.2 268.1h2.093M25.28 269.4h4.187M44.12 269.4h2.093M48.31 269.4h2.093M54.59 269.4h2.093M60.87 269.4h2.093M65.05 269.4h2.093M127.9 269.4h2.093M140.4 269.4h2.093M23.19 270.8h2.093M69.24 270.8h2.093M109 270.8h2.093M146.7 270.8h2.093M150.9 270.8h2.093M42.03 272.1h2.093M54.59 272.1h2.093M115.3 272.1h2.093M123.7 272.1h2.093M169.7 272.1h2.093M35.75 273.4h2.093M50.4 273.4h2.093M94.36 273.4h2.093M98.55 273.4h2.093M125.8 273.4h2.093M140.4 273.4h2.093M144.6 273.4h2.093M29.47 274.7h2.093M56.68 274.7h2.093M73.43 274.7h2.093M106.9 274.7h2.093M121.6 274.7h2.093M157.2 274.7h2.093M31.56 276h2.093M56.68 276h2.093M71.33 276h2.093M85.99 276h2.093M134.1 276h2.093M153 276h2.093M171.8 276h2.093M81.8 277.3h2.093M111.1 277.3h2.093M115.3 277.3h2.093M42.03 278.6h2.093M85.99 278.6h2.093M121.6 278.6h2.093M157.2 278.6h2.093M29.47 279.9h2.093M33.65 279.9h2.093M54.59 279.9h2.093M62.96 279.9h2.093M69.24 279.9h2.093M75.52 279.9h2.093M81.8 279.9h2.093M98.55 279.9h2.093M102.7 279.9h4.187M123.7 279.9h2.093M148.8 279.9h2.093M19 281.2h2.093M98.55 281.2h2.093M109 281.2h2.093M148.8 281.2h2.093M153 281.2h2.093M23.19 282.5h2.093M48.31 282.5h2.093M58.77 282.5h2.093M71.33 282.5h2.093M79.71 282.5h2.093M140.4 282.5h2.093M165.5 282.5h2.093M173.9 282.5h2.093M27.37 283.8h2.093M42.03 283.8h2.093M52.49 283.8h4.187M67.15 283.8h2.093M115.3 283.8h4.187M138.3 283.8h2.093M33.65 285.1h2.093M42.03 285.1h4.187M100.6 285.1h2.093M109 285.1h2.093M125.8 285.1h2.093M140.4 285.1h2.093M165.5 285.1h2.093M85.99 286.5h2.093M119.5 286.5h2.093M167.6 286.5h2.093M88.08 287.8h2.093M96.45 287.8h4.187M104.8 287.8h2.093M121.6 287.8h2.093M140.4 287.8h2.093M157.2 287.8h2.093M163.4 287.8h4.187M31.56 289.1h2.093M44.12 289.1h2.093M75.52 289.1h2.093M100.6 289.1h2.093M113.2 289.1h2.093M119.5 289.1h2.093M21.09 291.7h4.187M33.65 291.7h4.187M44.12 291.7h2.093M48.31 291.7h2.093M52.49 291.7h2.093M62.96 291.7h4.187M73.43 291.7h2.093M83.89 291.7h2.093M90.17 291.7h2.093M98.55 291.7h8.373M127.9 291.7h2.093M144.6 291.7h4.187M150.9 291.7h2.093M159.3 291.7h6.28M111.1 293h2.093M35.75 294.3h2.093M44.12 294.3h2.093M102.7 294.3h2.093M159.3 294.3h2.093M69.24 295.6h2.093M83.89 295.6h2.093M98.55 295.6h2.093M119.5 295.6h2.093M140.4 295.6h2.093M54.59 296.9h2.093M113.2 296.9h2.093M153 296.9h4.187M171.8 296.9h2.093M21.09 298.2h2.093M56.68 298.2h2.093M98.55 298.2h2.093M146.7 298.2h2.093M171.8 298.2h2.093M23.19 299.5h2.093M33.65 299.5h2.093M44.12 299.5h4.187M81.8 299.5h2.093M111.1 299.5h2.093M123.7 299.5h2.093M67.15 300.9h2.093M92.27 300.9h2.093M35.75 302.2h2.093M73.43 302.2h2.093M98.55 302.2h4.187M33.65 303.5h2.093M37.84 303.5h2.093M98.55 303.5h6.28M136.2 303.5h2.093M146.7 303.5h2.093M37.84 304.8h8.373M62.96 304.8h8.373M102.7 304.8h2.093M119.5 304.8h2.093M146.7 304.8h2.093M73.43 306.1h2.093M119.5 306.1h2.093M123.7 306.1h2.093M155.1 306.1h4.187M25.28 307.4h4.187M50.4 307.4h2.093M60.87 307.4h2.093M77.61 307.4h2.093M81.8 307.4h4.187M92.27 307.4h2.093M98.55 307.4h2.093M140.4 307.4h2.093M155.1 307.4h4.187M163.4 307.4h2.093M39.93 308.7h2.093M52.49 308.7h6.28M75.52 308.7h2.093M104.8 308.7h2.093M161.3 308.7h2.093M167.6 308.7h2.093M173.9 308.7h2.093M52.49 310h2.093M73.43 310h2.093M113.2 310h2.093M127.9 310h4.187M150.9 310h2.093M159.3 310h2.093M167.6 310h4.187M27.37 311.3h2.093M52.49 311.3h4.187M129.9 311.3h2.093M142.5 311.3h2.093M146.7 311.3h2.093M50.4 313.9h2.093M56.68 313.9h4.187M65.05 313.9h2.093M46.21 316.6h2.093M52.49 316.6h2.093M88.08 316.6h2.093M113.2 316.6h2.093M146.7 316.6h6.28M157.2 316.6h2.093M161.3 316.6h2.093M25.28 317.9h2.093M48.31 317.9h2.093M54.59 317.9h2.093M65.05 317.9h2.093M83.89 317.9h2.093M111.1 317.9h2.093M144.6 317.9h2.093M153 317.9h2.093M109 319.2h2.093M117.4 319.2h2.093M146.7 319.2h2.093M159.3 319.2h2.093M48.31 320.5h2.093M102.7 320.5h2.093M117.4 320.5h2.093M136.2 320.5h2.093M37.84 321.8h2.093M46.21 321.8h2.093M62.96 321.8h2.093M96.45 321.8h2.093M109 321.8h2.093M127.9 321.8h2.093M155.1 321.8h2.093M171.8 321.8h2.093M27.37 323.1h2.093M75.52 323.1h2.093M98.55 323.1h4.187M109 323.1h2.093M146.7 323.1h2.093M155.1 323.1h2.093M19 324.4h4.187M58.77 324.4h2.093M83.89 324.4h4.187M90.17 324.4h2.093M109 324.4h2.093M146.7 324.4h2.093M37.84 325.7h2.093M75.52 325.7h2.093M85.99 325.7h2.093M134.1 325.7h2.093M140.4 325.7h4.187M146.7 325.7h2.093M153 325.7h2.093M71.33 327h2.093M83.89 327h4.187M136.2 327h2.093M155.1 327h4.187M29.47 328.3h2.093M46.21 328.3h4.187M67.15 328.3h2.093M73.43 328.3h2.093M81.8 328.3h4.187M102.7 328.3h2.093M119.5 328.3h2.093M169.7 328.3h4.187M35.75 329.6h2.093M58.77 329.6h2.093M81.8 329.6h4.187M119.5 329.6h2.093M146.7 329.6h2.093M150.9 329.6h2.093M163.4 329.6h4.187M39.93 330.9h2.093M73.43 330.9h2.093M104.8 330.9h2.093M138.3 330.9h2.093M23.19 333.6h2.093M77.61 333.6h2.093M88.08 333.6h2.093M163.4 333.6h2.093M27.37 334.9h2.093M94.36 334.9h2.093M111.1 334.9h2.093M127.9 334.9h4.187M155.1 334.9h2.093M173.9 334.9h2.093M37.84 336.2h2.093M54.59 336.2h2.093M98.55 336.2h2.093M127.9 336.2h2.093M21.09 337.5h2.093M54.59 337.5h2.093M119.5 337.5h2.093M146.7 337.5h2.093M19 338.8h2.093M25.28 338.8h2.093M54.59 338.8h4.187M75.52 338.8h2.093M88.08 338.8h2.093M104.8 338.8h2.093M157.2 338.8h2.093M161.3 338.8h2.093M31.56 340.1h2.093M73.43 340.1h4.187M100.6 340.1h4.187M109 340.1h2.093M132 340.1h2.093M136.2 340.1h2.093M169.7 340.1h2.093M52.49 341.4h2.093M65.05 341.4h2.093M98.55 341.4h4.187M119.5 341.4h2.093M144.6 341.4h2.093M157.2 341.4h2.093M161.3 341.4h2.093M165.5 341.4h2.093M42.03 342.7h2.093M67.15 342.7h2.093M75.52 342.7h2.093M79.71 342.7h2.093M85.99 342.7h2.093M104.8 342.7h2.093M117.4 342.7h2.093M121.6 342.7h2.093M37.84 344h2.093M100.6 344h2.093M117.4 344h2.093M161.3 344h2.093M37.84 345.3h2.093M46.21 345.3h2.093M58.77 345.3h2.093M83.89 345.3h2.093M134.1 345.3h2.093M140.4 345.3h2.093M19 346.6h2.093M46.21 346.6h2.093M54.59 346.6h4.187M67.15 346.6h2.093M75.52 346.6h2.093M90.17 346.6h4.187M127.9 346.6h2.093M146.7 346.6h2.093M159.3 346.6h2.093"/>
<path stroke="#dce7f8" stroke-width="1.33" d="M132 226.3h2.093M42.03 238h2.093M123.7 238h2.093M134.1 238h2.093M161.3 238h2.093M23.19 239.4h2.093M33.65 239.4h2.093M44.12 239.4h2.093M54.59 239.4h2.093M58.77 239.4h2.093M100.6 239.4h2.093M117.4 239.4h2.093M123.7 239.4h2.093M127.9 239.4h2.093M134.1 239.4h2.093M142.5 239.4h2.093M148.8 239.4h4.187M159.3 239.4h2.093M163.4 239.4h2.093M167.6 239.4h2.093M173.9 239.4h2.093M25.28 242h2.093M65.05 242h2.093M69.24 242h4.187M75.52 242h2.093M83.89 242h14.65M109 242h2.093M115.3 242h2.093M125.8 242h12.56M155.1 242h2.093M167.6 242h4.187M35.75 245.9h2.093M42.03 245.9h2.093M56.68 245.9h2.093M60.87 245.9h6.28M69.24 245.9h14.65M85.99 245.9h6.28M94.36 245.9h4.187M115.3 245.9h2.093M132 245.9h2.093M169.7 245.9h2.093M77.61 247.2h4.187M94.36 247.2h4.187M25.28 249.8h2.093M69.24 249.8h2.093M75.52 249.8h2.093M79.71 249.8h10.47M96.45 249.8h4.187M109 249.8h4.187M121.6 249.8h2.093M129.9 249.8h2.093M142.5 249.8h2.093M163.4 249.8h2.093M65.05 252.4h4.187M71.33 252.4h4.187M79.71 252.4h2.093M83.89 252.4h2.093M88.08 252.4h2.093M94.36 252.4h2.093M142.5 252.4h2.093M21.09 253.7h4.187M27.37 253.7h2.093M62.96 253.7h4.187M69.24 253.7h4.187M75.52 253.7h2.093M81.8 253.7h14.65M115.3 253.7h2.093M127.9 253.7h2.093M140.4 253.7h2.093M27.37 255.1h2.093M33.65 255.1h4.187M39.93 255.1h2.093M44.12 255.1h2.093M56.68 255.1h2.093M62.96 255.1h4.187M69.24 255.1h6.28M79.71 255.1h6.28M88.08 255.1h2.093M94.36 255.1h6.28M102.7 255.1h2.093M113.2 255.1h10.47M167.6 255.1h4.187M19 262.9h4.187M35.75 262.9h2.093M44.12 262.9h2.093M52.49 262.9h4.187M58.77 262.9h4.187M65.05 262.9h2.093M69.24 262.9h2.093M73.43 262.9h2.093M77.61 262.9h2.093M81.8 262.9h2.093M88.08 262.9h2.093M92.27 262.9h2.093M96.45 262.9h4.187M102.7 262.9h8.373M113.2 262.9h2.093M117.4 262.9h2.093M125.8 262.9h2.093M138.3 262.9h2.093M144.6 262.9h4.187M161.3 262.9h2.093M169.7 262.9h2.093M19 264.2h2.093M58.77 264.2h2.093M62.96 264.2h2.093M69.24 264.2h4.187M85.99 264.2h4.187M96.45 264.2h2.093M102.7 264.2h6.28M123.7 264.2h2.093M136.2 264.2h4.187M163.4 264.2h6.28M171.8 264.2h2.093M31.56 266.8h2.093M39.93 266.8h2.093M44.12 266.8h4.187M65.05 266.8h2.093M73.43 266.8h2.093M79.71 266.8h2.093M96.45 266.8h2.093M119.5 266.8h4.187M127.9 266.8h2.093M142.5 266.8h2.093M153 266.8h2.093M167.6 266.8h2.093M121.6 269.4h2.093M73.43 270.8h2.093M73.43 273.4h2.093M77.61 274.7h2.093M94.36 274.7h2.093M138.3 274.7h2.093M21.09 276h2.093M37.84 276h4.187M48.31 276h4.187M58.77 276h4.187M65.05 276h2.093M69.24 276h2.093M88.08 276h2.093M98.55 276h4.187M104.8 276h2.093M109 276h6.28M127.9 276h4.187M136.2 276h2.093M142.5 276h6.28M150.9 276h2.093M157.2 276h12.56M173.9 276h2.093M33.65 277.3h2.093M50.4 277.3h2.093M92.27 277.3h2.093M161.3 278.6h2.093M39.93 281.2h2.093M73.43 281.2h2.093M79.71 281.2h2.093M113.2 282.5h2.093M23.19 285.1h2.093M27.37 285.1h4.187M46.21 285.1h2.093M52.49 285.1h2.093M65.05 285.1h2.093M73.43 285.1h2.093M92.27 285.1h2.093M98.55 285.1h2.093M129.9 285.1h2.093M153 285.1h4.187M90.17 286.5h2.093M35.75 289.1h2.093M54.59 289.1h2.093M58.77 289.1h2.093M81.8 289.1h2.093M88.08 289.1h2.093M92.27 289.1h2.093M102.7 289.1h2.093M117.4 289.1h2.093M121.6 289.1h2.093M125.8 289.1h2.093M136.2 289.1h2.093M140.4 289.1h2.093M146.7 289.1h2.093M159.3 289.1h2.093M165.5 289.1h2.093M173.9 289.1h2.093M65.05 293h2.093M132 293h2.093M140.4 293h2.093M48.31 294.3h2.093M71.33 294.3h2.093M37.84 300.9h2.093M125.8 300.9h2.093M140.4 300.9h6.28M19 307.4h6.28M29.47 307.4h2.093M142.5 307.4h2.093M19 310h4.187M25.28 310h2.093M29.47 310h2.093M140.4 310h4.187M31.56 311.3h4.187M37.84 311.3h2.093M44.12 311.3h2.093M50.4 311.3h2.093M60.87 311.3h2.093M65.05 311.3h2.093M75.52 311.3h2.093M83.89 311.3h4.187M90.17 311.3h4.187M98.55 311.3h4.187M104.8 311.3h6.28M115.3 311.3h4.187M132 311.3h2.093M136.2 311.3h6.28M155.1 311.3h4.187M165.5 311.3h6.28M19 312.6h2.093M23.19 312.6h2.093M27.37 312.6h4.187M33.65 313.9h2.093M37.84 313.9h2.093M52.49 313.9h2.093M71.33 313.9h6.28M85.99 313.9h2.093M92.27 313.9h2.093M98.55 313.9h2.093M102.7 313.9h4.187M132 313.9h8.373M142.5 313.9h2.093M146.7 313.9h10.47M159.3 313.9h2.093M171.8 313.9h2.093M19 315.2h4.187M25.28 315.2h2.093M29.47 315.2h2.093M19 317.9h6.28M29.47 317.9h2.093M42.03 317.9h2.093M52.49 317.9h2.093M60.87 317.9h2.093M73.43 317.9h2.093M77.61 317.9h2.093M106.9 317.9h2.093M136.2 317.9h8.373M159.3 317.9h2.093M163.4 317.9h2.093M56.68 319.2h2.093M140.4 319.2h2.093M44.12 320.5h2.093M88.08 320.5h2.093M142.5 320.5h2.093M19 323.1h2.093M25.28 323.1h2.093M29.47 323.1h2.093M39.93 323.1h4.187M50.4 323.1h4.187M58.77 323.1h2.093M67.15 323.1h2.093M77.61 323.1h2.093M85.99 323.1h4.187M94.36 323.1h2.093M102.7 323.1h2.093M106.9 323.1h2.093M111.1 323.1h2.093M117.4 323.1h2.093M121.6 323.1h2.093M127.9 323.1h2.093M134.1 323.1h2.093M142.5 323.1h4.187M157.2 323.1h2.093M173.9 323.1h2.093M81.8 327h2.093M140.4 327h4.187M161.3 327h2.093M125.8 330.9h2.093M140.4 330.9h4.187M140.4 332.3h2.093M39.93 333.6h4.187M48.31 333.6h2.093M71.33 333.6h2.093M75.52 333.6h2.093M79.71 333.6h2.093M90.17 333.6h4.187M96.45 333.6h4.187M102.7 333.6h12.56M117.4 333.6h8.373M132 333.6h6.28M140.4 333.6h2.093M159.3 333.6h2.093M167.6 333.6h4.187M140.4 334.9h4.187M33.65 336.2h2.093M50.4 336.2h4.187M67.15 336.2h2.093M75.52 336.2h2.093M79.71 336.2h2.093M102.7 336.2h2.093M136.2 336.2h8.373M161.3 336.2h2.093M165.5 336.2h4.187M171.8 336.2h2.093M56.68 337.5h2.093M94.36 337.5h2.093M35.75 338.8h2.093M140.4 338.8h4.187M138.3 344h2.093M23.19 345.3h2.093M54.59 345.3h4.187M60.87 345.3h2.093M71.33 345.3h2.093M79.71 345.3h2.093M88.08 345.3h2.093M96.45 345.3h2.093M104.8 345.3h2.093M125.8 345.3h2.093M132 345.3h2.093M136.2 345.3h2.093M144.6 345.3h2.093M155.1 345.3h2.093M165.5 345.3h2.093M173.9 345.3h2.093"/>
<path stroke="#f7ccd1" stroke-width="1.33" d="M56.68 223.7h2.093M138.3 223.7h2.093M35.75 225h4.187M83.89 225h2.093M165.5 225h2.093M60.87 226.3h2.093M85.99 226.3h2.093M106.9 226.3h2.093M129.9 226.3h2.093M127.9 227.6h2.093M144.6 227.6h2.093M37.84 228.9h2.093M44.12 230.2h4.187M62.96 230.2h2.093M73.43 230.2h2.093M169.7 230.2h2.093M33.65 231.5h4.187M88.08 231.5h2.093M129.9 231.5h2.093M150.9 231.5h2.093M33.65 232.8h6.28M31.56 234.1h2.093M42.03 234.1h2.093M134.1 234.1h2.093M169.7 234.1h2.093M77.61 235.4h2.093M148.8 235.4h2.093M33.65 236.7h2.093M96.45 236.7h2.093M100.6 236.7h2.093M129.9 236.7h2.093M167.6 236.7h2.093M19 238h2.093M27.37 238h2.093M46.21 238h2.093M111.1 238h2.093M39.93 239.4h2.093M115.3 239.4h2.093M146.7 239.4h2.093M21.09 240.7h2.093M33.65 240.7h2.093M42.03 240.7h2.093M50.4 240.7h2.093M67.15 240.7h2.093M111.1 240.7h2.093M123.7 240.7h2.093M134.1 240.7h2.093M159.3 240.7h2.093M167.6 240.7h2.093M33.65 242h4.187M106.9 242h2.093M138.3 242h2.093M153 242h2.093M163.4 242h2.093M173.9 242h2.093M71.33 243.3h2.093M77.61 243.3h6.28M150.9 243.3h2.093M161.3 244.6h2.093M19 245.9h2.093M44.12 245.9h6.28M98.55 245.9h2.093M163.4 245.9h2.093M21.09 247.2h2.093M39.93 247.2h2.093M69.24 247.2h2.093M90.17 247.2h2.093M98.55 247.2h4.187M125.8 247.2h4.187M142.5 247.2h2.093M157.2 247.2h6.28M165.5 247.2h2.093M23.19 248.5h2.093M48.31 248.5h2.093M117.4 248.5h4.187M157.2 248.5h2.093M161.3 248.5h2.093M21.09 249.8h2.093M29.47 249.8h2.093M104.8 249.8h2.093M117.4 249.8h2.093M157.2 249.8h2.093M165.5 249.8h6.28M44.12 251.1h2.093M48.31 251.1h2.093M73.43 251.1h2.093M117.4 251.1h2.093M125.8 251.1h2.093M132 251.1h2.093M165.5 251.1h2.093M21.09 252.4h2.093M42.03 252.4h2.093M69.24 252.4h2.093M75.52 252.4h4.187M96.45 252.4h2.093M104.8 252.4h2.093M113.2 252.4h2.093M136.2 252.4h2.093M155.1 252.4h6.28M48.31 253.7h4.187M54.59 253.7h2.093M73.43 253.7h2.093M96.45 253.7h2.093M129.9 253.7h2.093M142.5 253.7h2.093M153 253.7h2.093M161.3 253.7h2.093M42.03 255.1h2.093M46.21 255.1h2.093M60.87 255.1h2.093M109 255.1h2.093M127.9 255.1h2.093M153 255.1h2.093M104.8 256.4h2.093M148.8 256.4h2.093M19 257.7h2.093M52.49 257.7h2.093M85.99 257.7h2.093M113.2 257.7h2.093M157.2 257.7h2.093M52.49 259h2.093M109 259h2.093M167.6 259h2.093M73.43 260.3h2.093M100.6 260.3h2.093M113.2 260.3h4.187M153 260.3h4.187M23.19 262.9h2.093M46.21 262.9h2.093M119.5 262.9h2.093M148.8 262.9h2.093M157.2 262.9h2.093M25.28 264.2h2.093M29.47 264.2h2.093M44.12 264.2h2.093M48.31 264.2h2.093M134.1 264.2h2.093M140.4 264.2h2.093M144.6 264.2h2.093M173.9 264.2h2.093M21.09 265.5h2.093M27.37 265.5h2.093M54.59 265.5h2.093M98.55 265.5h4.187M52.49 266.8h4.187M58.77 266.8h4.187M71.33 266.8h2.093M19 268.1h2.093M31.56 268.1h2.093M37.84 268.1h6.28M48.31 268.1h2.093M73.43 268.1h2.093M81.8 268.1h2.093M138.3 268.1h2.093M144.6 268.1h2.093M29.47 269.4h6.28M129.9 269.4h4.187M138.3 269.4h2.093M37.84 270.8h8.373M48.31 270.8h2.093M54.59 270.8h4.187M75.52 270.8h2.093M81.8 270.8h2.093M92.27 270.8h2.093M98.55 270.8h4.187M111.1 270.8h4.187M35.75 272.1h4.187M142.5 272.1h2.093M146.7 272.1h2.093M58.77 273.4h4.187M69.24 273.4h4.187M92.27 273.4h2.093M100.6 273.4h2.093M157.2 273.4h2.093M25.28 274.7h2.093M75.52 274.7h2.093M117.4 274.7h4.187M125.8 274.7h2.093M148.8 274.7h2.093M169.7 274.7h2.093M29.47 276h2.093M35.75 276h2.093M54.59 276h2.093M90.17 276h2.093M102.7 276h2.093M21.09 277.3h2.093M29.47 277.3h2.093M46.21 277.3h4.187M56.68 277.3h2.093M62.96 277.3h2.093M75.52 277.3h2.093M100.6 277.3h2.093M106.9 277.3h2.093M132 277.3h2.093M159.3 277.3h2.093M163.4 277.3h2.093M27.37 278.6h2.093M71.33 278.6h4.187M129.9 278.6h2.093M50.4 281.2h2.093M67.15 281.2h2.093M90.17 281.2h2.093M123.7 281.2h4.187M140.4 281.2h2.093M33.65 282.5h2.093M44.12 282.5h2.093M90.17 282.5h2.093M100.6 282.5h2.093M127.9 282.5h2.093M134.1 282.5h2.093M150.9 282.5h2.093M163.4 282.5h2.093M167.6 282.5h2.093M25.28 283.8h2.093M35.75 283.8h2.093M81.8 283.8h2.093M90.17 283.8h2.093M153 283.8h2.093M21.09 285.1h2.093M35.75 285.1h2.093M39.93 285.1h2.093M83.89 285.1h2.093M117.4 285.1h2.093M136.2 285.1h2.093M142.5 285.1h2.093M37.84 286.5h2.093M50.4 286.5h2.093M54.59 286.5h2.093M58.77 286.5h2.093M71.33 286.5h2.093M77.61 286.5h2.093M77.61 287.8h2.093M94.36 287.8h2.093M142.5 287.8h2.093M23.19 289.1h4.187M52.49 289.1h2.093M56.68 289.1h2.093M83.89 289.1h2.093M138.3 289.1h2.093M27.37 290.4h4.187M142.5 290.4h2.093M39.93 291.7h2.093M77.61 291.7h2.093M85.99 291.7h2.093M113.2 291.7h2.093M125.8 291.7h2.093M132 291.7h2.093M19 293h2.093M35.75 293h2.093M54.59 293h4.187M142.5 293h2.093M146.7 293h2.093M165.5 293h2.093M173.9 293h2.093M33.65 294.3h2.093M90.17 294.3h2.093M117.4 294.3h2.093M23.19 295.6h2.093M121.6 295.6h2.093M148.8 295.6h2.093M171.8 295.6h2.093M25.28 296.9h2.093M52.49 296.9h2.093M96.45 296.9h4.187M119.5 296.9h2.093M134.1 296.9h2.093M29.47 298.2h2.093M48.31 298.2h2.093M58.77 298.2h2.093M62.96 298.2h4.187M104.8 298.2h4.187M144.6 298.2h2.093M37.84 299.5h2.093M50.4 299.5h2.093M73.43 299.5h2.093M140.4 299.5h6.28M31.56 300.9h2.093M35.75 300.9h2.093M46.21 300.9h2.093M50.4 300.9h2.093M73.43 300.9h2.093M94.36 300.9h2.093M104.8 300.9h2.093M132 300.9h2.093M148.8 300.9h4.187M159.3 300.9h2.093M173.9 300.9h2.093M39.93 302.2h2.093M85.99 302.2h2.093M121.6 302.2h2.093M21.09 303.5h2.093M46.21 303.5h2.093M109 303.5h2.093M111.1 304.8h2.093M31.56 306.1h2.093M42.03 306.1h4.187M115.3 306.1h2.093M159.3 306.1h2.093M167.6 306.1h2.093M106.9 307.4h2.093M111.1 307.4h2.093M144.6 307.4h2.093M77.61 308.7h4.187M23.19 310h2.093M42.03 310h4.187M85.99 310h2.093M106.9 310h2.093M134.1 310h2.093M144.6 310h2.093M42.03 311.3h2.093M58.77 311.3h2.093M150.9 311.3h2.093M37.84 312.6h4.187M94.36 312.6h2.093M136.2 312.6h2.093M46.21 313.9h2.093M127.9 313.9h2.093M167.6 313.9h2.093M173.9 313.9h2.093M27.37 315.2h2.093M48.31 315.2h2.093M90.17 315.2h2.093M94.36 315.2h2.093M98.55 315.2h2.093M117.4 315.2h2.093M21.09 316.6h2.093M71.33 316.6h6.28M71.33 317.9h2.093M98.55 317.9h6.28M148.8 317.9h2.093M42.03 319.2h2.093M67.15 319.2h2.093M83.89 319.2h4.187M98.55 319.2h2.093M142.5 319.2h2.093M165.5 319.2h2.093M31.56 320.5h2.093M46.21 320.5h2.093M73.43 320.5h2.093M100.6 320.5h2.093M127.9 320.5h2.093M19 321.8h2.093M31.56 321.8h2.093M104.8 323.1h2.093M132 323.1h2.093M150.9 323.1h4.187M161.3 323.1h2.093M171.8 324.4h2.093M159.3 325.7h2.093M39.93 327h2.093M46.21 327h2.093M54.59 327h2.093M73.43 327h2.093M90.17 327h2.093M96.45 327h4.187M127.9 327h2.093M134.1 327h2.093M138.3 327h2.093M150.9 327h2.093M71.33 328.3h2.093M167.6 328.3h2.093M171.8 329.6h2.093M33.65 330.9h2.093M58.77 330.9h2.093M83.89 330.9h2.093M94.36 330.9h2.093M109 330.9h2.093M132 330.9h4.187M165.5 330.9h2.093M21.09 332.3h2.093M27.37 332.3h4.187M44.12 332.3h2.093M56.68 332.3h2.093M77.61 332.3h2.093M111.1 332.3h2.093M115.3 332.3h2.093M119.5 332.3h2.093M138.3 332.3h2.093M146.7 332.3h2.093M19 333.6h2.093M69.24 333.6h2.093M125.8 333.6h2.093M150.9 333.6h2.093M155.1 333.6h2.093M19 334.9h4.187M25.28 334.9h2.093M31.56 334.9h2.093M73.43 334.9h2.093M81.8 334.9h2.093M125.8 334.9h2.093M132 334.9h2.093M157.2 334.9h2.093M25.28 336.2h2.093M35.75 336.2h2.093M44.12 336.2h2.093M85.99 336.2h2.093M92.27 336.2h2.093M109 336.2h2.093M119.5 336.2h2.093M129.9 336.2h2.093M159.3 336.2h2.093M23.19 337.5h2.093M44.12 337.5h2.093M69.24 337.5h2.093M123.7 337.5h2.093M27.37 338.8h2.093M31.56 338.8h2.093M65.05 338.8h2.093M148.8 338.8h2.093M163.4 338.8h2.093M33.65 340.1h2.093M35.75 341.4h2.093M58.77 341.4h2.093M115.3 341.4h4.187M27.37 342.7h4.187M33.65 342.7h2.093M153 342.7h6.28M27.37 344h2.093M48.31 344h2.093M62.96 344h2.093M98.55 344h2.093M121.6 344h6.28M142.5 344h2.093M146.7 344h2.093M44.12 345.3h2.093M113.2 345.3h2.093M117.4 345.3h2.093M129.9 345.3h2.093M169.7 345.3h2.093M71.33 346.6h4.187M129.9 346.6h2.093"/>
<path stroke="#cadbf5" stroke-width="1.33" d="M62.96 225h2.093M69.24 225h2.093M79.71 225h2.093M92.27 225h2.093M104.8 225h2.093M111.1 225h2.093M150.9 225h4.187M161.3 225h2.093M67.15 228.9h2.093M75.52 228.9h2.093M134.1 228.9h2.093M146.7 228.9h2.093M167.6 228.9h2.093M54.59 232.8h2.093M71.33 232.8h4.187M100.6 232.8h2.093M140.4 232.8h2.093M144.6 232.8h4.187M165.5 232.8h2.093M69.24 234.1h2.093M85.99 234.1h2.093M106.9 234.1h2.093M136.2 234.1h2.093M90.17 243.3h2.093M96.45 243.3h2.093M60.87 244.6h2.093M65.05 244.6h2.093M75.52 244.6h2.093M81.8 244.6h2.093M85.99 244.6h2.093M96.45 244.6h2.093M100.6 244.6h2.093M121.6 244.6h2.093M125.8 244.6h2.093M144.6 244.6h6.28M62.96 256.4h2.093M77.61 256.4h2.093M85.99 256.4h2.093M60.87 259h2.093M67.15 259h2.093M88.08 259h2.093M94.36 259h2.093M71.33 265.5h2.093M113.2 265.5h2.093M25.28 272.1h2.093M37.84 279.9h2.093M90.17 279.9h2.093M94.36 279.9h2.093M125.8 279.9h2.093M132 279.9h2.093M150.9 279.9h2.093M155.1 279.9h4.187M165.5 279.9h2.093M79.71 299.5h2.093M113.2 299.5h2.093M119.5 299.5h2.093M146.7 299.5h2.093M165.5 299.5h2.093M169.7 299.5h4.187M140.4 302.2h2.093M19 303.5h2.093M23.19 303.5h2.093M27.37 303.5h4.187M44.12 303.5h2.093M83.89 303.5h2.093M94.36 303.5h2.093M142.5 303.5h2.093M21.09 304.8h4.187M140.4 304.8h4.187M163.4 304.8h8.373M19 306.1h4.187M25.28 306.1h4.187M60.87 306.1h2.093M140.4 306.1h4.187M23.19 308.7h2.093M29.47 308.7h2.093M140.4 308.7h2.093M19 311.3h4.187M19 313.9h12.56M140.4 313.9h2.093M23.19 316.6h2.093M29.47 316.6h2.093M42.03 316.6h2.093M54.59 316.6h2.093M100.6 316.6h2.093M140.4 316.6h4.187M159.3 316.6h2.093M169.7 316.6h2.093M27.37 317.9h2.093M140.4 321.8h4.187M140.4 323.1h2.093M37.84 324.4h2.093M48.31 324.4h2.093M73.43 324.4h2.093M111.1 324.4h2.093M115.3 324.4h2.093M121.6 324.4h2.093M142.5 324.4h2.093M50.4 325.7h2.093M73.43 325.7h2.093M117.4 325.7h2.093M123.7 325.7h2.093M136.2 325.7h2.093M150.9 325.7h2.093M75.52 328.3h2.093M85.99 328.3h2.093M98.55 328.3h2.093M104.8 328.3h2.093M140.4 328.3h4.187M37.84 329.6h2.093M48.31 329.6h2.093M56.68 329.6h2.093M62.96 329.6h2.093M140.4 329.6h4.187M167.6 329.6h2.093M142.5 333.6h2.093M21.09 346.6h2.093M44.12 346.6h2.093M58.77 346.6h2.093M94.36 346.6h2.093M111.1 346.6h4.187M117.4 346.6h2.093M125.8 346.6h2.093M140.4 346.6h2.093M155.1 346.6h4.187"/>
<path stroke="#f5b0b5" stroke-width="1.33" d="M33.65 223.7h4.187M39.93 223.7h2.093M42.03 225h2.093M39.93 226.3h2.093M92.27 226.3h2.093M115.3 226.3h2.093M35.75 227.6h2.093M56.68 227.6h2.093M79.71 227.6h2.093M88.08 227.6h2.093M111.1 227.6h2.093M136.2 227.6h2.093M33.65 228.9h2.093M46.21 228.9h4.187M119.5 228.9h2.093M33.65 230.2h6.28M48.31 230.2h2.093M69.24 230.2h2.093M142.5 231.5h4.187M83.89 232.8h2.093M29.47 234.1h2.093M117.4 234.1h2.093M42.03 235.4h2.093M67.15 236.7h2.093M77.61 236.7h4.187M113.2 236.7h4.187M127.9 236.7h2.093M173.9 236.7h2.093M109 238h2.093M113.2 238h4.187M46.21 239.4h4.187M109 239.4h2.093M144.6 239.4h2.093M44.12 240.7h2.093M54.59 240.7h2.093M58.77 240.7h2.093M79.71 240.7h2.093M161.3 240.7h2.093M165.5 240.7h2.093M102.7 245.9h4.187M33.65 248.5h2.093M148.8 248.5h2.093M159.3 248.5h2.093M62.96 249.8h6.28M144.6 249.8h2.093M31.56 251.1h2.093M157.2 251.1h2.093M52.49 252.4h2.093M100.6 252.4h2.093M58.77 255.1h2.093M19 256.4h2.093M69.24 256.4h2.093M150.9 256.4h2.093M44.12 257.7h2.093M60.87 257.7h2.093M35.75 260.3h2.093M52.49 260.3h2.093M23.19 264.2h2.093M46.21 264.2h2.093M60.87 264.2h2.093M94.36 265.5h2.093M21.09 266.8h2.093M77.61 266.8h2.093M23.19 268.1h4.187M35.75 268.1h2.093M44.12 268.1h2.093M65.05 268.1h2.093M171.8 268.1h2.093M125.8 269.4h2.093M169.7 269.4h2.093M119.5 272.1h2.093M148.8 272.1h4.187M19 273.4h2.093M25.28 273.4h2.093M33.65 273.4h2.093M46.21 273.4h2.093M56.68 273.4h2.093M115.3 273.4h2.093M123.7 273.4h2.093M159.3 273.4h2.093M155.1 274.7h2.093M121.6 277.3h2.093M58.77 278.6h2.093M123.7 278.6h2.093M54.59 281.2h2.093M111.1 281.2h2.093M27.37 282.5h4.187M65.05 282.5h2.093M69.24 282.5h2.093M83.89 282.5h4.187M19 285.1h2.093M46.21 286.5h2.093M19 287.8h2.093M29.47 287.8h2.093M44.12 287.8h2.093M48.31 287.8h2.093M83.89 287.8h2.093M109 287.8h2.093M117.4 287.8h2.093M125.8 287.8h2.093M167.6 287.8h4.187M37.84 289.1h2.093M42.03 289.1h2.093M35.75 290.4h2.093M62.96 290.4h2.093M83.89 290.4h2.093M94.36 290.4h2.093M132 290.4h2.093M155.1 290.4h2.093M19 291.7h2.093M25.28 291.7h2.093M106.9 291.7h2.093M115.3 291.7h2.093M138.3 291.7h2.093M167.6 291.7h2.093M42.03 293h2.093M81.8 293h2.093M104.8 293h2.093M27.37 295.6h2.093M46.21 295.6h2.093M35.75 299.5h2.093M48.31 300.9h2.093M21.09 302.2h2.093M27.37 304.8h4.187M52.49 304.8h2.093M157.2 304.8h4.187M79.71 306.1h2.093M37.84 308.7h2.093M60.87 308.7h2.093M83.89 310h2.093M92.27 310h2.093M117.4 310h2.093M25.28 311.3h2.093M29.47 311.3h2.093M125.8 311.3h4.187M50.4 312.6h2.093M117.4 312.6h2.093M148.8 312.6h2.093M173.9 312.6h2.093M163.4 315.2h2.093M19 316.6h2.093M27.37 316.6h2.093M31.56 317.9h2.093M161.3 317.9h2.093M25.28 319.2h2.093M37.84 319.2h2.093M88.08 319.2h2.093M94.36 319.2h2.093M173.9 319.2h2.093M23.19 320.5h4.187M54.59 320.5h4.187M121.6 320.5h2.093M138.3 320.5h2.093M50.4 328.3h2.093M75.52 330.9h4.187M150.9 332.3h4.187M37.84 334.9h2.093M65.05 336.2h2.093M52.49 337.5h2.093M102.7 337.5h2.093M140.4 337.5h2.093M42.03 338.8h2.093M71.33 338.8h2.093M23.19 341.4h6.28M94.36 341.4h2.093M77.61 342.7h2.093M83.89 342.7h2.093M123.7 342.7h2.093M173.9 342.7h2.093M31.56 344h2.093M65.05 344h4.187M79.71 344h2.093M19 345.3h4.187M77.61 346.6h2.093M88.08 346.6h2.093"/>
<path stroke="#b9cff2" stroke-width="1.33" d="M62.96 238h4.187M96.45 238h2.093M117.4 238h2.093M129.9 238h2.093M140.4 303.5h2.093"/>
<path stroke="#f28e94" stroke-width="1.33" d="M37.84 223.7h2.093M48.31 223.7h2.093M161.3 223.7h4.187M35.75 226.3h4.187M52.49 226.3h2.093M33.65 227.6h2.093M37.84 227.6h4.187M39.93 228.9h2.093M39.93 230.2h2.093M52.49 230.2h2.093M85.99 232.8h2.093M27.37 234.1h2.093M39.93 234.1h2.093M27.37 235.4h6.28M88.08 235.4h2.093M48.31 238h2.093M106.9 238h2.093M19 239.4h2.093M29.47 239.4h4.187M106.9 239.4h2.093M113.2 239.4h2.093M46.21 240.7h2.093M44.12 242h2.093M77.61 242h2.093M29.47 243.3h2.093M90.17 244.6h2.093M106.9 245.9h2.093M155.1 247.2h2.093M90.17 249.8h2.093M44.12 253.7h2.093M142.5 255.1h6.28M21.09 256.4h4.187M29.47 256.4h2.093M37.84 257.7h4.187M37.84 259h6.28M31.56 260.3h2.093M33.65 262.9h2.093M140.4 262.9h2.093M27.37 264.2h2.093M31.56 264.2h2.093M35.75 264.2h4.187M29.47 266.8h2.093M27.37 272.1h2.093M109 272.1h2.093M19 277.3h2.093M148.8 277.3h2.093M100.6 278.6h4.187M23.19 279.9h2.093M56.68 285.1h2.093M60.87 285.1h2.093M35.75 287.8h2.093M46.21 287.8h2.093M67.15 289.1h4.187M60.87 290.4h2.093M104.8 290.4h2.093M29.47 291.7h2.093M153 291.7h2.093M44.12 293h4.187M92.27 293h2.093M123.7 293h2.093M39.93 294.3h4.187M113.2 294.3h2.093M29.47 295.6h4.187M33.65 298.2h2.093M92.27 298.2h2.093M23.19 302.2h2.093M136.2 302.2h4.187M142.5 302.2h2.093M54.59 303.5h2.093M58.77 303.5h2.093M56.68 304.8h2.093M23.19 306.1h2.093M52.49 306.1h2.093M62.96 306.1h2.093M25.28 308.7h2.093M35.75 308.7h2.093M113.2 308.7h2.093M33.65 310h2.093M161.3 310h2.093M52.49 312.6h2.093M58.77 312.6h2.093M23.19 315.2h2.093M44.12 315.2h4.187M25.28 316.6h2.093M35.75 316.6h2.093M58.77 317.9h2.093M127.9 319.2h2.093M52.49 320.5h2.093M67.15 320.5h2.093M169.7 320.5h2.093M132 321.8h4.187M77.61 324.4h2.093M37.84 328.3h2.093M58.77 328.3h4.187M54.59 329.6h2.093M79.71 330.9h2.093M31.56 333.6h2.093M35.75 333.6h2.093M153 333.6h2.093M148.8 334.9h2.093M142.5 337.5h2.093M113.2 340.1h2.093M39.93 341.4h4.187M138.3 341.4h2.093M81.8 342.7h2.093M81.8 344h4.187M138.3 346.6h2.093"/>
<path stroke="#f06b71" stroke-width="1.33" d="M21.09 223.7h2.093M44.12 223.7h2.093M67.15 223.7h2.093M119.5 223.7h2.093M19 225h2.093M119.5 225h2.093M31.56 226.3h2.093M48.31 226.3h2.093M119.5 226.3h2.093M48.31 227.6h2.093M50.4 230.2h2.093M138.3 230.2h2.093M48.31 231.5h2.093M146.7 231.5h2.093M21.09 232.8h2.093M48.31 232.8h2.093M75.52 234.1h2.093M48.31 235.4h2.093M94.36 235.4h2.093M111.1 235.4h2.093M37.84 238h2.093M25.28 239.4h2.093M37.84 239.4h2.093M60.87 239.4h4.187M111.1 239.4h2.093M37.84 240.7h2.093M27.37 242h2.093M54.59 242h2.093M79.71 242h2.093M102.7 242h2.093M27.37 244.6h2.093M92.27 244.6h2.093M134.1 247.2h2.093M138.3 247.2h2.093M81.8 248.5h2.093M75.52 251.1h2.093M50.4 252.4h2.093M60.87 252.4h2.093M90.17 252.4h2.093M39.93 253.7h4.187M153 256.4h2.093M33.65 260.3h2.093M71.33 262.9h2.093M19 266.8h2.093M50.4 266.8h2.093M161.3 269.4h2.093M21.09 270.8h2.093M96.45 270.8h2.093M75.52 272.1h2.093M96.45 272.1h4.187M165.5 272.1h2.093M27.37 273.4h2.093M42.03 274.7h2.093M42.03 276h2.093M150.9 277.3h2.093M142.5 278.6h2.093M42.03 281.2h2.093M48.31 281.2h2.093M127.9 281.2h4.187M127.9 283.8h2.093M58.77 285.1h2.093M117.4 286.5h2.093M33.65 287.8h2.093M37.84 287.8h2.093M127.9 287.8h2.093M33.65 289.1h2.093M85.99 289.1h2.093M58.77 290.4h2.093M79.71 290.4h2.093M90.17 293h2.093M115.3 294.3h2.093M163.4 294.3h2.093M150.9 295.6h2.093M94.36 298.2h2.093M117.4 298.2h2.093M121.6 298.2h2.093M29.47 300.9h2.093M75.52 302.2h2.093M67.15 303.5h2.093M153 303.5h2.093M54.59 304.8h2.093M58.77 306.1h2.093M81.8 306.1h2.093M62.96 308.7h2.093M111.1 308.7h2.093M96.45 313.9h2.093M113.2 315.2h2.093M39.93 316.6h2.093M58.77 316.6h2.093M121.6 317.9h2.093M150.9 319.2h2.093M65.05 320.5h2.093M77.61 321.8h2.093M146.7 321.8h2.093M50.4 324.4h2.093M102.7 324.4h2.093M144.6 325.7h2.093M27.37 327h2.093M39.93 328.3h2.093M42.03 329.6h4.187M42.03 332.3h2.093M81.8 333.6h4.187M60.87 334.9h2.093M144.6 336.2h4.187M46.21 338.8h2.093M58.77 338.8h2.093M62.96 338.8h2.093M140.4 341.4h2.093M159.3 345.3h2.093"/>
<path stroke="#ee484e" stroke-width="1.33" d="M25.28 223.7h2.093M65.05 223.7h2.093M102.7 223.7h4.187M33.65 226.3h2.093M31.56 227.6h2.093M42.03 227.6h2.093M46.21 227.6h2.093M106.9 227.6h4.187M119.5 227.6h2.093M19 228.9h2.093M58.77 228.9h2.093M104.8 228.9h4.187M25.28 230.2h2.093M119.5 230.2h2.093M21.09 231.5h4.187M119.5 231.5h2.093M33.65 234.1h6.28M73.43 234.1h2.093M23.19 236.7h2.093M39.93 238h2.093M25.28 240.7h2.093M39.93 240.7h2.093M48.31 240.7h2.093M19 242h2.093M39.93 242h2.093M48.31 242h2.093M121.6 242h2.093M27.37 243.3h2.093M35.75 244.6h2.093M171.8 244.6h2.093M136.2 247.2h2.093M138.3 256.4h2.093M29.47 257.7h2.093M146.7 257.7h2.093M161.3 257.7h2.093M39.93 264.2h2.093M19 265.5h2.093M173.9 265.5h2.093M150.9 266.8h2.093M79.71 268.1h2.093M96.45 268.1h2.093M115.3 269.4h2.093M119.5 269.4h2.093M121.6 270.8h2.093M33.65 272.1h2.093M94.36 272.1h2.093M121.6 272.1h2.093M159.3 272.1h2.093M29.47 273.4h4.187M39.93 273.4h2.093M102.7 273.4h2.093M134.1 274.7h4.187M23.19 278.6h2.093M44.12 278.6h2.093M140.4 278.6h2.093M25.28 279.9h2.093M127.9 279.9h2.093M46.21 281.2h2.093M52.49 282.5h2.093M111.1 282.5h2.093M129.9 283.8h4.187M35.75 286.5h2.093M115.3 286.5h2.093M65.05 289.1h2.093M31.56 291.7h2.093M117.4 293h4.187M150.9 293h2.093M65.05 295.6h4.187M23.19 298.2h2.093M119.5 298.2h2.093M77.61 300.9h2.093M79.71 302.2h2.093M161.3 302.2h2.093M52.49 303.5h2.093M56.68 303.5h2.093M58.77 304.8h2.093M117.4 304.8h2.093M134.1 304.8h2.093M54.59 306.1h2.093M85.99 308.7h2.093M33.65 312.6h2.093M98.55 312.6h2.093M42.03 313.9h2.093M56.68 315.2h2.093M125.8 315.2h2.093M157.2 315.2h2.093M65.05 316.6h2.093M56.68 317.9h2.093M123.7 317.9h4.187M165.5 317.9h2.093M37.84 320.5h2.093M140.4 320.5h2.093M33.65 323.1h2.093M21.09 328.3h2.093M46.21 329.6h2.093M98.55 329.6h2.093M46.21 330.9h4.187M134.1 332.3h2.093M171.8 333.6h2.093M62.96 334.9h2.093M150.9 334.9h2.093M144.6 337.5h2.093M60.87 338.8h2.093M144.6 338.8h2.093M54.59 340.1h2.093M62.96 340.1h2.093M31.56 342.7h2.093M119.5 344h2.093M148.8 345.3h2.093M79.71 346.6h2.093"/>
<path stroke="#e82c33" stroke-width="1.33" d="M19 223.7h2.093M23.19 223.7h2.093M23.19 225h4.187M25.28 227.6h2.093M44.12 227.6h2.093M85.99 227.6h2.093M25.28 228.9h2.093M23.19 230.2h2.093M25.28 231.5h2.093M39.93 231.5h2.093M39.93 232.8h2.093M119.5 232.8h2.093M33.65 235.4h2.093M85.99 236.7h4.187M29.47 238h2.093M23.19 240.7h2.093M29.47 240.7h2.093M69.24 240.7h6.28M98.55 240.7h4.187M29.47 242h2.093M88.08 244.6h2.093M35.75 248.5h4.187M42.03 248.5h2.093M171.8 251.1h2.093M171.8 255.1h2.093M27.37 256.4h2.093M171.8 256.4h2.093M31.56 257.7h2.093M48.31 257.7h2.093M92.27 257.7h4.187M159.3 259h4.187M111.1 268.1h2.093M159.3 268.1h4.187M117.4 269.4h2.093M144.6 269.4h2.093M159.3 269.4h2.093M119.5 270.8h2.093M161.3 270.8h4.187M163.4 272.1h2.093M42.03 273.4h2.093M85.99 273.4h2.093M104.8 273.4h2.093M119.5 273.4h2.093M148.8 273.4h2.093M167.6 274.7h2.093M44.12 276h2.093M157.2 281.2h2.093M39.93 282.5h2.093M50.4 282.5h2.093M144.6 282.5h4.187M33.65 286.5h2.093M102.7 287.8h2.093M153 287.8h2.093M153 293h2.093M79.71 300.9h4.187M115.3 302.2h2.093M85.99 307.4h2.093M90.17 308.7h2.093M163.4 308.7h2.093M111.1 311.3h4.187M44.12 313.9h2.093M153 315.2h4.187M119.5 316.6h2.093M21.09 319.2h2.093M27.37 319.2h2.093M39.93 319.2h2.093M54.59 319.2h2.093M159.3 321.8h2.093M127.9 324.4h2.093M54.59 325.7h2.093M98.55 330.9h2.093M23.19 332.3h2.093M73.43 332.3h2.093M121.6 332.3h2.093M88.08 334.9h4.187M39.93 336.2h2.093M115.3 337.5h2.093M115.3 338.8h2.093M146.7 338.8h2.093M48.31 340.1h4.187M117.4 340.1h2.093M25.28 342.7h2.093M27.37 345.3h4.187"/>
<path stroke="#de2128" stroke-width="1.33" d="M48.31 225h2.093M37.84 231.5h2.093M19 232.8h2.093M23.19 232.8h2.093M48.31 234.1h2.093M39.93 235.4h2.093M19 240.7h2.093M37.84 242h2.093M171.8 245.9h2.093M44.12 248.5h2.093M153 248.5h2.093M58.77 252.4h2.093M171.8 260.3h2.093M79.71 262.9h2.093M92.27 268.1h2.093M104.8 268.1h2.093M163.4 268.1h2.093M165.5 269.4h2.093M165.5 270.8h2.093M161.3 272.1h2.093M167.6 272.1h2.093M121.6 273.4h2.093M44.12 274.7h2.093M25.28 278.6h2.093M46.21 278.6h4.187M148.8 282.5h2.093M161.3 285.1h2.093M169.7 285.1h2.093M31.56 286.5h2.093M161.3 286.5h2.093M169.7 286.5h4.187M27.37 289.1h2.093M132 295.6h2.093M48.31 296.9h2.093M56.68 300.9h2.093M77.61 302.2h2.093M171.8 302.2h2.093M35.75 306.1h2.093M56.68 306.1h2.093M102.7 307.4h2.093M159.3 308.7h2.093M21.09 312.6h2.093M35.75 312.6h2.093M46.21 312.6h2.093M111.1 312.6h4.187M117.4 317.9h2.093M23.19 319.2h2.093M29.47 319.2h2.093M161.3 321.8h2.093M104.8 324.4h2.093M129.9 324.4h4.187M113.2 327h4.187M54.59 334.9h4.187M42.03 336.2h2.093M113.2 336.2h4.187M117.4 337.5h2.093M117.4 338.8h2.093M115.3 340.1h2.093M50.4 341.4h2.093"/>
<path stroke="#d3151e" stroke-width="1.33" d="M39.93 225h2.093M21.09 226.3h2.093M23.19 227.6h2.093M19 231.5h2.093M25.28 232.8h2.093M37.84 235.4h2.093M173.9 244.6h2.093M155.1 248.5h2.093M171.8 253.7h2.093M171.8 257.7h2.093M173.9 259h2.093M54.59 268.1h2.093M109 268.1h2.093M163.4 269.4h2.093M167.6 270.8h2.093M31.56 283.8h2.093M146.7 285.1h2.093M171.8 285.1h2.093M134.1 291.7h2.093M148.8 293h2.093M125.8 296.9h2.093M138.3 296.9h2.093M52.49 299.5h2.093M171.8 303.5h2.093M100.6 307.4h2.093M102.7 310h2.093M39.93 313.9h2.093M58.77 315.2h2.093M169.7 315.2h4.187M123.7 319.2h2.093M123.7 324.4h2.093M52.49 325.7h2.093M58.77 325.7h4.187M33.65 328.3h2.093M21.09 329.6h2.093M50.4 330.9h2.093M42.03 334.9h2.093M52.49 334.9h2.093"/>
<path stroke="#c80a14" stroke-width="1.33" d="M21.09 225h2.093M21.09 228.9h2.093M19 234.1h2.093M23.19 235.4h2.093M35.75 235.4h2.093M173.9 245.9h2.093M171.8 247.2h4.187M46.21 248.5h2.093M171.8 249.8h2.093M33.65 252.4h2.093M171.8 252.4h4.187M171.8 259h2.093M173.9 260.3h2.093M165.5 268.1h2.093M167.6 269.4h2.093M159.3 270.8h2.093M52.49 281.2h2.093M129.9 289.1h2.093M129.9 290.4h2.093M153 290.4h2.093M138.3 295.6h2.093M52.49 298.2h2.093M54.59 299.5h2.093M127.9 315.2h2.093M117.4 316.6h2.093M119.5 317.9h2.093M123.7 323.1h4.187M125.8 324.4h2.093M35.75 327h2.093M85.99 332.3h2.093M46.21 333.6h2.093M39.93 334.9h2.093M44.12 334.9h4.187M48.31 341.4h2.093"/>
<path stroke="#b00710" stroke-width="1.33" d="M23.19 226.3h2.093M19 227.6h4.187M23.19 228.9h2.093M21.09 230.2h2.093M23.19 234.1h2.093M119.5 234.1h2.093M21.09 235.4h2.093M171.8 248.5h2.093M173.9 251.1h2.093M167.6 268.1h2.093M127.9 296.9h2.093M54.59 298.2h2.093M163.4 310h2.093M44.12 333.6h2.093"/>
<path stroke="#98040d" stroke-width="1.33" d="M19 226.3h2.093M21.09 234.1h2.093M46.21 242h2.093M173.9 249.8h2.093M173.9 253.7h2.093M173.9 257.7h2.093M159.3 266.8h2.093M42.03 277.3h4.187M33.65 320.5h2.093M62.96 320.5h2.093M85.99 330.9h2.093"/>
<path stroke="#800109" stroke-width="1.33" d="M19 230.2h2.093M25.28 234.1h2.093M25.28 235.4h2.093M173.9 248.5h2.093M173.9 256.4h2.093M39.93 320.5h2.093"/>
<path stroke="#780008" stroke-width="1.33" d="M25.28 226.3h2.093M19 235.4h2.093M27.37 239.4h2.093M27.37 240.7h2.093M173.9 255.1h2.093M171.8 262.9h4.187M35.75 320.5h2.093M33.65 327h2.093M35.75 328.3h2.093"/><rect x="19" y="261.4" width="157" height="1.4" fill="#ffffff"/></g>
<rect x="19" y="215.8" width="157" height="6.1" fill="#66ee00"/>
<rect x="25.75" y="215.8" width="1.5" height="6.1" fill="#b83ae8"/>
<rect x="31.95" y="215.8" width="1.5" height="6.1" fill="#b83ae8"/>
<rect x="37.05" y="215.8" width="1.5" height="6.1" fill="#b83ae8"/>
<rect x="47.35" y="215.8" width="1.5" height="6.1" fill="#b83ae8"/>
<rect x="51.65" y="215.8" width="1.5" height="6.1" fill="#b83ae8"/>
<rect x="65.40" y="215.8" width="2.2" height="6.1" fill="#b83ae8"/>
<rect x="86.55" y="215.8" width="1.5" height="6.1" fill="#b83ae8"/>
<rect x="118.65" y="215.8" width="1.5" height="6.1" fill="#b83ae8"/>
<rect x="126.95" y="215.8" width="1.5" height="6.1" fill="#b83ae8"/>
<rect x="148.95" y="215.8" width="1.5" height="6.1" fill="#b83ae8"/>
<rect x="154.95" y="215.8" width="1.5" height="6.1" fill="#b83ae8"/>
<rect x="172.65" y="215.8" width="1.5" height="6.1" fill="#b83ae8"/>
<path d="M22.4 208.5V202.7H122.3V203.7H172.3V215 M71 203.7V204.3 M172.3 203.7H175V215 M33.6 208V206.3H109.6V208 M133 209V207.2H147.5V209 M147.5 208H162L165 210" stroke="#8a8a8a" stroke-width="0.7" fill="none"/>
<path d="M20.05 215.2V209.2H22.14V215.2M80.83 215.2V208.9H82.92V215.2M87.12 215.2V208.7H89.21V215.2M38.91 215.2V209.5H41.01V215.2M154.2 215.2V209.3H156.3V215.2M47.29 215.2V209.1H49.39V215.2M24.24 215.2V208.7H26.34V215.2M133.2 215.2V208.8H135.3V215.2M93.4 215.2V208.8H95.5V215.2M122.7 215.2V209.4H124.8V215.2M108.1 215.2V208.9H110.2V215.2M55.68 215.2V209.3H57.77V215.2M66.16 215.2V209.2H68.25V215.2M112.3 215.2V209.6H114.4V215.2M76.64 215.2V208.7H78.73V215.2M32.62 215.2V208.8H34.72V215.2M145.8 215.2V209.4H147.9V215.2M59.87 215.2V209.1H61.97V215.2M160.5 215.2V209.6H162.6V215.2M97.6 215.2V209.5H99.69V215.2M150 215.2V208.8H152.1V215.2M139.5 215.2V209H141.6V215.2M43.1 215.2V209.5H45.2V215.2M51.49 215.2V208.8H53.58V215.2M116.5 215.2V208.8H118.6V215.2M28.43 215.2V209.1H30.53V215.2M103.9 215.2V208.8H106V215.2M129 215.2V209.1H131.1V215.2M164.7 215.2V208.9H166.8V215.2M158.4 215.2V209H161.5V209.6M36.82 215.2V208.7H39.96V209.5M70.35 215.2V209.2H72.45V215.2M123.8 209.4V208.9H126.9V215.2M168.9 215.2V208.8H171V215.2M143.7 215.2V208.6H146.8V209.4M71.4 209.2V208.6H74.54V215.2M44.15 209.5V208.5H48.34V209.1M98.64 209.5V208.3H101.8V215.2M60.92 209.1V208.4H64.06V215.2M159.9 209V208.4H165.7V208.9M117.5 208.8V208.3H120.7V215.2M137.4 215.2V208.7H140.6V209M109.1 208.9V207.6H113.3V209.6M52.53 208.8V208.2H56.73V209.3M81.88 208.9V208.3H85.02V215.2M125.4 208.9V208.3H130.1V209.1M91.31 215.2V207.9H94.45V208.8M72.97 208.6V207.5H77.68V208.7M151 208.8V208.5H155.2V209.3M33.67 208.8V208.3H38.39V208.7M62.49 208.4V207.9H67.21V209.2M100.2 208.3V207.9H104.9V208.8M134.3 208.8V208.1H139V208.7M153.1 208.5V207.8H162.8V208.4M21.1 209.2V208.3H25.29V208.7M36.03 208.3V208H46.25V208.5M83.45 208.3V207.6H88.16V208.7M92.88 207.9V207.1H102.6V207.9M29.48 209.1V207H41.14V208M127.7 208.3V207.5H136.6V208.1M75.33 207.5V206.5H85.81V207.6M111.2 207.6V206.6H119.1V208.3M132.2 207.5V206.8H145.3V208.6M54.63 208.2V206.7H64.85V207.9M158 207.8V207.1H169.9V208.8M59.74 206.7V206.1H80.57V206.5M23.19 208.3V206.1H35.31V207M138.7 206.8V205.6H163.9V207.1M97.73 207.1V205.9H115.1V206.6M29.25 206.1V204.9H70.15V206.1M106.4 205.9V204.5H151.3V205.6M49.7 204.9V203.5H128.9V204.5" fill="none" stroke="#808080" stroke-width="0.7"/>
<path d="M16 226.5H12.2V237.2H16 M12.2 232.4H6.8V300 M6.8 300H10 M9.5 250.6H12 V262 M12.2 245.8V256" stroke="#8a8a8a" stroke-width="0.7" fill="none"/>
<path d="M19 240.7H18.72V242H19M19 342.7H18.41V344H19M19 264.2H18.8V265.5H19M19 281.2H18.41V282.5H19M19 226.3H18.82V227.6H19M19 317.9H18.82V319.2H19M19 330.9H18.66V332.3H19M19 308.7H18.89V310H19M19 287.8H18.91V289.1H19M19 313.9H18.7V315.2H19M19 243.3H18.28V244.6H19M19 236.7H18.35V238H19M19 285.2H18.78V286.5H19M19 328.3H18.36V329.6H19M19 261.6H18.8V262.9H19M19 302.2H18.91V303.5H19M19 245.9H18.64V247.2H19M19 323.1H18.84V324.4H19M19 232.8H18.81V234.1H19M19 293H18.85V294.3H19M19 251.1H18.66V252.4H19M19 278.6H18.68V279.9H19M19 270.8H18.5V272.1H19M19 230.2H18.25V231.5H19M19 325.7H18.8V327H19M19 276H18.54V277.3H19M19 340.1H18.72V341.4H19M19 223.7H18.52V225H19M19 273.4H18.22V274.7H19M19 266.8H18.82V268.1H19M19 257.7H18.53V259H19M19 295.6H18.59V296.9H19M19 337.5H18.63V338.8H19M19 311.3H18.9V312.6H19M19 345.3H18.43V346.6H19M19 248.5H18.77V249.8H19M19 290.4H18.38V291.7H19M19 333.6H18.51V334.9H19M19 299.5H18.58V300.9H19M19 253.7H18.89V255.1H19M19 320.5H18.27V321.8H19M19 306.1H18.34V307.4H19M18.91 302.8H18.6V304.8H19M18.89 254.4H18.71V256.4H19M18.8 264.9H18.39V267.5H18.82M18.81 233.5H17.76V235.4H19M18.78 285.8H18.31V288.4H18.91M18.89 309.4H18.25V312H18.9M18.84 323.7H17.69V326.4H18.8M19 316.6H18.25V318.5H18.82M18.82 226.9H18.51V228.9H19M19 239.4H17.8V241.3H18.72M19 260.3H18.06V262.3H18.8M18.58 300.2H17.92V303.8H18.6M18.77 249.2H17.6V251.8H18.66M18.59 296.3H18.05V298.2H19M18.66 331.6H17.9V334.2H18.51M19 336.2H17.53V338.1H18.63M18.72 340.8H17.82V343.4H18.41M18.71 255.4H17.9V258.3H18.53M18.52 224.3H17.46V227.9H18.51M19 269.4H17.68V271.4H18.5M18.7 314.6H16.99V317.5H18.25M18.41 281.9H17.62V283.8H19M18.31 287.1H17.52V291H18.38M18.34 306.7H17.81V310.7H18.25M18.22 274H16.81V276.6H18.54M17.82 342.1H16.55V346H18.43M18.85 293.7H16.71V297.3H18.05M17.92 302H16.17V308.7H17.81M17.76 234.4H16.99V237.4H18.35M18.28 243.9H17.86V246.6H18.64M18.27 321.1H16.31V325.1H17.69M17.8 240.3H17.26V245.2H17.86M17.9 256.9H16.19V261.3H18.06M18.68 279.3H15.79V282.9H17.62M18.36 329H16.76V332.9H17.9M16.99 235.9H15.81V242.8H17.26M18.39 266.2H16.58V270.4H17.68M17.46 226.1H15.77V230.9H18.25M16.58 268.3H14.73V275.3H16.81M17.52 289.1H16.16V295.5H16.71M16.76 330.9H14.92V337.2H17.53M16.17 305.3H14.18V316.1H16.99M17.6 250.5H14.08V259.1H16.19M15.77 228.5H13.57V239.4H15.81M16.31 323.1H14.18V334.1H14.92M15.79 281.1H14.71V292.3H16.16M14.73 271.8H13.52V286.7H14.71M14.18 328.6H11.8V344H16.55M13.52 279.2H11.5V310.7H14.18M13.57 233.9H11.03V254.8H14.08M11.5 295H9.428V336.3H11.8M11.03 244.3H8V315.6H9.428" fill="none" stroke="#444" stroke-width="0.5"/>
<rect x="17.6" y="223" width="1.4" height="124.3" fill="#111"/>
<path d="M20 350.9H176" stroke="#666" stroke-width="2.2" stroke-dasharray="0.8,0.5,1.2,0.4,0.6,0.7"/>
<defs><linearGradient id="cbC" x1="0" y1="0" x2="0" y2="1"><stop offset="0" stop-color="#5a0008"/><stop offset="0.33" stop-color="#e01020"/><stop offset="0.6" stop-color="#ffc0c8"/><stop offset="0.665" stop-color="#ffffff"/><stop offset="0.8" stop-color="#9fc0ff"/><stop offset="1" stop-color="#1030ff"/></linearGradient></defs>
<rect x="188.3" y="248.3" width="4.3" height="60.8" fill="url(#cbC)"/>
<text x="195.6" y="252.0" font-size="7.2" fill="#333">10</text>
<text x="195.6" y="271.3" font-size="7.2" fill="#333">5</text>
<text x="195.6" y="291.3" font-size="7.2" fill="#333">0</text>
<text x="195.6" y="310.6" font-size="7.2" fill="#333">–5</text>
<text transform="translate(185.2,275) rotate(-90)" font-size="6.1" font-weight="bold" fill="#111">Expression</text>
<text x="207.5" y="246.9" font-size="6.1" font-weight="bold" fill="#111">CEBPA allelic status</text>
<rect x="207.2" y="253.2" width="4.3" height="4.3" fill="#66ee00"/>
<rect x="207.2" y="261.1" width="4.3" height="4.3" fill="#b83ae8"/>
<text x="214.7" y="257.7" font-size="6.65" fill="#333">Double mut</text>
<text x="214.7" y="265.6" font-size="6.65" fill="#333">Single bZip mut</text>
<path d="M309.7 197.3 V331.2 H465.9" stroke="#222" stroke-width="1" fill="none"/>
<path d="M307.5 226 H309.7" stroke="#222" stroke-width="0.8"/>
<text x="305.3" y="228.8" font-size="7.7" font-weight="normal" text-anchor="end" fill="#333" >750</text>
<path d="M307.5 259.2 H309.7" stroke="#222" stroke-width="0.8"/>
<text x="305.3" y="262.0" font-size="7.7" font-weight="normal" text-anchor="end" fill="#333" >500</text>
<path d="M307.5 292.4 H309.7" stroke="#222" stroke-width="0.8"/>
<text x="305.3" y="295.2" font-size="7.7" font-weight="normal" text-anchor="end" fill="#333" >250</text>
<path d="M307.5 325.6 H309.7" stroke="#222" stroke-width="0.8"/>
<text x="305.3" y="328.4" font-size="7.7" font-weight="normal" text-anchor="end" fill="#333" >0</text>
<path d="M338.9 331.2 V333.2" stroke="#222" stroke-width="0.8"/>
<path d="M387.6 331.2 V333.2" stroke="#222" stroke-width="0.8"/>
<path d="M436.5 331.2 V333.2" stroke="#222" stroke-width="0.8"/>
<text x="339.2" y="342.4" font-size="8" font-weight="normal" text-anchor="middle" fill="#333" >Double</text>
<text x="339.2" y="351.2" font-size="8" font-weight="normal" text-anchor="middle" fill="#333" >mut</text>
<text x="387.6" y="342.0" font-size="8" font-weight="normal" text-anchor="middle" fill="#333" >Single bZip</text>
<text x="387.6" y="351.2" font-size="8" font-weight="normal" text-anchor="middle" fill="#333" >mut</text>
<text x="436.2" y="342.0" font-size="8" font-weight="normal" text-anchor="middle" fill="#333" >Wildtype</text>
<text x="387.9" y="363.9" font-size="7.9" font-weight="normal" text-anchor="middle" fill="#333" >CEBPA mutation</text>
<text transform="translate(286,264) rotate(-90)" font-size="7.8" text-anchor="middle" fill="#333">CEBPA transcript expression (TPM)</text>
<text x="337.8" y="226.6" font-size="7.92" font-weight="normal" text-anchor="middle" fill="#333" >Median</text>
<text x="337.8" y="236.1" font-size="7.92" font-weight="normal" text-anchor="middle" fill="#333" >234.13 TPM</text>
<text x="385.1" y="226.6" font-size="7.92" font-weight="normal" text-anchor="middle" fill="#333" >Median</text>
<text x="385.1" y="236.1" font-size="7.92" font-weight="normal" text-anchor="middle" fill="#333" >246.12 TPM</text>
<text x="436.5" y="226.6" font-size="7.92" font-weight="normal" text-anchor="middle" fill="#333" >Median</text>
<text x="436.5" y="236.1" font-size="7.92" font-weight="normal" text-anchor="middle" fill="#333" >57.83 TPM</text>
<circle cx="340.3" cy="248.3" r="2.2" fill="#6ef01e" stroke="#1a2a0a" stroke-width="0.5"/>
<circle cx="335.4" cy="251" r="2.2" fill="#6ef01e" stroke="#1a2a0a" stroke-width="0.5"/>
<circle cx="334.1" cy="253.7" r="2.2" fill="#6ef01e" stroke="#1a2a0a" stroke-width="0.5"/>
<circle cx="336.8" cy="258.8" r="2.2" fill="#6ef01e" stroke="#1a2a0a" stroke-width="0.5"/>
<circle cx="340.3" cy="260.2" r="2.2" fill="#6ef01e" stroke="#1a2a0a" stroke-width="0.5"/>
<circle cx="343" cy="258.1" r="2.2" fill="#6ef01e" stroke="#1a2a0a" stroke-width="0.5"/>
<circle cx="341.2" cy="264.2" r="2.2" fill="#6ef01e" stroke="#1a2a0a" stroke-width="0.5"/>
<circle cx="337.6" cy="266.6" r="2.2" fill="#6ef01e" stroke="#1a2a0a" stroke-width="0.5"/>
<circle cx="334.9" cy="271.6" r="2.2" fill="#6ef01e" stroke="#1a2a0a" stroke-width="0.5"/>
<circle cx="341.6" cy="270.2" r="2.2" fill="#6ef01e" stroke="#1a2a0a" stroke-width="0.5"/>
<circle cx="340.5" cy="273" r="2.2" fill="#6ef01e" stroke="#1a2a0a" stroke-width="0.5"/>
<circle cx="331.1" cy="276.6" r="2.2" fill="#6ef01e" stroke="#1a2a0a" stroke-width="0.5"/>
<circle cx="336.2" cy="275.6" r="2.2" fill="#6ef01e" stroke="#1a2a0a" stroke-width="0.5"/>
<circle cx="346.6" cy="276.6" r="2.2" fill="#6ef01e" stroke="#1a2a0a" stroke-width="0.5"/>
<circle cx="343.2" cy="277.6" r="2.2" fill="#6ef01e" stroke="#1a2a0a" stroke-width="0.5"/>
<circle cx="335.2" cy="280.3" r="2.2" fill="#6ef01e" stroke="#1a2a0a" stroke-width="0.5"/>
<circle cx="338.5" cy="281" r="2.2" fill="#6ef01e" stroke="#1a2a0a" stroke-width="0.5"/>
<circle cx="335.2" cy="283.7" r="2.2" fill="#6ef01e" stroke="#1a2a0a" stroke-width="0.5"/>
<circle cx="334.6" cy="286.8" r="2.2" fill="#6ef01e" stroke="#1a2a0a" stroke-width="0.5"/>
<circle cx="344.2" cy="286.3" r="2.2" fill="#6ef01e" stroke="#1a2a0a" stroke-width="0.5"/>
<circle cx="338.5" cy="289" r="2.2" fill="#6ef01e" stroke="#1a2a0a" stroke-width="0.5"/>
<circle cx="341.2" cy="289.7" r="2.2" fill="#6ef01e" stroke="#1a2a0a" stroke-width="0.5"/>
<circle cx="337.8" cy="290.8" r="2.2" fill="#6ef01e" stroke="#1a2a0a" stroke-width="0.5"/>
<circle cx="330.9" cy="291.7" r="2.2" fill="#6ef01e" stroke="#1a2a0a" stroke-width="0.5"/>
<circle cx="334.5" cy="292.4" r="2.2" fill="#6ef01e" stroke="#1a2a0a" stroke-width="0.5"/>
<circle cx="342.6" cy="292.8" r="2.2" fill="#6ef01e" stroke="#1a2a0a" stroke-width="0.5"/>
<circle cx="346.2" cy="292.4" r="2.2" fill="#6ef01e" stroke="#1a2a0a" stroke-width="0.5"/>
<circle cx="337.8" cy="295.1" r="2.2" fill="#6ef01e" stroke="#1a2a0a" stroke-width="0.5"/>
<circle cx="339.9" cy="296.4" r="2.2" fill="#6ef01e" stroke="#1a2a0a" stroke-width="0.5"/>
<circle cx="331.1" cy="298.8" r="2.2" fill="#6ef01e" stroke="#1a2a0a" stroke-width="0.5"/>
<circle cx="345.6" cy="298.8" r="2.2" fill="#6ef01e" stroke="#1a2a0a" stroke-width="0.5"/>
<circle cx="347.3" cy="300.9" r="2.2" fill="#6ef01e" stroke="#1a2a0a" stroke-width="0.5"/>
<circle cx="327.4" cy="302.5" r="2.2" fill="#6ef01e" stroke="#1a2a0a" stroke-width="0.5"/>
<circle cx="331.1" cy="304.5" r="2.2" fill="#6ef01e" stroke="#1a2a0a" stroke-width="0.5"/>
<circle cx="336.5" cy="305.2" r="2.2" fill="#6ef01e" stroke="#1a2a0a" stroke-width="0.5"/>
<circle cx="340.5" cy="304.9" r="2.2" fill="#6ef01e" stroke="#1a2a0a" stroke-width="0.5"/>
<circle cx="343.9" cy="303.8" r="2.2" fill="#6ef01e" stroke="#1a2a0a" stroke-width="0.5"/>
<circle cx="347.3" cy="303.8" r="2.2" fill="#6ef01e" stroke="#1a2a0a" stroke-width="0.5"/>
<circle cx="319.3" cy="305.2" r="2.2" fill="#6ef01e" stroke="#1a2a0a" stroke-width="0.5"/>
<circle cx="355.3" cy="307.2" r="2.2" fill="#6ef01e" stroke="#1a2a0a" stroke-width="0.5"/>
<circle cx="331.1" cy="308.1" r="2.2" fill="#6ef01e" stroke="#1a2a0a" stroke-width="0.5"/>
<circle cx="338.9" cy="309.9" r="2.2" fill="#6ef01e" stroke="#1a2a0a" stroke-width="0.5"/>
<circle cx="345.2" cy="309.6" r="2.2" fill="#6ef01e" stroke="#1a2a0a" stroke-width="0.5"/>
<circle cx="330.1" cy="312.8" r="2.2" fill="#6ef01e" stroke="#1a2a0a" stroke-width="0.5"/>
<circle cx="347.9" cy="313" r="2.2" fill="#6ef01e" stroke="#1a2a0a" stroke-width="0.5"/>
<circle cx="333.1" cy="315.6" r="2.2" fill="#6ef01e" stroke="#1a2a0a" stroke-width="0.5"/>
<circle cx="335.4" cy="317.9" r="2.2" fill="#6ef01e" stroke="#1a2a0a" stroke-width="0.5"/>
<circle cx="341.9" cy="318.6" r="2.2" fill="#6ef01e" stroke="#1a2a0a" stroke-width="0.5"/>
<circle cx="345.6" cy="317.3" r="2.2" fill="#6ef01e" stroke="#1a2a0a" stroke-width="0.5"/>
<circle cx="330.1" cy="320.9" r="2.2" fill="#6ef01e" stroke="#1a2a0a" stroke-width="0.5"/>
<circle cx="335.2" cy="322" r="2.2" fill="#6ef01e" stroke="#1a2a0a" stroke-width="0.5"/>
<circle cx="338.5" cy="320.2" r="2.2" fill="#6ef01e" stroke="#1a2a0a" stroke-width="0.5"/>
<circle cx="346.9" cy="321.3" r="2.2" fill="#6ef01e" stroke="#1a2a0a" stroke-width="0.5"/>
<circle cx="338.9" cy="324.7" r="2.2" fill="#6ef01e" stroke="#1a2a0a" stroke-width="0.5"/>
<circle cx="341.2" cy="324.2" r="2.2" fill="#6ef01e" stroke="#1a2a0a" stroke-width="0.5"/>
<path d="M326.8 294.1H351" stroke="#111" stroke-width="0.9"/>
<path d="M372.8 292.4H399.9" stroke="#111" stroke-width="0.9"/>
<circle cx="389.9" cy="244.3" r="2.2" fill="#b33be6" stroke="#2a0a40" stroke-width="0.5"/>
<circle cx="378" cy="259.9" r="2.2" fill="#b33be6" stroke="#2a0a40" stroke-width="0.5"/>
<circle cx="381.4" cy="262.8" r="2.2" fill="#b33be6" stroke="#2a0a40" stroke-width="0.5"/>
<circle cx="389.6" cy="263.1" r="2.2" fill="#b33be6" stroke="#2a0a40" stroke-width="0.5"/>
<circle cx="393.6" cy="261.2" r="2.2" fill="#b33be6" stroke="#2a0a40" stroke-width="0.5"/>
<circle cx="383.8" cy="280.3" r="2.2" fill="#b33be6" stroke="#2a0a40" stroke-width="0.5"/>
<circle cx="372.8" cy="292.4" r="2.2" fill="#b33be6" stroke="#2a0a40" stroke-width="0.5"/>
<circle cx="395.9" cy="306.2" r="2.2" fill="#b33be6" stroke="#2a0a40" stroke-width="0.5"/>
<circle cx="383.5" cy="310.3" r="2.2" fill="#b33be6" stroke="#2a0a40" stroke-width="0.5"/>
<circle cx="390.9" cy="313.6" r="2.2" fill="#b33be6" stroke="#2a0a40" stroke-width="0.5"/>
<circle cx="386.2" cy="315.9" r="2.2" fill="#b33be6" stroke="#2a0a40" stroke-width="0.5"/>
<circle cx="388.9" cy="317.9" r="2.2" fill="#b33be6" stroke="#2a0a40" stroke-width="0.5"/>
<circle cx="387.8" cy="319.7" r="2.2" fill="#b33be6" stroke="#2a0a40" stroke-width="0.5"/>
<circle cx="436.5" cy="203.2" r="1.75" fill="#7a9595" stroke="#030505" stroke-width="0.8"/>
<circle cx="436.1" cy="244.0" r="1.75" fill="#7a9595" stroke="#030505" stroke-width="0.8"/>
<circle cx="436.3" cy="247.3" r="1.75" fill="#7a9595" stroke="#030505" stroke-width="0.8"/>
<circle cx="436.2" cy="254.5" r="1.75" fill="#7a9595" stroke="#030505" stroke-width="0.8"/>
<circle cx="436.4" cy="260.2" r="1.75" fill="#7a9595" stroke="#030505" stroke-width="0.8"/>
<circle cx="436.4" cy="266.5" r="1.75" fill="#7a9595" stroke="#030505" stroke-width="0.8"/>
<circle cx="436.0" cy="269.5" r="1.75" fill="#7a9595" stroke="#030505" stroke-width="0.8"/>
<circle cx="434.9" cy="272.0" r="1.75" fill="#7a9595" stroke="#030505" stroke-width="0.8"/>
<circle cx="437.9" cy="273.2" r="1.75" fill="#7a9595" stroke="#030505" stroke-width="0.8"/>
<circle cx="435.5" cy="274.5" r="1.75" fill="#7a9595" stroke="#030505" stroke-width="0.8"/>
<circle cx="437.3" cy="275.7" r="1.75" fill="#7a9595" stroke="#030505" stroke-width="0.8"/>
<circle cx="434.9" cy="277.0" r="1.75" fill="#7a9595" stroke="#030505" stroke-width="0.8"/>
<circle cx="437.9" cy="278.2" r="1.75" fill="#7a9595" stroke="#030505" stroke-width="0.8"/>
<circle cx="435.5" cy="279.5" r="1.75" fill="#7a9595" stroke="#030505" stroke-width="0.8"/>
<circle cx="437.3" cy="280.7" r="1.75" fill="#7a9595" stroke="#030505" stroke-width="0.8"/>
<circle cx="434.9" cy="282.0" r="1.75" fill="#7a9595" stroke="#030505" stroke-width="0.8"/>
<circle cx="437.9" cy="283.2" r="1.75" fill="#7a9595" stroke="#030505" stroke-width="0.8"/>
<circle cx="435.5" cy="284.5" r="1.75" fill="#7a9595" stroke="#030505" stroke-width="0.8"/>
<circle cx="437.3" cy="285.7" r="1.75" fill="#7a9595" stroke="#030505" stroke-width="0.8"/>
<circle cx="434.9" cy="287.0" r="1.75" fill="#7a9595" stroke="#030505" stroke-width="0.8"/>
<circle cx="437.9" cy="288.2" r="1.75" fill="#7a9595" stroke="#030505" stroke-width="0.8"/>
<circle cx="435.5" cy="289.5" r="1.75" fill="#7a9595" stroke="#030505" stroke-width="0.8"/>
<circle cx="437.3" cy="290.7" r="1.75" fill="#7a9595" stroke="#030505" stroke-width="0.8"/>
<circle cx="434.9" cy="292.0" r="1.75" fill="#7a9595" stroke="#030505" stroke-width="0.8"/>
<circle cx="437.9" cy="293.2" r="1.75" fill="#7a9595" stroke="#030505" stroke-width="0.8"/>
<circle cx="435.5" cy="294.5" r="1.75" fill="#7a9595" stroke="#030505" stroke-width="0.8"/>
<circle cx="437.3" cy="295.7" r="1.75" fill="#7a9595" stroke="#030505" stroke-width="0.8"/>
<circle cx="435.9" cy="296.8" r="1.95" fill="#7a9595" stroke="#030505" stroke-width="0.8"/>
<circle cx="433.5" cy="299.8" r="1.95" fill="#7a9595" stroke="#030505" stroke-width="0.8"/>
<circle cx="438.9" cy="299.3" r="1.95" fill="#7a9595" stroke="#030505" stroke-width="0.8"/>
<circle cx="432.3" cy="301.8" r="1.95" fill="#7a9595" stroke="#030505" stroke-width="0.8"/>
<circle cx="436.5" cy="302.2" r="1.95" fill="#7a9595" stroke="#030505" stroke-width="0.8"/>
<circle cx="441.2" cy="302.5" r="1.95" fill="#7a9595" stroke="#030505" stroke-width="0.8"/>
<circle cx="430.0" cy="305.2" r="1.95" fill="#7a9595" stroke="#030505" stroke-width="0.8"/>
<circle cx="434.6" cy="305.0" r="1.95" fill="#7a9595" stroke="#030505" stroke-width="0.8"/>
<circle cx="438.9" cy="304.7" r="1.95" fill="#7a9595" stroke="#030505" stroke-width="0.8"/>
<circle cx="442.5" cy="304.4" r="1.95" fill="#7a9595" stroke="#030505" stroke-width="0.8"/>
<circle cx="428.4" cy="307.6" r="1.95" fill="#7a9595" stroke="#030505" stroke-width="0.8"/>
<circle cx="431.3" cy="308.0" r="1.95" fill="#7a9595" stroke="#030505" stroke-width="0.8"/>
<circle cx="435.1" cy="307.6" r="1.95" fill="#7a9595" stroke="#030505" stroke-width="0.8"/>
<circle cx="438.7" cy="308.1" r="1.95" fill="#7a9595" stroke="#030505" stroke-width="0.8"/>
<circle cx="441.9" cy="308.1" r="1.95" fill="#7a9595" stroke="#030505" stroke-width="0.8"/>
<circle cx="445.5" cy="307.3" r="1.95" fill="#7a9595" stroke="#030505" stroke-width="0.8"/>
<circle cx="425.3" cy="310.4" r="1.95" fill="#7a9595" stroke="#030505" stroke-width="0.8"/>
<circle cx="429.0" cy="310.4" r="1.95" fill="#7a9595" stroke="#030505" stroke-width="0.8"/>
<circle cx="433.5" cy="310.6" r="1.95" fill="#7a9595" stroke="#030505" stroke-width="0.8"/>
<circle cx="436.4" cy="310.6" r="1.95" fill="#7a9595" stroke="#030505" stroke-width="0.8"/>
<circle cx="440.2" cy="310.9" r="1.95" fill="#7a9595" stroke="#030505" stroke-width="0.8"/>
<circle cx="443.4" cy="310.7" r="1.95" fill="#7a9595" stroke="#030505" stroke-width="0.8"/>
<circle cx="447.3" cy="310.9" r="1.95" fill="#7a9595" stroke="#030505" stroke-width="0.8"/>
<circle cx="423.0" cy="313.0" r="1.95" fill="#7a9595" stroke="#030505" stroke-width="0.8"/>
<circle cx="426.7" cy="313.6" r="1.95" fill="#7a9595" stroke="#030505" stroke-width="0.8"/>
<circle cx="429.8" cy="313.4" r="1.95" fill="#7a9595" stroke="#030505" stroke-width="0.8"/>
<circle cx="432.6" cy="313.1" r="1.95" fill="#7a9595" stroke="#030505" stroke-width="0.8"/>
<circle cx="436.9" cy="312.9" r="1.95" fill="#7a9595" stroke="#030505" stroke-width="0.8"/>
<circle cx="440.5" cy="313.7" r="1.95" fill="#7a9595" stroke="#030505" stroke-width="0.8"/>
<circle cx="443.9" cy="313.8" r="1.95" fill="#7a9595" stroke="#030505" stroke-width="0.8"/>
<circle cx="447.0" cy="312.9" r="1.95" fill="#7a9595" stroke="#030505" stroke-width="0.8"/>
<circle cx="450.7" cy="313.6" r="1.95" fill="#7a9595" stroke="#030505" stroke-width="0.8"/>
<circle cx="419.8" cy="316.6" r="1.95" fill="#7a9595" stroke="#030505" stroke-width="0.8"/>
<circle cx="422.8" cy="316.1" r="1.95" fill="#7a9595" stroke="#030505" stroke-width="0.8"/>
<circle cx="426.3" cy="316.6" r="1.95" fill="#7a9595" stroke="#030505" stroke-width="0.8"/>
<circle cx="430.2" cy="315.9" r="1.95" fill="#7a9595" stroke="#030505" stroke-width="0.8"/>
<circle cx="433.6" cy="315.7" r="1.95" fill="#7a9595" stroke="#030505" stroke-width="0.8"/>
<circle cx="436.0" cy="316.2" r="1.95" fill="#7a9595" stroke="#030505" stroke-width="0.8"/>
<circle cx="440.0" cy="315.6" r="1.95" fill="#7a9595" stroke="#030505" stroke-width="0.8"/>
<circle cx="442.6" cy="315.8" r="1.95" fill="#7a9595" stroke="#030505" stroke-width="0.8"/>
<circle cx="446.7" cy="316.0" r="1.95" fill="#7a9595" stroke="#030505" stroke-width="0.8"/>
<circle cx="449.6" cy="316.2" r="1.95" fill="#7a9595" stroke="#030505" stroke-width="0.8"/>
<circle cx="453.6" cy="315.8" r="1.95" fill="#7a9595" stroke="#030505" stroke-width="0.8"/>
<circle cx="417.2" cy="319.3" r="1.95" fill="#7a9595" stroke="#030505" stroke-width="0.8"/>
<circle cx="421.6" cy="318.9" r="1.95" fill="#7a9595" stroke="#030505" stroke-width="0.8"/>
<circle cx="424.3" cy="318.8" r="1.95" fill="#7a9595" stroke="#030505" stroke-width="0.8"/>
<circle cx="428.5" cy="319.1" r="1.95" fill="#7a9595" stroke="#030505" stroke-width="0.8"/>
<circle cx="431.9" cy="318.6" r="1.95" fill="#7a9595" stroke="#030505" stroke-width="0.8"/>
<circle cx="434.6" cy="318.7" r="1.95" fill="#7a9595" stroke="#030505" stroke-width="0.8"/>
<circle cx="438.2" cy="319.4" r="1.95" fill="#7a9595" stroke="#030505" stroke-width="0.8"/>
<circle cx="441.6" cy="318.9" r="1.95" fill="#7a9595" stroke="#030505" stroke-width="0.8"/>
<circle cx="445.2" cy="318.9" r="1.95" fill="#7a9595" stroke="#030505" stroke-width="0.8"/>
<circle cx="448.6" cy="318.4" r="1.95" fill="#7a9595" stroke="#030505" stroke-width="0.8"/>
<circle cx="451.9" cy="318.8" r="1.95" fill="#7a9595" stroke="#030505" stroke-width="0.8"/>
<circle cx="455.4" cy="319.0" r="1.95" fill="#7a9595" stroke="#030505" stroke-width="0.8"/>
<circle cx="416.9" cy="321.9" r="1.95" fill="#7a9595" stroke="#030505" stroke-width="0.8"/>
<circle cx="421.0" cy="322.2" r="1.95" fill="#7a9595" stroke="#030505" stroke-width="0.8"/>
<circle cx="424.5" cy="321.5" r="1.95" fill="#7a9595" stroke="#030505" stroke-width="0.8"/>
<circle cx="427.3" cy="321.7" r="1.95" fill="#7a9595" stroke="#030505" stroke-width="0.8"/>
<circle cx="431.5" cy="321.8" r="1.95" fill="#7a9595" stroke="#030505" stroke-width="0.8"/>
<circle cx="434.7" cy="321.5" r="1.95" fill="#7a9595" stroke="#030505" stroke-width="0.8"/>
<circle cx="438.4" cy="321.6" r="1.95" fill="#7a9595" stroke="#030505" stroke-width="0.8"/>
<circle cx="441.5" cy="321.5" r="1.95" fill="#7a9595" stroke="#030505" stroke-width="0.8"/>
<circle cx="445.4" cy="321.6" r="1.95" fill="#7a9595" stroke="#030505" stroke-width="0.8"/>
<circle cx="448.9" cy="321.8" r="1.95" fill="#7a9595" stroke="#030505" stroke-width="0.8"/>
<circle cx="451.5" cy="321.5" r="1.95" fill="#7a9595" stroke="#030505" stroke-width="0.8"/>
<circle cx="455.0" cy="321.6" r="1.95" fill="#7a9595" stroke="#030505" stroke-width="0.8"/>
<circle cx="418.6" cy="324.3" r="1.95" fill="#7a9595" stroke="#030505" stroke-width="0.8"/>
<circle cx="421.0" cy="324.3" r="1.95" fill="#7a9595" stroke="#030505" stroke-width="0.8"/>
<circle cx="425.0" cy="324.8" r="1.95" fill="#7a9595" stroke="#030505" stroke-width="0.8"/>
<circle cx="428.5" cy="324.4" r="1.95" fill="#7a9595" stroke="#030505" stroke-width="0.8"/>
<circle cx="431.3" cy="324.9" r="1.95" fill="#7a9595" stroke="#030505" stroke-width="0.8"/>
<circle cx="434.5" cy="324.2" r="1.95" fill="#7a9595" stroke="#030505" stroke-width="0.8"/>
<circle cx="438.5" cy="324.3" r="1.95" fill="#7a9595" stroke="#030505" stroke-width="0.8"/>
<circle cx="441.1" cy="324.7" r="1.95" fill="#7a9595" stroke="#030505" stroke-width="0.8"/>
<circle cx="444.4" cy="324.9" r="1.95" fill="#7a9595" stroke="#030505" stroke-width="0.8"/>
<circle cx="448.0" cy="324.5" r="1.95" fill="#7a9595" stroke="#030505" stroke-width="0.8"/>
<circle cx="451.6" cy="324.2" r="1.95" fill="#7a9595" stroke="#030505" stroke-width="0.8"/>
<circle cx="454.2" cy="324.1" r="1.95" fill="#7a9595" stroke="#030505" stroke-width="0.8"/>
<rect x="0.5" y="0.5" width="519" height="371" fill="none" stroke="#000" stroke-width="1"/>
<rect x="1.25" y="1.25" width="517.5" height="369.5" fill="none" stroke="#000" stroke-opacity="0.5" stroke-width="0.5"/>
</svg></body></html>
